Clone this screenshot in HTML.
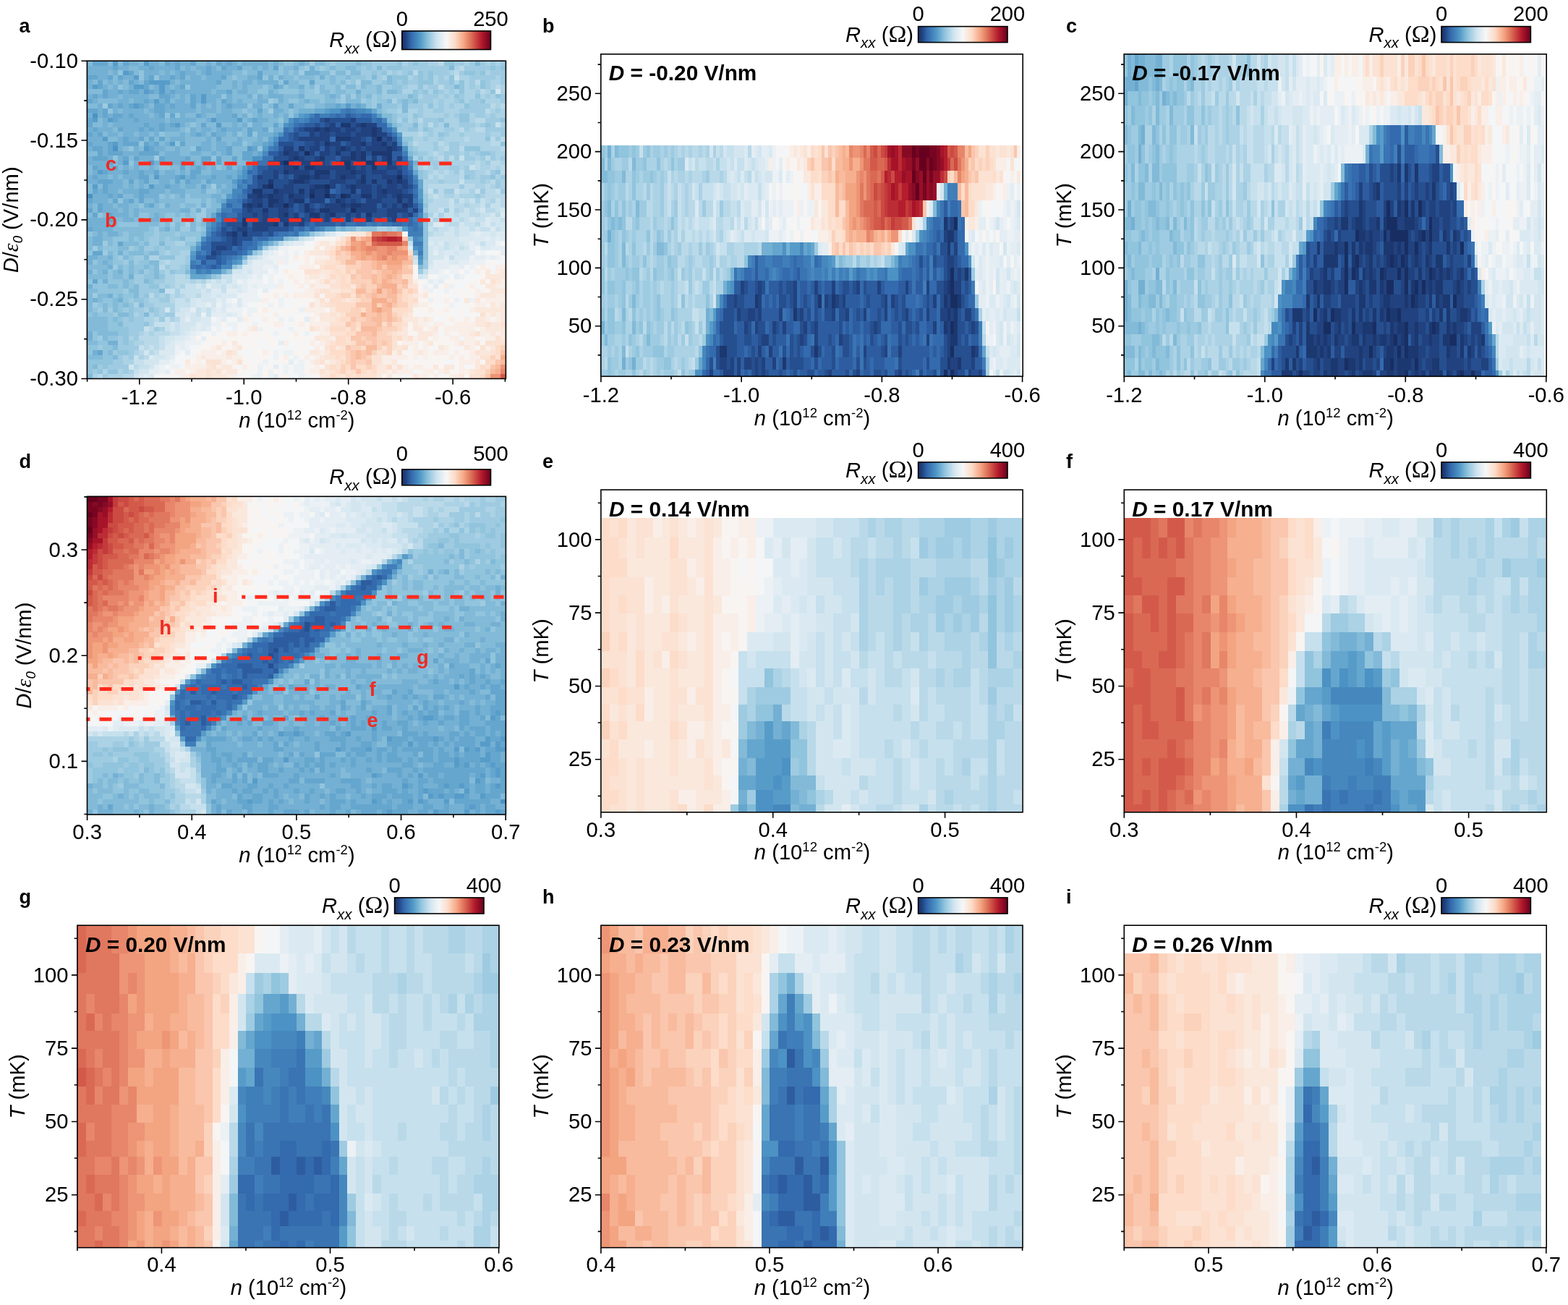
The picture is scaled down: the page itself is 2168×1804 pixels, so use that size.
<!DOCTYPE html>
<html lang="en"><head><meta charset="utf-8"><title>Figure</title>
<style>html,body{margin:0;padding:0;background:#fff}svg{display:block}text{font-family:"Liberation Sans",Arial,sans-serif;fill:#000}</style></head>
<body>
<svg xmlns="http://www.w3.org/2000/svg" width="2168" height="1804" viewBox="0 0 2168 1804">
<defs><linearGradient id="cb" x1="0" y1="0" x2="1" y2="0"><stop offset="0" stop-color="#182e62"/><stop offset="0.05" stop-color="#224684"/><stop offset="0.1" stop-color="#3267ac"/><stop offset="0.2" stop-color="#4e96c6"/><stop offset="0.3" stop-color="#92c5de"/><stop offset="0.4" stop-color="#d1e5f0"/><stop offset="0.5" stop-color="#f7f7f7"/><stop offset="0.6" stop-color="#fddbc7"/><stop offset="0.7" stop-color="#f4a582"/><stop offset="0.8" stop-color="#d6604d"/><stop offset="0.9" stop-color="#b2182b"/><stop offset="1" stop-color="#67001f"/></linearGradient></defs>
<rect width="2168" height="1804" fill="#fff"/>
<g id="panel-a">
<g shape-rendering="crispEdges" fill="none" stroke-width="1.06" transform="translate(120.40 87.48) scale(7.1481 6.5567)"><path stroke="#182e62" d="M56 16h1M42 19h1M38 21h1M60 24h1M35 26h1M46 26h1M43 28h1M46 28h1M49 28h1M38 30h1M51 31h1M44 33h1"/><path stroke="#1c3870" d="M49 13h2M53 13h1M44 14h1M46 14h1M55 14h1M55 15h1M48 16h3M46 17h1M53 17h1M57 17h1M41 18h1M49 18h1M58 18h1M38 19h1M48 19h1M51 19h1M53 19h1M55 19h4M40 20h1M45 20h1M51 20h1M53 20h1M58 20h1M44 21h1M49 21h2M54 21h2M58 21h1M40 22h1M42 22h2M50 22h1M55 22h1M38 23h1M44 23h3M51 23h1M41 24h2M44 24h1M49 24h1M53 24h1M35 25h1M40 25h2M53 25h1M55 25h1M58 25h1M60 25h1M34 26h1M44 26h2M51 26h1M32 27h2M36 27h1M41 27h1M43 27h1M46 27h1M51 27h1M57 27h1M33 28h1M35 28h1M39 28h1M50 28h1M53 28h2M60 28h1M35 29h2M40 29h2M48 29h1M60 29h1M31 30h1M33 30h1M35 30h1M42 30h1M49 30h1M51 30h2M61 30h1M34 31h1M42 31h1M45 31h2M38 32h1M43 32h2M47 32h1M54 32h1M30 33h1M40 33h1M30 34h1M36 34h1M38 34h1M28 36h1M30 36h1"/><path stroke="#21427f" d="M46 12h1M51 12h1M47 13h1M52 13h1M54 13h2M42 14h2M45 14h1M47 14h2M50 14h2M53 14h2M56 14h1M43 15h1M45 15h2M48 15h3M52 15h3M56 15h2M41 16h6M51 16h2M55 16h1M58 16h1M44 17h1M47 17h2M51 17h2M55 17h2M59 17h1M38 18h2M43 18h2M46 18h1M48 18h1M50 18h1M52 18h1M54 18h4M59 18h1M39 19h2M43 19h1M45 19h2M52 19h1M39 20h1M41 20h1M44 20h1M49 20h2M52 20h1M55 20h1M57 20h1M60 20h1M37 21h1M39 21h1M41 21h3M45 21h1M52 21h2M57 21h1M38 22h2M44 22h6M51 22h1M53 22h1M58 22h2M36 23h1M39 23h4M48 23h3M52 23h2M55 23h3M60 23h1M33 24h1M36 24h1M40 24h1M43 24h1M45 24h2M48 24h1M50 24h2M57 24h3M39 25h1M42 25h1M47 25h3M52 25h1M59 25h1M61 25h1M38 26h2M43 26h1M47 26h1M50 26h1M52 26h3M56 26h1M58 26h2M61 26h1M37 27h3M44 27h2M53 27h2M56 27h1M58 27h3M31 28h2M34 28h1M36 28h2M40 28h2M44 28h2M47 28h1M56 28h2M59 28h1M61 28h2M32 29h2M37 29h1M39 29h1M43 29h3M49 29h1M51 29h1M54 29h3M62 29h1M30 30h1M32 30h1M36 30h2M39 30h1M46 30h3M50 30h1M53 30h3M57 30h1M59 30h1M62 30h1M31 31h1M37 31h2M43 31h1M47 31h3M52 31h4M58 31h4M63 31h1M32 32h1M34 32h1M37 32h1M40 32h1M46 32h1M50 32h1M52 32h1M58 32h2M62 32h1M34 33h1M37 33h3M41 33h1M43 33h1M46 33h1M48 33h1M50 33h1M52 33h1M54 33h1M59 33h1M32 34h4M41 34h1M29 35h2M32 35h3M27 36h1M28 37h1M28 38h1M25 39h2M24 40h1"/><path stroke="#264f8f" d="M45 12h1M47 12h4M44 13h1M46 13h1M51 13h1M41 14h1M49 14h1M52 14h1M40 15h1M44 15h1M47 15h1M51 15h1M40 16h1M53 16h1M57 16h1M37 17h3M42 17h2M45 17h1M50 17h1M54 17h1M58 17h1M42 18h1M47 18h1M51 18h1M53 18h1M60 18h1M37 19h1M41 19h1M47 19h1M49 19h2M54 19h1M36 20h3M42 20h2M46 20h2M35 21h2M46 21h1M48 21h1M51 21h1M56 21h1M59 21h2M35 22h3M41 22h1M52 22h1M54 22h1M56 22h2M60 22h1M34 23h2M37 23h1M43 23h1M47 23h1M54 23h1M58 23h2M34 24h2M38 24h1M47 24h1M52 24h1M54 24h3M61 24h1M33 25h2M36 25h3M43 25h4M50 25h2M54 25h1M56 25h2M33 26h1M36 26h2M40 26h3M49 26h1M55 26h1M57 26h1M60 26h1M62 26h1M34 27h2M40 27h1M42 27h1M49 27h2M55 27h1M61 27h1M38 28h1M42 28h1M48 28h1M51 28h2M55 28h1M58 28h1M31 29h1M34 29h1M38 29h1M47 29h1M50 29h1M52 29h1M57 29h3M61 29h1M34 30h1M41 30h1M43 30h1M45 30h1M58 30h1M60 30h1M30 31h1M32 31h2M35 31h2M39 31h1M41 31h1M44 31h1M50 31h1M56 31h2M30 32h2M33 32h1M35 32h2M39 32h1M42 32h1M45 32h1M48 32h2M51 32h1M55 32h3M61 32h1M28 33h1M31 33h3M35 33h1M42 33h1M45 33h1M53 33h1M56 33h1M58 33h1M60 33h2M27 34h3M39 34h2M26 35h1M28 35h1M31 35h1M35 35h4M26 36h1M29 36h1M31 36h3M35 36h1M27 37h1M29 37h3M24 38h4M29 38h1M24 39h1M27 39h1M25 40h1M23 41h2"/><path stroke="#2d5da0" d="M50 11h1M52 12h3M42 13h2M45 13h1M48 13h1M40 14h1M39 15h1M41 15h2M58 15h1M39 16h1M54 16h1M59 16h1M40 17h2M49 17h1M37 18h1M40 18h1M45 18h1M35 19h2M44 19h1M59 19h2M48 20h1M54 20h1M56 20h1M59 20h1M40 21h1M47 21h1M61 21h1M33 22h2M61 22h1M33 23h1M61 23h1M32 24h1M37 24h1M39 24h1M62 24h1M32 25h1M62 25h1M31 26h2M48 26h1M31 27h1M48 27h1M52 27h1M62 27h1M30 29h1M42 29h1M53 29h1M40 30h1M44 30h1M56 30h1M63 30h1M40 31h1M62 31h1M29 32h1M41 32h1M53 32h1M60 32h1M29 33h1M36 33h1M47 33h1M51 33h1M55 33h1M26 34h1M31 34h1M37 34h1M42 34h1M44 34h4M49 34h1M27 35h1M39 35h1M25 36h1M34 36h1M26 37h1M29 39h1M26 40h3M25 41h1M22 42h1M25 42h1M24 43h1"/><path stroke="#346aae" d="M44 11h1M48 11h1M51 11h1M53 11h2M43 12h2M56 12h1M41 13h1M56 13h2M57 14h1M38 15h1M37 16h2M47 16h1M61 20h1M31 23h1M62 23h1M63 26h1M30 27h1M47 27h1M63 28h1M46 29h1M27 30h1M28 31h2M26 32h1M63 32h1M26 33h2M49 33h1M57 33h1M62 33h1M43 34h1M48 34h1M52 34h2M59 34h2M62 34h1M25 35h1M41 35h1M43 35h1M24 36h1M36 36h1M24 37h2M33 37h2M23 38h1M30 38h2M22 39h2M28 39h1M30 39h1M23 40h1M29 40h1M21 41h2M26 41h1M26 42h1M21 43h1M23 43h1M25 43h1"/><path stroke="#3a74b3" d="M50 10h1M47 11h1M49 11h1M52 11h1M55 12h1M40 13h1M38 14h1M58 14h1M59 15h1M36 18h1M34 20h2M33 21h2M32 22h1M32 23h1M30 25h1M63 27h1M30 28h1M29 29h1M63 29h1M64 31h1M27 32h2M25 34h1M50 34h2M55 34h1M57 34h2M61 34h1M63 34h1M40 35h1M63 35h1M37 36h2M40 36h1M23 37h1M32 37h1M22 38h1M32 38h1M31 39h2M21 40h1M30 40h1M27 41h1M23 42h2M20 43h1M22 43h1"/><path stroke="#407eb9" d="M49 10h1M51 10h1M43 11h1M45 11h2M55 11h1M40 12h1M42 12h1M39 14h1M36 17h1M60 17h1M35 18h1M61 19h1M62 22h1M31 24h1M31 25h1M63 25h1M29 26h1M29 28h1M27 29h2M28 30h2M64 30h1M26 31h2M25 32h1M63 33h2M54 34h1M56 34h1M24 35h1M42 35h1M44 35h1M62 35h1M64 35h1M39 36h1M62 36h3M35 37h1M63 38h2M22 40h1M64 40h1M28 41h1M20 42h1M27 42h1M21 44h1M23 44h1"/><path stroke="#4688be" d="M52 10h2M41 12h1M57 12h1M39 13h1M60 16h1M34 19h1M32 21h1M62 21h1M31 22h1M63 24h1M29 25h1M30 26h1M28 27h2M28 28h1M26 30h1M64 32h1M25 33h1M24 34h1M64 34h1M45 35h1M23 36h1M36 37h2M63 37h1M33 38h1M64 39h1M29 41h1M21 42h1M26 43h2M22 44h1"/><path stroke="#4c92c4" d="M47 10h2M54 10h1M1 11h1M42 11h1M39 12h1M38 13h1M59 14h1M37 15h1M36 16h1M5 18h1M61 18h1M32 20h2M30 23h1M30 24h1M0 28h1M64 29h1M24 33h1M23 35h1M22 37h1M64 37h1M21 39h1M63 39h1M31 40h1M20 41h1M64 41h1M28 42h1M24 44h2"/><path stroke="#579cc9" d="M5 0h1M11 0h1M7 2h1M9 3h1M12 4h4M1 5h1M9 5h2M14 5h1M11 6h1M14 6h1M22 7h1M13 8h1M22 8h1M9 9h1M50 9h1M46 10h1M41 11h1M56 11h1M1 12h1M4 12h1M24 12h1M29 12h1M17 13h1M25 13h1M58 13h1M60 15h1M3 16h1M5 17h1M16 17h1M35 17h1M11 18h1M31 18h1M34 18h1M7 21h1M12 21h1M30 22h1M2 23h1M13 24h1M18 24h1M29 24h1M28 25h1M1 26h1M12 26h1M64 27h1M27 28h1M64 28h1M23 34h1M46 35h2M61 35h1M41 36h1M34 38h1M33 39h1M20 40h1M29 42h1M64 42h1M20 44h1"/><path stroke="#65a6ce" d="M1 0h3M7 0h1M15 0h1M17 0h1M20 0h1M25 0h1M27 0h1M5 1h1M12 1h1M17 1h1M23 1h1M26 1h1M29 1h1M36 1h1M8 2h1M18 2h1M23 2h1M33 2h1M0 3h2M4 3h1M6 3h1M12 3h1M16 3h1M18 3h1M26 3h1M33 3h1M2 4h1M8 4h1M11 4h1M25 4h1M38 4h1M43 4h1M2 5h1M11 5h1M18 5h1M36 5h1M3 6h1M6 6h1M8 6h2M12 6h1M16 6h1M27 6h1M1 7h1M3 7h1M14 7h2M20 7h1M0 8h1M11 8h1M15 8h1M20 8h1M26 8h1M4 9h1M6 9h1M8 9h1M10 9h1M13 9h2M16 9h1M20 9h1M27 9h1M36 9h1M39 9h1M48 9h1M52 9h1M0 10h2M3 10h1M13 10h2M33 10h1M44 10h2M55 10h1M3 11h1M5 11h2M8 11h1M14 11h1M16 11h1M21 11h1M28 11h1M0 12h1M5 12h1M9 12h1M32 12h1M0 13h1M11 13h1M14 13h1M16 13h1M22 13h1M36 13h1M1 14h1M6 14h1M10 14h1M12 14h1M14 14h1M26 14h1M31 14h1M34 14h1M0 15h1M2 15h1M21 15h1M24 15h1M31 15h1M36 15h1M7 16h1M10 16h1M12 16h1M14 16h1M25 16h1M35 16h1M0 17h1M4 17h1M7 17h3M11 17h1M13 17h1M18 17h1M34 17h1M1 18h2M4 18h1M12 18h1M21 18h1M27 18h1M32 18h1M2 19h1M4 19h3M10 19h4M27 19h1M30 19h2M33 19h1M1 20h3M7 20h1M9 20h1M14 20h1M19 20h1M22 20h2M25 20h1M28 20h1M30 20h2M62 20h1M4 21h1M14 21h1M18 21h1M22 21h1M25 21h1M1 22h1M5 22h1M18 22h1M21 22h1M27 22h1M3 23h1M7 23h1M10 23h1M13 23h1M20 23h2M29 23h1M63 23h1M1 24h1M10 24h2M17 24h1M20 24h1M24 24h1M27 24h1M2 25h3M8 25h1M11 25h1M17 25h1M19 25h1M23 25h1M64 25h1M3 26h1M15 26h1M22 26h1M28 26h1M64 26h1M1 27h1M3 27h1M10 27h2M4 28h1M6 28h1M10 28h1M0 29h1M5 29h1M8 29h1M10 29h1M26 29h1M2 30h1M12 30h1M0 31h1M2 31h1M25 31h1M1 32h1M4 32h1M24 32h1M4 33h1M0 35h1M42 36h1M6 38h1M21 38h1M1 40h2M20 45h3M1 46h1M2 61h1"/><path stroke="#74b0d3" d="M8 0h2M12 0h2M16 0h1M18 0h2M23 0h1M26 0h1M28 0h1M30 0h5M36 0h1M41 0h1M0 1h5M6 1h2M10 1h2M13 1h4M19 1h1M21 1h2M24 1h1M27 1h2M32 1h1M34 1h1M40 1h1M43 1h1M0 2h4M5 2h1M11 2h3M15 2h1M17 2h1M19 2h2M22 2h1M24 2h4M42 2h3M2 3h2M7 3h2M11 3h1M14 3h2M17 3h1M20 3h2M23 3h3M31 3h2M35 3h1M37 3h1M45 3h1M0 4h1M4 4h1M6 4h1M9 4h1M16 4h1M18 4h7M28 4h1M30 4h2M33 4h4M0 5h1M3 5h1M5 5h1M8 5h1M13 5h1M15 5h1M17 5h1M20 5h5M28 5h1M30 5h1M37 5h1M41 5h1M4 6h2M7 6h1M10 6h1M13 6h1M15 6h1M17 6h7M25 6h2M29 6h2M35 6h1M52 6h1M0 7h1M2 7h1M4 7h2M7 7h5M16 7h1M18 7h1M21 7h1M23 7h3M27 7h1M31 7h1M33 7h1M35 7h3M41 7h1M47 7h1M1 8h1M6 8h2M9 8h2M12 8h1M14 8h1M17 8h2M21 8h1M23 8h2M27 8h1M29 8h1M33 8h2M37 8h1M42 8h1M2 9h1M5 9h1M7 9h1M11 9h1M15 9h1M17 9h3M22 9h1M24 9h1M26 9h1M28 9h3M32 9h2M46 9h2M49 9h1M51 9h1M53 9h1M56 9h1M2 10h1M5 10h1M7 10h4M12 10h1M15 10h6M22 10h3M26 10h2M36 10h2M41 10h3M0 11h1M2 11h1M4 11h1M7 11h1M9 11h3M13 11h1M18 11h1M22 11h1M25 11h3M30 11h1M33 11h1M36 11h1M38 11h1M40 11h1M3 12h1M6 12h3M10 12h5M16 12h5M23 12h1M25 12h4M31 12h1M33 12h2M38 12h1M3 13h1M5 13h6M12 13h2M15 13h1M18 13h1M28 13h1M30 13h1M32 13h2M0 14h1M2 14h3M7 14h3M11 14h1M13 14h1M15 14h3M20 14h1M22 14h2M25 14h1M27 14h3M32 14h2M36 14h2M1 15h1M4 15h2M7 15h2M10 15h2M13 15h1M18 15h1M20 15h1M22 15h1M25 15h2M28 15h1M33 15h3M0 16h3M6 16h1M8 16h2M16 16h3M23 16h1M29 16h1M33 16h1M1 17h3M6 17h1M12 17h1M15 17h1M22 17h2M25 17h2M28 17h2M32 17h2M0 18h1M3 18h1M6 18h1M9 18h1M13 18h2M17 18h1M22 18h2M25 18h2M3 19h1M7 19h3M15 19h3M20 19h2M24 19h1M26 19h1M32 19h1M0 20h1M4 20h1M6 20h1M10 20h3M15 20h4M0 21h4M6 21h1M9 21h1M11 21h1M13 21h1M15 21h3M19 21h2M23 21h1M28 21h1M31 21h1M63 21h1M2 22h3M7 22h1M9 22h1M12 22h1M20 22h1M22 22h1M24 22h1M29 22h1M1 23h1M4 23h3M8 23h2M11 23h2M15 23h2M18 23h1M24 23h5M0 24h1M2 24h2M5 24h1M7 24h3M14 24h3M19 24h1M21 24h3M25 24h2M28 24h1M0 25h2M5 25h2M10 25h1M14 25h2M20 25h2M24 25h4M4 26h3M8 26h1M10 26h1M13 26h2M16 26h2M19 26h2M25 26h1M27 26h1M2 27h1M4 27h2M7 27h3M12 27h3M16 27h3M22 27h1M26 27h2M1 28h3M5 28h1M9 28h1M11 28h3M18 28h1M24 28h2M1 29h3M7 29h1M13 29h1M25 29h1M0 30h1M3 30h2M6 30h2M11 30h1M15 30h1M22 30h1M3 31h3M7 31h1M9 31h1M18 31h2M21 31h1M5 32h3M9 32h1M13 32h1M0 33h4M7 33h2M10 33h1M12 33h2M0 34h5M1 35h4M15 35h1M49 35h1M2 36h1M4 36h2M1 37h2M1 38h2M35 38h1M20 39h1M6 40h1M63 40h1M0 41h2M4 41h1M30 41h1M0 42h1M3 42h1M4 43h1M0 44h1M3 44h1M6 44h1M26 44h1M8 45h1M23 45h1M3 46h1M0 47h1M4 49h1M1 50h1M6 50h1M0 57h1M0 58h1M4 59h2M1 61h1"/><path stroke="#82bad8" d="M0 0h1M4 0h1M6 0h1M10 0h1M14 0h1M21 0h2M24 0h1M29 0h1M35 0h1M37 0h1M40 0h1M42 0h1M44 0h2M52 0h1M75 0h1M8 1h2M18 1h1M20 1h1M25 1h1M30 1h2M33 1h1M35 1h1M38 1h2M47 1h1M50 1h2M56 1h1M70 1h1M4 2h1M9 2h1M14 2h1M16 2h1M21 2h1M28 2h2M31 2h2M34 2h3M38 2h1M40 2h1M45 2h2M48 2h2M51 2h2M5 3h1M19 3h1M22 3h1M27 3h1M29 3h2M38 3h2M41 3h3M47 3h1M50 3h1M55 3h1M58 3h1M1 4h1M3 4h1M5 4h1M7 4h1M10 4h1M17 4h1M26 4h2M29 4h1M32 4h1M39 4h2M47 4h1M49 4h1M53 4h2M58 4h1M4 5h1M7 5h1M12 5h1M16 5h1M25 5h3M29 5h1M31 5h3M35 5h1M39 5h2M43 5h1M45 5h1M48 5h1M50 5h2M53 5h1M56 5h1M71 5h1M0 6h3M24 6h1M28 6h1M31 6h2M36 6h1M41 6h1M45 6h2M48 6h2M56 6h1M58 6h2M6 7h1M12 7h2M17 7h1M19 7h1M28 7h3M34 7h1M38 7h3M46 7h1M48 7h1M50 7h1M52 7h1M54 7h1M62 7h1M2 8h4M8 8h1M16 8h1M19 8h1M25 8h1M28 8h1M30 8h3M38 8h1M41 8h1M43 8h2M46 8h2M50 8h3M58 8h1M61 8h1M63 8h1M0 9h2M12 9h1M21 9h1M23 9h1M25 9h1M35 9h1M37 9h2M40 9h2M44 9h2M61 9h1M6 10h1M11 10h1M21 10h1M25 10h1M28 10h2M31 10h2M34 10h1M38 10h1M40 10h1M56 10h1M61 10h1M12 11h1M19 11h2M23 11h2M29 11h1M32 11h1M34 11h2M37 11h1M57 11h2M2 12h1M15 12h1M21 12h2M30 12h1M35 12h2M58 12h1M1 13h2M4 13h1M19 13h1M21 13h1M23 13h2M26 13h2M29 13h1M34 13h2M37 13h1M59 13h1M63 13h1M69 13h1M5 14h1M18 14h1M21 14h1M24 14h1M30 14h1M3 15h1M6 15h1M9 15h1M12 15h1M15 15h3M19 15h1M23 15h1M27 15h1M30 15h1M4 16h2M11 16h1M13 16h1M15 16h1M19 16h4M24 16h1M26 16h3M30 16h3M34 16h1M14 17h1M19 17h3M24 17h1M27 17h1M31 17h1M61 17h1M7 18h1M10 18h1M15 18h2M18 18h2M24 18h1M28 18h3M0 19h2M14 19h1M18 19h2M22 19h2M25 19h1M28 19h2M62 19h1M8 20h1M20 20h2M26 20h2M29 20h1M5 21h1M10 21h1M21 21h1M26 21h2M29 21h2M0 22h1M6 22h1M8 22h1M10 22h2M13 22h1M16 22h2M19 22h1M23 22h1M26 22h1M28 22h1M63 22h1M0 23h1M14 23h1M17 23h1M19 23h1M22 23h2M4 24h1M6 24h1M12 24h1M7 25h1M9 25h1M12 25h2M16 25h1M18 25h1M22 25h1M0 26h1M2 26h1M7 26h1M9 26h1M11 26h1M18 26h1M21 26h1M23 26h1M26 26h1M0 27h1M6 27h1M15 27h1M19 27h3M25 27h1M7 28h2M15 28h1M17 28h1M20 28h4M26 28h1M4 29h1M9 29h1M11 29h2M14 29h5M22 29h1M24 29h1M1 30h1M5 30h1M8 30h2M13 30h1M16 30h2M19 30h2M24 30h2M1 31h1M6 31h1M8 31h1M10 31h8M23 31h2M0 32h1M3 32h1M8 32h1M12 32h1M14 32h1M17 32h1M19 32h1M23 32h1M65 32h1M5 33h2M9 33h1M14 33h1M20 33h1M22 33h2M65 33h1M5 34h1M10 34h4M15 34h1M17 34h1M20 34h1M22 34h1M5 35h7M14 35h1M17 35h1M20 35h1M48 35h1M50 35h2M1 36h1M3 36h1M6 36h1M8 36h3M22 36h1M0 37h1M3 37h2M8 37h1M10 37h1M18 37h1M38 37h1M0 38h1M4 38h1M7 38h3M11 38h1M14 38h1M0 39h1M2 39h1M6 39h2M10 39h1M4 40h1M8 40h3M12 40h2M2 41h2M7 41h1M11 41h1M2 42h1M4 42h1M8 42h1M12 42h2M0 43h4M6 43h1M8 43h1M11 43h1M13 43h1M64 43h1M2 44h1M5 44h1M8 44h1M10 44h1M13 44h1M19 44h1M0 45h4M5 45h2M13 45h1M7 46h1M11 46h1M4 47h2M7 47h1M9 47h1M0 48h2M8 48h2M14 48h1M0 49h1M2 49h2M6 49h1M9 49h1M0 50h1M2 50h1M5 50h1M0 51h1M3 51h1M5 51h1M7 51h1M10 51h1M0 52h1M3 52h1M5 52h1M1 53h1M6 53h2M11 53h1M0 54h4M5 54h1M0 55h4M6 55h1M0 56h4M2 57h4M3 58h1M0 59h2M5 60h1M4 61h1M0 62h3M5 62h1M1 64h1M0 66h1"/><path stroke="#91c4dd" d="M38 0h2M46 0h1M48 0h4M53 0h2M60 0h1M63 0h1M69 0h2M37 1h1M41 1h1M44 1h1M46 1h1M48 1h2M52 1h1M54 1h1M58 1h3M78 1h1M80 1h1M6 2h1M10 2h1M30 2h1M37 2h1M39 2h1M55 2h1M57 2h1M62 2h1M64 2h1M66 2h1M73 2h2M76 2h1M10 3h1M13 3h1M28 3h1M34 3h1M36 3h1M40 3h1M44 3h1M46 3h1M48 3h2M51 3h3M59 3h3M64 3h1M66 3h1M70 3h1M37 4h1M41 4h2M44 4h3M48 4h1M51 4h1M57 4h1M59 4h1M61 4h1M64 4h3M70 4h1M72 4h1M76 4h1M6 5h1M19 5h1M34 5h1M38 5h1M42 5h1M46 5h2M54 5h2M59 5h2M64 5h1M72 5h1M76 5h1M33 6h2M37 6h4M42 6h2M47 6h1M50 6h2M53 6h3M60 6h1M63 6h1M65 6h1M67 6h1M72 6h1M78 6h1M26 7h1M32 7h1M42 7h4M53 7h1M56 7h1M63 7h1M71 7h1M75 7h1M79 7h1M36 8h1M39 8h2M45 8h1M48 8h1M54 8h1M56 8h2M60 8h1M62 8h1M72 8h1M76 8h1M31 9h1M34 9h1M42 9h2M54 9h1M57 9h3M66 9h1M73 9h1M4 10h1M30 10h1M39 10h1M57 10h1M15 11h1M17 11h1M31 11h1M39 11h1M59 11h1M63 11h1M72 11h2M37 12h1M59 12h1M61 12h1M68 12h1M72 12h2M80 12h1M20 13h1M31 13h1M60 13h1M77 13h1M19 14h1M35 14h1M62 14h2M65 14h1M14 15h1M29 15h1M32 15h1M68 15h1M61 16h2M77 16h1M10 17h1M17 17h1M30 17h1M80 17h1M8 18h1M20 18h1M33 18h1M62 18h1M73 18h3M63 19h1M76 19h2M5 20h1M24 20h1M64 20h1M8 21h1M24 21h1M14 22h2M25 22h1M64 23h1M79 23h1M64 24h1M73 24h1M78 24h1M23 27h2M14 28h1M16 28h1M19 28h1M6 29h1M19 29h3M23 29h1M10 30h1M14 30h1M18 30h1M21 30h1M23 30h1M65 30h1M20 31h1M2 32h1M10 32h2M15 32h2M18 32h1M20 32h1M11 33h1M15 33h5M6 34h4M14 34h1M18 34h1M21 34h1M65 34h1M12 35h1M16 35h1M22 35h1M53 35h3M60 35h1M65 35h1M0 36h1M7 36h1M11 36h2M14 36h3M18 36h4M43 36h1M65 36h1M5 37h3M9 37h1M11 37h1M14 37h1M16 37h2M21 37h1M39 37h1M62 37h1M65 37h1M5 38h1M10 38h1M19 38h2M36 38h1M65 38h1M3 39h3M9 39h1M13 39h1M15 39h1M65 39h1M0 40h1M5 40h1M7 40h1M11 40h1M32 40h1M65 40h1M5 41h1M8 41h1M14 41h3M65 41h1M1 42h1M5 42h2M10 42h2M7 43h1M9 43h2M12 43h1M19 43h1M28 43h1M1 44h1M4 44h1M7 44h1M9 44h1M12 44h1M16 44h1M27 44h1M4 45h1M7 45h1M11 45h2M14 45h1M24 45h1M0 46h1M2 46h1M4 46h3M8 46h1M12 46h1M1 47h3M6 47h1M8 47h1M12 47h2M2 48h5M5 49h1M7 49h2M11 49h1M3 50h2M7 50h1M9 50h2M2 51h1M4 51h1M6 51h1M8 51h1M1 52h1M6 52h1M8 52h1M12 52h1M0 53h1M2 53h3M8 53h1M4 54h1M6 54h1M8 54h1M4 55h2M11 55h1M4 56h4M1 57h1M6 57h2M1 58h1M4 58h2M7 58h1M2 59h2M7 59h1M0 60h2M3 60h2M0 61h1M3 61h1M6 61h2M3 62h2M0 63h5M0 64h1M3 64h1M0 65h1M2 65h1M4 65h2"/><path stroke="#9ecbe1" d="M43 0h1M47 0h1M55 0h5M62 0h1M64 0h2M71 0h2M74 0h1M76 0h1M78 0h1M80 0h1M42 1h1M45 1h1M53 1h1M55 1h1M57 1h1M61 1h9M73 1h5M79 1h1M41 2h1M47 2h1M50 2h1M53 2h2M56 2h1M59 2h1M61 2h1M65 2h1M67 2h3M72 2h1M75 2h1M78 2h3M54 3h1M56 3h1M63 3h1M65 3h1M68 3h1M74 3h5M80 3h1M50 4h1M55 4h2M60 4h1M62 4h2M68 4h2M74 4h1M77 4h1M80 4h1M44 5h1M49 5h1M52 5h1M57 5h2M61 5h1M66 5h2M69 5h2M74 5h1M77 5h1M44 6h1M57 6h1M64 6h1M68 6h1M70 6h1M75 6h1M49 7h1M51 7h1M55 7h1M57 7h5M65 7h3M69 7h1M72 7h1M77 7h1M80 7h1M35 8h1M49 8h1M53 8h1M55 8h1M64 8h3M68 8h1M71 8h1M74 8h2M80 8h1M3 9h1M55 9h1M60 9h1M62 9h3M68 9h1M70 9h1M74 9h4M35 10h1M58 10h2M64 10h1M67 10h2M72 10h5M79 10h1M60 11h2M64 11h1M69 11h1M71 11h1M75 11h2M78 11h1M63 12h1M65 12h3M77 12h3M61 13h2M65 13h1M67 13h1M72 13h3M76 13h1M78 13h1M60 14h2M66 14h1M69 14h2M73 14h1M77 14h4M66 15h1M69 15h1M72 15h1M77 15h1M80 15h1M65 16h1M68 16h1M79 16h1M62 17h1M67 17h1M70 17h2M63 18h1M67 18h1M70 18h2M64 19h2M69 19h3M73 19h1M75 19h1M78 19h1M13 20h1M66 20h1M69 20h1M71 20h1M73 20h2M76 20h1M78 20h1M80 20h1M65 21h5M77 21h1M67 22h1M70 22h2M73 22h1M65 23h1M71 23h1M73 23h2M78 23h1M65 24h1M74 24h1M76 24h2M80 24h1M68 25h1M76 25h1M79 25h1M24 26h1M72 26h1M79 26h1M67 27h1M69 27h2M76 27h1M80 27h1M65 28h1M75 28h1M65 29h1M22 31h1M65 31h1M69 31h1M21 32h2M21 33h1M16 34h1M13 35h1M18 35h2M21 35h1M52 35h1M58 35h1M13 36h1M17 36h1M12 37h2M15 37h1M19 37h2M40 37h1M3 38h1M12 38h2M15 38h2M1 39h1M8 39h1M11 39h2M14 39h1M16 39h4M34 39h1M3 40h1M14 40h1M16 40h2M6 41h1M9 41h2M19 41h1M7 42h1M9 42h1M19 42h1M65 42h1M5 43h1M15 43h1M18 43h1M65 43h1M11 44h1M14 44h1M17 44h2M64 44h1M9 45h2M25 45h1M9 46h2M13 46h2M10 47h2M15 47h1M7 48h1M10 48h4M1 49h1M10 49h1M13 49h1M15 49h1M8 50h1M11 50h1M14 50h2M1 51h1M11 51h2M2 52h1M4 52h1M7 52h1M9 52h2M13 52h1M5 53h1M10 53h1M13 53h1M15 53h2M7 54h1M9 54h2M14 54h1M7 55h4M8 56h3M13 56h1M8 57h2M2 58h1M6 58h1M9 58h1M6 59h1M8 59h1M2 60h1M6 60h4M5 61h1M8 61h1M6 62h1M8 62h1M5 63h2M2 64h1M4 64h4M1 65h1M7 65h1M3 66h1"/><path stroke="#abd2e5" d="M61 0h1M66 0h2M73 0h1M77 0h1M79 0h1M71 1h1M58 2h1M60 2h1M70 2h1M77 2h1M57 3h1M62 3h1M67 3h1M69 3h1M72 3h2M79 3h1M52 4h1M67 4h1M71 4h1M73 4h1M78 4h2M62 5h2M65 5h1M73 5h1M75 5h1M78 5h1M80 5h1M61 6h2M66 6h1M69 6h1M71 6h1M73 6h2M77 6h1M80 6h1M64 7h1M68 7h1M70 7h1M73 7h2M76 7h1M78 7h1M59 8h1M67 8h1M69 8h2M73 8h1M77 8h3M65 9h1M67 9h1M69 9h1M71 9h2M79 9h1M60 10h1M62 10h2M65 10h2M69 10h3M78 10h1M80 10h1M62 11h1M65 11h4M70 11h1M74 11h1M77 11h1M79 11h2M60 12h1M62 12h1M69 12h3M74 12h1M64 13h1M68 13h1M70 13h2M75 13h1M80 13h1M64 14h1M67 14h2M71 14h1M74 14h1M61 15h3M65 15h1M67 15h1M70 15h2M73 15h4M78 15h2M63 16h2M66 16h2M69 16h4M74 16h3M64 17h3M69 17h1M72 17h6M64 18h3M68 18h1M76 18h4M66 19h1M68 19h1M72 19h1M74 19h1M79 19h2M63 20h1M65 20h1M67 20h1M75 20h1M79 20h1M64 21h1M70 21h5M76 21h1M80 21h1M64 22h1M66 22h1M68 22h2M72 22h1M76 22h2M79 22h1M66 23h1M68 23h1M70 23h1M75 23h2M67 24h1M69 24h3M75 24h1M79 24h1M65 25h3M69 25h3M73 25h3M77 25h1M80 25h1M65 26h1M75 26h2M78 26h1M80 26h1M65 27h1M74 27h1M69 28h2M72 28h3M76 28h1M66 29h1M71 29h1M75 29h1M78 29h1M73 30h1M77 30h1M71 31h1M66 32h1M68 32h1M67 33h1M19 34h1M56 35h2M59 35h1M44 36h1M17 38h2M15 40h1M18 40h2M33 40h1M12 41h2M17 41h2M14 42h1M16 42h3M30 42h1M16 43h2M29 43h1M15 44h1M15 45h2M19 45h1M15 46h2M20 46h1M22 46h1M14 47h1M16 47h1M18 47h1M17 48h1M14 49h1M17 49h1M12 50h2M9 51h1M13 51h4M11 52h1M14 52h1M16 52h1M9 53h1M12 53h1M14 53h1M11 54h2M16 54h1M12 55h1M14 56h1M10 57h1M12 57h1M8 58h1M9 59h2M9 61h1M7 62h1M10 62h1M7 63h2M3 65h1M6 65h1M8 65h1M1 66h1M4 66h3"/><path stroke="#b9d9e9" d="M68 0h1M72 1h1M63 2h1M71 2h1M75 4h1M68 5h1M79 5h1M76 6h1M78 9h1M80 9h1M77 10h1M64 12h1M75 12h2M66 13h1M72 14h1M75 14h2M64 15h1M73 16h1M78 16h1M80 16h1M63 17h1M68 17h1M78 17h2M69 18h1M72 18h1M80 18h1M67 19h1M68 20h1M70 20h1M77 20h1M75 21h1M78 21h2M65 22h1M75 22h1M78 22h1M80 22h1M67 23h1M69 23h1M72 23h1M77 23h1M80 23h1M66 24h1M68 24h1M72 24h1M78 25h1M66 26h6M73 26h2M77 26h1M68 27h1M72 27h2M77 27h2M66 28h1M68 28h1M71 28h1M77 28h4M67 29h3M73 29h1M77 29h1M80 29h1M66 30h4M71 30h2M74 30h2M80 30h1M66 31h2M72 31h1M74 31h1M77 31h2M71 32h1M74 32h2M79 32h1M68 33h1M72 33h1M66 34h1M70 34h2M75 34h1M67 35h1M45 36h1M66 36h1M37 38h1M31 41h1M15 42h1M14 43h1M17 45h2M17 46h3M21 46h1M17 47h1M12 49h1M16 49h1M18 49h1M21 49h1M16 50h1M19 50h1M13 54h1M17 54h1M12 56h1M11 57h1M13 57h3M10 58h4M11 59h3M11 60h1M13 60h1M10 61h1M12 61h1M11 62h1M9 64h1M2 66h1M7 66h2"/><path stroke="#c6e0ed" d="M71 3h1M79 13h1M72 20h1M74 22h1M72 25h1M66 27h1M71 27h1M75 27h1M79 27h1M67 28h1M70 29h1M72 29h1M74 29h1M76 29h1M79 29h1M70 30h1M76 30h1M78 30h2M68 31h1M70 31h1M73 31h1M75 31h1M79 31h1M67 32h1M69 32h2M72 32h2M76 32h2M66 33h1M69 33h3M73 33h1M75 33h2M80 33h1M69 34h1M73 34h2M78 34h1M66 35h1M68 35h2M71 35h1M74 35h1M76 35h2M79 35h1M67 36h2M71 36h1M41 37h1M62 38h1M69 38h1M76 38h1M35 39h1M69 39h1M72 39h1M32 41h1M63 41h1M70 41h1M65 44h1M26 45h2M23 46h1M25 46h1M27 46h1M19 47h2M22 47h1M26 47h1M15 48h2M18 48h4M23 48h1M26 48h1M19 49h2M17 50h2M17 51h3M17 52h1M21 52h1M23 52h1M21 53h1M23 53h1M15 54h1M13 55h3M17 55h1M11 56h1M15 56h1M17 56h1M16 57h2M14 58h1M14 59h1M10 60h1M12 60h1M14 60h1M13 61h1M9 62h1M9 63h2M10 64h2M9 65h1"/><path stroke="#d3e6f0" d="M79 6h1M76 31h1M80 31h1M78 32h1M74 33h1M78 33h2M72 34h1M76 34h1M79 34h2M70 35h1M72 35h2M75 35h1M80 35h1M46 36h1M69 36h2M72 36h2M78 36h1M42 37h1M66 37h6M38 38h1M67 38h1M70 38h3M36 39h1M66 39h1M68 39h1M70 39h1M73 39h1M66 40h1M68 40h1M71 40h1M33 41h1M66 41h3M31 42h1M63 42h1M66 42h1M28 44h2M31 44h1M64 45h1M24 46h1M26 46h1M21 47h1M24 47h2M28 47h1M22 48h1M22 49h2M25 49h1M20 50h1M22 50h3M20 51h1M24 51h1M15 52h1M18 52h2M22 52h1M17 53h2M20 53h1M18 54h1M20 54h2M16 55h1M18 55h3M16 56h1M18 56h2M18 57h1M15 58h2M15 59h1M11 61h1M13 62h2M11 63h3M8 64h1M12 64h1M10 65h2M9 66h1"/><path stroke="#dbeaf2" d="M80 32h1M77 33h1M67 34h2M77 34h1M78 35h1M47 36h1M74 36h1M76 36h2M79 36h2M43 37h1M72 37h5M78 37h1M80 37h1M39 38h1M66 38h1M68 38h1M73 38h1M75 38h1M77 38h2M67 39h1M71 39h1M76 39h2M34 40h1M69 40h2M72 40h3M71 41h3M70 42h2M30 43h2M66 43h1M30 44h1M28 45h3M65 45h1M28 46h1M27 47h1M29 47h1M24 48h2M29 48h1M24 49h1M26 49h3M21 50h1M26 50h1M29 50h1M21 51h2M26 51h1M29 51h1M24 52h1M26 52h1M19 53h1M27 53h1M22 54h2M22 55h2M20 56h1M22 56h1M19 57h1M17 58h2M16 59h1M15 60h2M14 61h3M12 62h1M15 62h1M10 66h1M12 66h1"/><path stroke="#e3edf3" d="M75 36h1M77 37h1M79 37h1M40 38h2M74 38h1M62 39h1M74 39h1M78 39h3M35 40h1M67 40h1M80 40h1M34 41h1M69 41h1M75 41h2M78 41h1M32 42h4M67 42h3M72 42h2M32 43h2M36 43h1M67 43h3M72 43h1M32 44h3M66 44h2M31 45h1M33 45h1M71 45h1M30 46h1M66 46h1M68 46h1M23 47h1M30 47h1M32 47h1M67 47h1M27 48h2M30 48h1M34 48h1M25 50h1M23 51h1M27 51h1M20 52h1M25 52h1M24 53h3M28 53h1M19 54h1M26 54h1M29 54h1M42 54h1M21 55h1M21 56h1M23 56h1M20 57h1M19 58h1M22 58h1M17 59h2M37 59h1M18 60h1M19 61h1M16 62h1M14 63h2M39 63h1M13 64h1M36 64h1M12 65h2M15 65h1M11 66h1M36 66h1"/><path stroke="#ebf1f5" d="M48 36h2M79 38h1M37 39h2M75 39h1M36 40h1M38 40h1M40 40h1M76 40h1M35 41h4M74 41h1M77 41h1M79 41h1M36 42h1M38 42h1M74 42h3M34 43h2M70 43h2M74 43h1M36 44h1M68 44h1M70 44h2M73 44h1M32 45h1M35 45h1M68 45h2M72 45h1M29 46h1M31 46h3M35 46h1M37 46h1M67 46h1M31 47h1M33 47h4M65 47h1M70 47h1M31 48h2M66 48h1M69 48h1M29 49h4M27 50h1M30 50h4M37 50h1M66 50h1M71 50h1M74 50h1M25 51h1M28 51h1M30 51h1M35 51h1M37 51h1M70 51h1M27 52h3M31 52h2M41 52h1M22 53h1M29 53h1M31 53h1M25 54h1M37 54h1M39 54h1M24 55h2M27 55h2M32 55h1M25 56h1M28 56h1M33 56h1M39 56h1M21 57h1M24 57h1M36 57h1M42 57h1M20 58h1M19 59h3M17 60h1M19 60h1M17 61h1M36 61h1M38 61h2M36 62h1M40 62h1M16 63h1M34 63h1M41 63h1M14 64h1M16 64h2M33 64h1M38 64h1M40 64h2M14 65h1M33 65h1M35 65h1M38 65h1M40 65h2M32 66h2M35 66h1M41 66h1"/><path stroke="#f3f5f6" d="M61 36h1M44 37h2M42 38h2M80 38h1M39 39h1M41 39h1M43 39h1M39 40h1M41 40h1M75 40h1M77 40h2M39 41h1M80 41h1M40 42h1M77 42h1M79 42h2M37 43h4M73 43h1M78 43h1M35 44h1M37 44h1M63 44h1M69 44h1M74 44h1M78 44h1M34 45h1M37 45h1M67 45h1M70 45h1M73 45h3M34 46h1M36 46h1M38 46h1M65 46h1M69 46h1M71 46h3M38 47h2M42 47h1M66 47h1M71 47h2M75 47h1M33 48h1M35 48h1M39 48h1M41 48h1M67 48h2M70 48h1M73 48h1M33 49h1M37 49h1M68 49h1M70 49h2M74 49h1M28 50h1M35 50h1M38 50h3M68 50h1M72 50h1M31 51h2M34 51h1M38 51h2M41 51h1M67 51h2M71 51h2M30 52h1M36 52h1M71 52h1M73 52h1M35 53h1M37 53h1M39 53h2M42 53h1M64 53h1M69 53h1M71 53h1M73 53h1M75 53h1M24 54h1M27 54h2M32 54h2M38 54h1M67 54h2M71 54h1M29 55h2M34 55h1M38 55h2M69 55h1M24 56h1M26 56h2M30 56h1M35 56h4M40 56h1M22 57h2M25 57h1M35 57h1M37 57h1M39 57h1M41 57h1M43 57h1M68 57h1M26 58h1M30 58h1M33 58h1M36 58h3M72 58h1M22 59h1M33 59h2M39 59h2M42 59h1M64 59h1M20 60h2M32 60h1M34 60h7M43 60h1M67 60h1M71 60h1M18 61h1M20 61h1M29 61h3M37 61h1M42 61h1M70 61h1M17 62h3M31 62h2M35 62h1M39 62h1M64 62h1M17 63h2M32 63h1M35 63h2M40 63h1M42 63h1M69 63h2M15 64h1M18 64h1M29 64h1M34 64h1M37 64h1M39 64h1M71 64h1M73 64h1M16 65h1M31 65h2M37 65h1M39 65h1M63 65h1M13 66h3M17 66h1M29 66h1M31 66h1M39 66h2M42 66h1M61 66h1M68 66h1"/><path stroke="#f8f4f2" d="M46 37h2M40 39h1M42 39h1M45 39h1M37 40h1M79 40h1M41 41h1M43 41h1M39 42h1M41 42h1M43 42h1M78 42h1M44 43h1M63 43h1M75 43h1M77 43h1M39 44h3M72 44h1M76 44h1M36 45h1M38 45h1M40 45h2M63 45h1M66 45h1M76 45h1M39 46h1M41 46h1M43 46h1M64 46h1M70 46h1M74 46h2M77 46h1M40 47h1M64 47h1M68 47h1M73 47h1M76 47h1M36 48h3M40 48h1M64 48h1M71 48h2M74 48h1M76 48h2M34 49h2M39 49h1M45 49h1M66 49h2M69 49h1M72 49h2M36 50h1M41 50h3M64 50h2M67 50h1M70 50h1M76 50h1M33 51h1M36 51h1M40 51h1M42 51h1M66 51h1M69 51h1M73 51h2M77 51h1M33 52h1M35 52h1M37 52h4M46 52h1M63 52h3M67 52h2M70 52h1M72 52h1M30 53h1M32 53h3M38 53h1M41 53h1M43 53h1M63 53h1M65 53h4M70 53h1M72 53h1M74 53h1M31 54h1M35 54h2M40 54h2M44 54h1M69 54h1M72 54h1M74 54h1M78 54h1M26 55h1M31 55h1M33 55h1M35 55h1M40 55h1M42 55h1M62 55h1M66 55h1M70 55h1M29 56h1M34 56h1M41 56h2M62 56h1M65 56h1M68 56h1M75 56h1M26 57h1M29 57h1M31 57h4M38 57h1M44 57h1M62 57h2M70 57h2M21 58h1M23 58h3M27 58h3M31 58h2M34 58h2M39 58h5M66 58h1M68 58h2M75 58h2M23 59h3M27 59h1M29 59h4M35 59h2M41 59h1M44 59h1M60 59h1M67 59h4M76 59h1M22 60h2M26 60h2M30 60h2M33 60h1M41 60h2M45 60h1M62 60h1M64 60h1M66 60h1M70 60h1M72 60h1M75 60h1M21 61h1M25 61h1M32 61h2M35 61h1M40 61h2M61 61h2M66 61h1M72 61h2M20 62h1M30 62h1M33 62h2M37 62h1M41 62h1M43 62h1M62 62h1M66 62h4M71 62h1M73 62h1M20 63h1M22 63h1M27 63h1M30 63h2M33 63h1M37 63h2M60 63h9M71 63h1M76 63h1M28 64h1M31 64h2M35 64h1M42 64h2M45 64h1M62 64h1M65 64h2M68 64h1M74 64h1M19 65h1M29 65h2M34 65h1M36 65h1M42 65h1M64 65h1M67 65h1M70 65h2M16 66h1M30 66h1M34 66h1M37 66h2M43 66h2M57 66h1M59 66h2M62 66h1M66 66h1M69 66h1M73 66h1"/><path stroke="#f9eee8" d="M50 36h1M48 37h1M44 38h1M47 38h1M42 40h1M40 41h1M42 41h1M44 41h3M37 42h1M42 42h1M41 43h3M76 43h1M79 43h2M38 44h1M75 44h1M79 44h1M39 45h1M42 45h1M45 45h1M40 46h1M42 46h1M44 46h1M63 46h1M80 46h1M37 47h1M41 47h1M44 47h3M69 47h1M74 47h1M79 47h2M42 48h2M65 48h1M75 48h1M36 49h1M38 49h1M40 49h4M64 49h1M75 49h1M79 49h2M34 50h1M44 50h1M46 50h1M69 50h1M77 50h4M44 51h1M64 51h2M75 51h2M79 51h1M34 52h1M42 52h4M66 52h1M69 52h1M74 52h1M36 53h1M44 53h1M77 53h1M79 53h1M30 54h1M34 54h1M43 54h1M64 54h1M66 54h1M70 54h1M73 54h1M77 54h1M79 54h1M36 55h2M41 55h1M43 55h4M64 55h2M67 55h2M71 55h4M31 56h1M45 56h1M66 56h1M69 56h6M76 56h1M27 57h2M30 57h1M40 57h1M45 57h2M67 57h1M69 57h1M72 57h2M76 57h2M79 57h1M47 58h1M63 58h1M67 58h1M70 58h2M73 58h2M77 58h2M26 59h1M38 59h1M43 59h1M45 59h1M61 59h3M65 59h1M71 59h1M73 59h2M24 60h1M28 60h1M44 60h1M63 60h1M65 60h1M69 60h1M74 60h1M77 60h1M22 61h3M26 61h1M34 61h1M45 61h1M59 61h1M63 61h1M65 61h1M67 61h3M71 61h1M74 61h1M21 62h1M23 62h4M28 62h2M38 62h1M42 62h1M44 62h1M57 62h5M63 62h1M65 62h1M70 62h1M72 62h1M74 62h2M21 63h1M26 63h1M28 63h1M43 63h1M46 63h1M57 63h2M72 63h3M19 64h4M25 64h1M30 64h1M44 64h1M59 64h1M61 64h1M63 64h2M72 64h1M17 65h2M20 65h1M26 65h1M43 65h2M58 65h1M60 65h3M65 65h2M68 65h1M72 65h2M18 66h2M27 66h2M64 66h2M67 66h1M70 66h2"/><path stroke="#fae8dd" d="M51 36h3M45 38h2M44 39h1M46 39h1M43 40h3M44 42h2M45 44h2M77 44h1M80 44h1M43 45h2M46 45h1M77 45h4M45 46h1M47 46h1M76 46h1M79 46h1M43 47h1M51 47h1M77 47h2M44 48h1M47 48h2M78 48h3M63 49h1M65 49h1M76 49h3M50 50h1M73 50h1M75 50h1M45 51h1M63 51h1M78 51h1M80 51h1M47 52h1M75 52h6M45 53h2M48 53h1M62 53h1M78 53h1M80 53h1M45 54h3M61 54h3M65 54h1M75 54h2M80 54h1M63 55h1M75 55h2M78 55h2M32 56h1M44 56h1M46 56h1M61 56h1M63 56h2M67 56h1M77 56h4M60 57h2M64 57h3M74 57h1M78 57h1M80 57h1M44 58h3M61 58h1M64 58h2M80 58h1M28 59h1M46 59h1M66 59h1M72 59h1M75 59h1M25 60h1M29 60h1M48 60h1M60 60h1M68 60h1M73 60h1M78 60h1M28 61h1M43 61h2M46 61h1M64 61h1M76 61h2M22 62h1M27 62h1M45 62h1M19 63h1M44 63h1M47 63h1M59 63h1M75 63h1M23 64h1M26 64h2M56 64h2M67 64h1M69 64h2M75 64h1M21 65h2M24 65h1M27 65h2M46 65h1M56 65h2M59 65h1M69 65h1M74 65h1M21 66h2M24 66h3M45 66h2M49 66h1M56 66h1M58 66h1M63 66h1M72 66h1"/><path stroke="#fbe2d3" d="M49 37h1M48 38h1M47 39h1M46 40h1M47 41h1M46 42h2M45 43h1M48 43h2M42 44h3M47 44h1M49 44h1M48 45h1M50 45h1M48 46h1M50 46h1M78 46h1M47 47h2M62 47h2M45 48h2M49 48h2M44 49h1M46 49h2M51 49h1M62 49h1M45 50h1M49 50h1M51 50h1M62 50h1M43 51h1M46 51h2M62 51h1M62 52h1M47 53h1M49 53h1M61 53h1M76 53h1M48 54h1M47 55h3M61 55h1M77 55h1M80 55h1M43 56h1M50 56h1M52 56h1M47 57h3M59 57h1M75 57h1M50 58h1M59 58h1M62 58h1M79 58h1M47 59h1M50 59h1M59 59h1M77 59h4M46 60h1M49 60h1M57 60h1M59 60h1M61 60h1M76 60h1M27 61h1M56 61h1M60 61h1M75 61h1M78 61h1M46 62h2M49 62h1M55 62h2M76 62h2M79 62h1M23 63h3M29 63h1M45 63h1M48 63h1M55 63h2M24 64h1M46 64h1M48 64h1M60 64h1M77 64h1M23 65h1M25 65h1M45 65h1M47 65h1M50 65h1M54 65h1M75 65h2M20 66h1M23 66h1M48 66h1M51 66h1M53 66h3M74 66h2"/><path stroke="#fddcc9" d="M49 38h1M47 40h1M62 40h1M48 42h1M46 43h2M48 44h1M51 44h1M47 45h1M49 45h1M61 45h2M46 46h1M49 46h1M62 46h1M49 47h2M51 48h1M61 48h1M63 48h1M48 49h1M61 49h1M47 50h2M52 50h1M61 50h1M63 50h1M48 51h4M48 52h3M53 52h1M59 52h3M60 53h1M49 54h2M52 55h1M57 55h1M59 55h2M47 56h3M60 56h1M50 57h2M58 57h1M48 58h2M60 58h1M48 59h2M51 59h1M47 60h1M53 60h1M79 60h1M47 61h3M57 61h1M79 61h1M48 62h1M49 63h1M77 63h2M47 64h1M50 64h1M52 64h2M55 64h1M58 64h1M76 64h1M48 65h1M51 65h1M53 65h1M55 65h1M47 66h1M50 66h1M52 66h1M76 66h1"/><path stroke="#fbd2bb" d="M54 36h1M50 37h1M48 39h1M49 40h1M48 41h3M49 42h1M52 42h1M50 43h3M62 43h1M50 44h1M55 44h1M52 45h1M51 46h4M52 47h1M54 47h2M60 47h1M54 48h1M62 48h1M49 49h2M53 49h1M60 49h1M53 50h2M60 50h1M56 51h1M60 51h2M51 52h2M50 53h3M59 53h1M52 54h2M60 54h1M51 55h1M51 56h1M57 56h3M56 57h2M53 58h1M56 58h3M54 59h1M56 59h1M58 59h1M51 60h2M56 60h1M58 60h1M80 60h1M50 61h1M55 61h1M58 61h1M50 62h1M54 62h1M78 62h1M50 63h1M52 63h2M49 64h1M54 64h1M49 65h1M77 65h1"/><path stroke="#fac6ad" d="M52 37h1M61 37h1M50 38h1M48 40h1M50 40h1M62 41h1M53 42h2M53 43h2M57 43h1M61 43h1M52 44h3M56 44h1M61 44h2M51 45h1M53 45h2M56 45h1M60 45h1M56 46h1M59 46h2M53 47h1M61 47h1M55 48h1M57 48h1M60 48h1M52 49h1M54 49h1M56 49h2M58 50h1M52 51h3M59 51h1M54 52h1M54 53h2M57 53h1M51 54h1M54 54h1M57 54h1M59 54h1M50 55h1M53 55h3M58 55h1M56 56h1M52 57h3M51 58h2M54 58h2M52 59h2M55 59h1M57 59h1M50 60h1M51 61h1M53 61h1M80 61h1M51 62h1M53 62h1M51 63h1M54 63h1M79 63h1M51 64h1M78 64h1M52 65h1M77 66h1"/><path stroke="#f8bb9e" d="M49 39h1M51 41h1M50 42h2M55 42h1M61 42h2M55 43h1M57 44h2M60 44h1M55 45h1M57 45h1M59 45h1M55 46h1M58 46h1M61 46h1M56 47h1M52 48h2M58 48h1M55 49h1M58 49h2M59 50h1M57 51h1M57 52h2M56 53h1M58 53h1M55 54h2M58 54h1M56 55h1M53 56h3M55 57h1M54 60h2M52 61h1M54 61h1M52 62h1M80 63h1M79 64h1M78 65h1"/><path stroke="#f6af8f" d="M53 37h1M54 38h1M50 39h1M61 39h1M51 40h2M52 41h1M54 41h1M56 42h2M56 43h1M58 43h3M59 44h1M58 45h1M57 46h1M57 47h3M59 48h1M55 50h3M55 51h1M58 51h1M55 52h1M53 53h1M80 62h1M79 65h1"/><path stroke="#f3a481" d="M54 37h1M51 38h2M52 39h1M60 39h1M53 40h1M55 40h1M53 41h1M55 41h1M58 41h1M60 41h2M58 42h3M56 48h1M56 52h1"/><path stroke="#ed9576" d="M51 37h1M53 38h1M51 39h1M53 39h1M56 39h2M54 40h1M56 40h2M59 40h3M56 41h1M59 41h1M80 64h1M78 66h2"/><path stroke="#e7866a" d="M60 36h1M61 38h1M54 39h2M58 39h2M58 40h1M57 41h1M80 65h1"/><path stroke="#e0775f" d="M55 36h2M58 36h2"/><path stroke="#da6954" d="M57 36h1M55 38h1"/><path stroke="#d35a4a" d="M56 38h5M80 66h1"/><path stroke="#cb4b43" d="M55 37h1"/><path stroke="#c43b3c" d="M56 37h1"/><path stroke="#bc2c34" d="M57 37h1M60 37h1"/><path stroke="#b41d2d" d="M58 37h2"/></g>
<path d="M191.5 226.1H626.0" stroke="#ff2a1c" stroke-width="5" stroke-dasharray="17.2 12.5" fill="none"/><path d="M191.5 304.2H626.0" stroke="#ff2a1c" stroke-width="5" stroke-dasharray="17.2 12.5" fill="none"/><text x="153.5" y="236.0" font-size="27.5" font-weight="bold" style="fill:#ee2a24" text-anchor="middle">c</text><text x="153.5" y="313.5" font-size="27.5" font-weight="bold" style="fill:#ee2a24" text-anchor="middle">b</text>
<rect x="120.4" y="84.2" width="579" height="439.3" fill="none" stroke="#000" stroke-width="1.6"/>
<path d="M192.83 523.5v8M337.27 523.5v8M481.72 523.5v8M626.17 523.5v8M120.6 523.5v4.2M265.05 523.5v4.2M409.5 523.5v4.2M553.95 523.5v4.2M698.4 523.5v4.2M120.4 84.2h-8M120.4 194.02h-8M120.4 303.85h-8M120.4 413.68h-8M120.4 523.5h-8M120.4 139.11h-4.2M120.4 248.94h-4.2M120.4 358.76h-4.2M120.4 468.59h-4.2" stroke="#000" stroke-width="1.6" fill="none"/>
<text x="192.83" y="559" text-anchor="middle" font-size="29.2">-1.2</text>
<text x="337.27" y="559" text-anchor="middle" font-size="29.2">-1.0</text>
<text x="481.72" y="559" text-anchor="middle" font-size="29.2">-0.8</text>
<text x="626.17" y="559" text-anchor="middle" font-size="29.2">-0.6</text>
<text x="107.9" y="93.8" text-anchor="end" font-size="29.2">-0.10</text>
<text x="107.9" y="203.62" text-anchor="end" font-size="29.2">-0.15</text>
<text x="107.9" y="313.45" text-anchor="end" font-size="29.2">-0.20</text>
<text x="107.9" y="423.28" text-anchor="end" font-size="29.2">-0.25</text>
<text x="107.9" y="533.1" text-anchor="end" font-size="29.2">-0.30</text>
<text x="410.4" y="591" text-anchor="middle" font-size="29.2"><tspan font-style="italic">n</tspan> (10<tspan font-size="18.5" dy="-11">12</tspan><tspan dy="11"> cm</tspan><tspan font-size="18.5" dy="-11">-2</tspan><tspan dy="11">)</tspan></text>
<text transform="translate(24.5 303.85) rotate(-90)" text-anchor="middle" font-size="29.2"><tspan font-style="italic">D</tspan>/<tspan font-family='"Liberation Serif", "Times New Roman", serif' font-style="italic" font-size="30">ε</tspan><tspan font-size="18.5" font-style="italic" dy="6">0</tspan><tspan dy="-6"> (V/nm)</tspan></text>
<text x="26.5" y="44.5" font-size="27" font-weight="bold">a</text>
<rect x="555.8" y="42.8" width="122.7" height="25.7" fill="url(#cb)" stroke="#000" stroke-width="1.6"/>
<text x="555.8" y="35.9" text-anchor="middle" font-size="29.2">0</text>
<text x="678.5" y="35.9" text-anchor="middle" font-size="29.2">250</text>
<text x="549.3" y="65.1" text-anchor="end" font-size="29.2"><tspan font-style="italic">R</tspan><tspan font-style="italic" font-size="20.5" dy="8.4">xx</tspan><tspan dy="-8.4"> (</tspan><tspan font-family='"Liberation Serif", "Times New Roman", serif' font-size="33.5">Ω</tspan>)</text>
</g>
<g id="panel-b">
<g shape-rendering="crispEdges" transform="translate(830.80 0) scale(4.8367 1)"><path fill="#182e62" d="M101 300h1v18h-1zM100 370h1v18h-1zM100 388h1v19h-1zM100 407h2v19h-2zM100 444h1v18h-1zM100 478h1v16h-1zM98 511h1v9h-1zM100 511h1v9h-1z"/><path fill="#1c3870" d="M98 300h1v18h-1zM99 318h2v17h-2zM99 335h1v18h-1zM104 370h1v18h-1zM99 388h1v19h-1zM44 407h1v19h-1zM62 407h1v19h-1zM66 407h1v19h-1zM98 407h1v19h-1zM102 407h1v19h-1zM55 426h1v18h-1zM99 426h1v18h-1zM101 426h1v18h-1zM98 444h1v18h-1zM101 444h1v18h-1zM100 462h2v16h-2zM34 478h2v16h-2zM61 478h1v16h-1zM106 478h1v16h-1zM52 494h1v17h-1zM99 494h1v17h-1zM102 494h1v17h-1z"/><path fill="#21427f" d="M100 300h1v18h-1zM98 318h1v17h-1zM101 335h1v18h-1zM99 353h2v17h-2zM99 370h1v18h-1zM102 370h1v18h-1zM40 388h1v19h-1zM45 388h1v19h-1zM55 388h1v19h-1zM61 388h1v19h-1zM66 388h1v19h-1zM73 388h1v19h-1zM79 388h1v19h-1zM87 388h1v19h-1zM93 388h1v19h-1zM98 388h1v19h-1zM101 388h2v19h-2zM38 407h1v19h-1zM45 407h1v19h-1zM55 407h1v19h-1zM64 407h1v19h-1zM67 407h1v19h-1zM69 407h1v19h-1zM81 407h1v19h-1zM83 407h1v19h-1zM95 407h1v19h-1zM99 407h1v19h-1zM39 426h1v18h-1zM42 426h2v18h-2zM45 426h1v18h-1zM51 426h1v18h-1zM57 426h1v18h-1zM66 426h1v18h-1zM70 426h1v18h-1zM75 426h1v18h-1zM81 426h1v18h-1zM87 426h1v18h-1zM93 426h1v18h-1zM97 426h2v18h-2zM100 426h1v18h-1zM104 426h2v18h-2zM41 444h1v18h-1zM44 444h1v18h-1zM49 444h1v18h-1zM52 444h1v18h-1zM58 444h1v18h-1zM61 444h1v18h-1zM78 444h1v18h-1zM95 444h1v18h-1zM99 444h1v18h-1zM106 444h1v18h-1zM46 462h2v16h-2zM57 462h1v16h-1zM61 462h1v16h-1zM68 462h1v16h-1zM93 462h1v16h-1zM99 462h1v16h-1zM45 478h1v16h-1zM48 478h1v16h-1zM75 478h1v16h-1zM81 478h1v16h-1zM85 478h1v16h-1zM99 478h1v16h-1zM107 478h1v16h-1zM34 494h2v17h-2zM37 494h1v17h-1zM39 494h1v17h-1zM41 494h2v17h-2zM44 494h1v17h-1zM46 494h1v17h-1zM49 494h1v17h-1zM100 494h2v17h-2zM106 494h1v17h-1zM31 511h1v9h-1zM35 511h3v9h-3zM39 511h1v9h-1zM44 511h1v9h-1zM46 511h1v9h-1zM65 511h1v9h-1zM73 511h1v9h-1zM85 511h1v9h-1zM101 511h1v9h-1zM105 511h1v9h-1zM108 511h1v9h-1z"/><path fill="#264f8f" d="M99 300h1v18h-1zM101 318h1v17h-1zM97 335h2v18h-2zM91 353h1v17h-1zM95 353h1v17h-1zM98 353h1v17h-1zM101 353h1v17h-1zM98 370h1v18h-1zM101 370h1v18h-1zM103 370h1v18h-1zM41 388h1v19h-1zM44 388h1v19h-1zM46 388h1v19h-1zM51 388h1v19h-1zM53 388h2v19h-2zM69 388h2v19h-2zM72 388h1v19h-1zM75 388h1v19h-1zM96 388h2v19h-2zM104 388h1v19h-1zM36 407h2v19h-2zM39 407h2v19h-2zM51 407h2v19h-2zM54 407h1v19h-1zM58 407h1v19h-1zM61 407h1v19h-1zM65 407h1v19h-1zM68 407h1v19h-1zM76 407h1v19h-1zM80 407h1v19h-1zM84 407h1v19h-1zM86 407h1v19h-1zM93 407h1v19h-1zM97 407h1v19h-1zM103 407h1v19h-1zM35 426h3v18h-3zM40 426h2v18h-2zM44 426h1v18h-1zM56 426h1v18h-1zM59 426h1v18h-1zM61 426h1v18h-1zM64 426h2v18h-2zM68 426h2v18h-2zM73 426h1v18h-1zM79 426h1v18h-1zM84 426h1v18h-1zM86 426h1v18h-1zM91 426h1v18h-1zM102 426h1v18h-1zM34 444h4v18h-4zM42 444h1v18h-1zM45 444h2v18h-2zM50 444h1v18h-1zM57 444h1v18h-1zM60 444h1v18h-1zM68 444h1v18h-1zM77 444h1v18h-1zM79 444h1v18h-1zM85 444h1v18h-1zM87 444h2v18h-2zM90 444h1v18h-1zM102 444h2v18h-2zM105 444h1v18h-1zM107 444h1v18h-1zM35 462h4v16h-4zM41 462h2v16h-2zM45 462h1v16h-1zM49 462h1v16h-1zM54 462h1v16h-1zM56 462h1v16h-1zM58 462h1v16h-1zM65 462h1v16h-1zM69 462h2v16h-2zM77 462h1v16h-1zM81 462h1v16h-1zM85 462h1v16h-1zM87 462h1v16h-1zM98 462h1v16h-1zM102 462h1v16h-1zM104 462h1v16h-1zM33 478h1v16h-1zM36 478h3v16h-3zM43 478h1v16h-1zM52 478h1v16h-1zM54 478h1v16h-1zM56 478h1v16h-1zM60 478h1v16h-1zM62 478h1v16h-1zM66 478h1v16h-1zM69 478h2v16h-2zM80 478h1v16h-1zM98 478h1v16h-1zM101 478h5v16h-5zM31 494h1v17h-1zM33 494h1v17h-1zM36 494h1v17h-1zM43 494h1v17h-1zM45 494h1v17h-1zM54 494h4v17h-4zM61 494h1v17h-1zM66 494h1v17h-1zM73 494h1v17h-1zM75 494h1v17h-1zM85 494h1v17h-1zM93 494h1v17h-1zM97 494h2v17h-2zM103 494h3v17h-3zM43 511h1v9h-1zM45 511h1v9h-1zM47 511h1v9h-1zM51 511h1v9h-1zM55 511h1v9h-1zM59 511h2v9h-2zM64 511h1v9h-1zM70 511h1v9h-1zM72 511h1v9h-1zM78 511h2v9h-2zM81 511h1v9h-1zM84 511h1v9h-1zM87 511h1v9h-1zM91 511h1v9h-1zM95 511h1v9h-1zM97 511h1v9h-1zM99 511h1v9h-1zM102 511h2v9h-2zM106 511h2v9h-2z"/><path fill="#2d5da0" d="M98 277h1v23h-1zM96 318h1v17h-1zM95 335h1v18h-1zM100 335h1v18h-1zM44 353h1v17h-1zM93 353h1v17h-1zM96 353h2v17h-2zM102 353h1v17h-1zM44 370h1v18h-1zM56 370h1v18h-1zM91 370h1v18h-1zM93 370h1v18h-1zM95 370h1v18h-1zM105 370h1v18h-1zM38 388h2v19h-2zM42 388h2v19h-2zM48 388h3v19h-3zM52 388h1v19h-1zM57 388h2v19h-2zM60 388h1v19h-1zM62 388h1v19h-1zM64 388h2v19h-2zM68 388h1v19h-1zM71 388h1v19h-1zM76 388h3v19h-3zM80 388h1v19h-1zM85 388h2v19h-2zM88 388h1v19h-1zM90 388h2v19h-2zM103 388h1v19h-1zM105 388h1v19h-1zM41 407h3v19h-3zM47 407h1v19h-1zM49 407h1v19h-1zM53 407h1v19h-1zM57 407h1v19h-1zM59 407h1v19h-1zM70 407h4v19h-4zM75 407h1v19h-1zM77 407h3v19h-3zM85 407h1v19h-1zM92 407h1v19h-1zM94 407h1v19h-1zM104 407h1v19h-1zM38 426h1v18h-1zM46 426h5v18h-5zM54 426h1v18h-1zM58 426h1v18h-1zM62 426h1v18h-1zM72 426h1v18h-1zM74 426h1v18h-1zM77 426h2v18h-2zM80 426h1v18h-1zM83 426h1v18h-1zM85 426h1v18h-1zM88 426h1v18h-1zM90 426h1v18h-1zM94 426h2v18h-2zM103 426h1v18h-1zM106 426h1v18h-1zM39 444h2v18h-2zM48 444h1v18h-1zM51 444h1v18h-1zM53 444h2v18h-2zM59 444h1v18h-1zM62 444h6v18h-6zM70 444h1v18h-1zM72 444h2v18h-2zM75 444h2v18h-2zM83 444h2v18h-2zM89 444h1v18h-1zM93 444h2v18h-2zM97 444h1v18h-1zM104 444h1v18h-1zM34 462h1v16h-1zM39 462h2v16h-2zM43 462h2v16h-2zM48 462h1v16h-1zM50 462h3v16h-3zM55 462h1v16h-1zM62 462h3v16h-3zM66 462h1v16h-1zM71 462h1v16h-1zM75 462h1v16h-1zM78 462h1v16h-1zM80 462h1v16h-1zM86 462h1v16h-1zM88 462h1v16h-1zM90 462h1v16h-1zM103 462h1v16h-1zM106 462h2v16h-2zM39 478h2v16h-2zM42 478h1v16h-1zM44 478h1v16h-1zM46 478h1v16h-1zM49 478h2v16h-2zM55 478h1v16h-1zM57 478h1v16h-1zM64 478h2v16h-2zM71 478h1v16h-1zM73 478h1v16h-1zM76 478h4v16h-4zM83 478h2v16h-2zM86 478h8v16h-8zM95 478h1v16h-1zM97 478h1v16h-1zM38 494h1v17h-1zM40 494h1v17h-1zM47 494h2v17h-2zM51 494h1v17h-1zM53 494h1v17h-1zM58 494h2v17h-2zM63 494h3v17h-3zM68 494h4v17h-4zM76 494h1v17h-1zM78 494h3v17h-3zM86 494h6v17h-6zM107 494h2v17h-2zM30 511h1v9h-1zM34 511h1v9h-1zM38 511h1v9h-1zM41 511h1v9h-1zM48 511h3v9h-3zM52 511h1v9h-1zM54 511h1v9h-1zM57 511h2v9h-2zM62 511h2v9h-2zM66 511h4v9h-4zM75 511h2v9h-2zM80 511h1v9h-1zM86 511h1v9h-1zM88 511h1v9h-1zM93 511h2v9h-2z"/><path fill="#346aae" d="M100 277h2v23h-2zM95 300h2v18h-2zM103 300h1v18h-1zM95 318h1v17h-1zM97 318h1v17h-1zM102 318h2v17h-2zM93 335h2v18h-2zM102 335h2v18h-2zM55 353h1v17h-1zM61 353h1v17h-1zM90 353h1v17h-1zM92 353h1v17h-1zM103 353h2v17h-2zM41 370h2v18h-2zM47 370h1v18h-1zM52 370h2v18h-2zM55 370h1v18h-1zM86 370h3v18h-3zM90 370h1v18h-1zM97 370h1v18h-1zM56 388h1v19h-1zM59 388h1v19h-1zM63 388h1v19h-1zM67 388h1v19h-1zM74 388h1v19h-1zM81 388h4v19h-4zM94 388h2v19h-2zM35 407h1v19h-1zM46 407h1v19h-1zM48 407h1v19h-1zM50 407h1v19h-1zM56 407h1v19h-1zM60 407h1v19h-1zM74 407h1v19h-1zM82 407h1v19h-1zM87 407h3v19h-3zM91 407h1v19h-1zM96 407h1v19h-1zM105 407h2v19h-2zM34 426h1v18h-1zM53 426h1v18h-1zM60 426h1v18h-1zM63 426h1v18h-1zM67 426h1v18h-1zM71 426h1v18h-1zM76 426h1v18h-1zM82 426h1v18h-1zM89 426h1v18h-1zM92 426h1v18h-1zM96 426h1v18h-1zM33 444h1v18h-1zM38 444h1v18h-1zM43 444h1v18h-1zM47 444h1v18h-1zM55 444h2v18h-2zM69 444h1v18h-1zM71 444h1v18h-1zM74 444h1v18h-1zM80 444h3v18h-3zM86 444h1v18h-1zM91 444h2v18h-2zM96 444h1v18h-1zM32 462h1v16h-1zM59 462h1v16h-1zM67 462h1v16h-1zM73 462h1v16h-1zM76 462h1v16h-1zM79 462h1v16h-1zM83 462h2v16h-2zM89 462h1v16h-1zM91 462h1v16h-1zM95 462h3v16h-3zM105 462h1v16h-1zM31 478h2v16h-2zM41 478h1v16h-1zM47 478h1v16h-1zM53 478h1v16h-1zM58 478h2v16h-2zM63 478h1v16h-1zM68 478h1v16h-1zM94 478h1v16h-1zM96 478h1v16h-1zM108 478h1v16h-1zM30 494h1v17h-1zM50 494h1v17h-1zM60 494h1v17h-1zM62 494h1v17h-1zM67 494h1v17h-1zM72 494h1v17h-1zM77 494h1v17h-1zM81 494h3v17h-3zM92 494h1v17h-1zM94 494h3v17h-3zM29 511h1v9h-1zM32 511h2v9h-2zM40 511h1v9h-1zM42 511h1v9h-1zM53 511h1v9h-1zM56 511h1v9h-1zM61 511h1v9h-1zM71 511h1v9h-1zM74 511h1v9h-1zM77 511h1v9h-1zM82 511h2v9h-2zM89 511h1v9h-1zM92 511h1v9h-1zM104 511h1v9h-1zM109 511h1v9h-1z"/><path fill="#3a74b3" d="M97 277h1v23h-1zM102 277h1v23h-1zM97 300h1v18h-1zM102 300h1v18h-1zM94 318h1v17h-1zM90 335h2v18h-2zM96 335h1v18h-1zM45 353h2v17h-2zM49 353h3v17h-3zM54 353h1v17h-1zM56 353h2v17h-2zM62 353h1v17h-1zM89 353h1v17h-1zM38 370h1v18h-1zM43 370h1v18h-1zM45 370h2v18h-2zM51 370h1v18h-1zM54 370h1v18h-1zM57 370h2v18h-2zM73 370h1v18h-1zM81 370h1v18h-1zM85 370h1v18h-1zM89 370h1v18h-1zM92 370h1v18h-1zM96 370h1v18h-1zM47 388h1v19h-1zM89 388h1v19h-1zM63 407h1v19h-1zM90 407h1v19h-1zM33 426h1v18h-1zM52 426h1v18h-1zM107 426h1v18h-1zM33 462h1v16h-1zM53 462h1v16h-1zM60 462h1v16h-1zM72 462h1v16h-1zM74 462h1v16h-1zM82 462h1v16h-1zM92 462h1v16h-1zM94 462h1v16h-1zM30 478h1v16h-1zM51 478h1v16h-1zM67 478h1v16h-1zM72 478h1v16h-1zM74 478h1v16h-1zM82 478h1v16h-1zM74 494h1v17h-1zM84 494h1v17h-1zM96 511h1v9h-1z"/><path fill="#407eb9" d="M99 253h3v24h-3zM99 277h1v23h-1zM94 300h1v18h-1zM93 318h1v17h-1zM92 335h1v18h-1zM43 353h1v17h-1zM47 353h2v17h-2zM52 353h2v17h-2zM58 353h2v17h-2zM85 353h1v17h-1zM88 353h1v17h-1zM94 353h1v17h-1zM40 370h1v18h-1zM48 370h1v18h-1zM50 370h1v18h-1zM59 370h1v18h-1zM61 370h2v18h-2zM64 370h1v18h-1zM66 370h1v18h-1zM68 370h1v18h-1zM70 370h1v18h-1zM74 370h2v18h-2zM79 370h2v18h-2zM94 370h1v18h-1zM92 388h1v19h-1zM106 388h1v19h-1zM108 444h1v18h-1zM108 462h1v16h-1zM32 494h1v17h-1zM109 494h1v17h-1zM90 511h1v9h-1z"/><path fill="#4688be" d="M96 277h1v23h-1zM93 300h1v18h-1zM92 318h1v17h-1zM57 335h1v18h-1zM42 353h1v17h-1zM63 353h2v17h-2zM86 353h2v17h-2zM39 370h1v18h-1zM49 370h1v18h-1zM60 370h1v18h-1zM63 370h1v18h-1zM69 370h1v18h-1zM72 370h1v18h-1zM77 370h1v18h-1zM34 407h1v19h-1zM32 444h1v18h-1zM31 462h1v16h-1zM29 478h1v16h-1zM29 494h1v17h-1z"/><path fill="#4c92c4" d="M91 318h1v17h-1zM52 335h1v18h-1zM88 335h2v18h-2zM104 335h1v18h-1zM60 353h1v17h-1zM65 353h1v17h-1zM105 353h1v17h-1zM65 370h1v18h-1zM67 370h1v18h-1zM76 370h1v18h-1zM78 370h1v18h-1zM82 370h3v18h-3zM37 388h1v19h-1zM30 462h1v16h-1zM27 511h2v9h-2z"/><path fill="#579cc9" d="M54 335h3v18h-3zM59 335h1v18h-1zM66 353h1v17h-1zM71 370h1v18h-1zM36 388h1v19h-1zM32 426h1v18h-1zM31 444h1v18h-1z"/><path fill="#65a6ce" d="M49 335h3v18h-3zM58 335h1v18h-1zM60 335h1v18h-1zM87 335h1v18h-1zM84 353h1v17h-1zM109 478h1v16h-1zM28 494h1v17h-1z"/><path fill="#74b0d3" d="M2 201h1v17h-1zM98 253h1v24h-1zM2 318h1v17h-1zM46 335h3v18h-3zM53 335h1v18h-1zM37 370h1v18h-1zM35 388h1v19h-1zM33 407h1v19h-1zM30 426h1v18h-1zM0 444h1v18h-1zM30 444h1v18h-1zM6 494h1v17h-1zM9 494h1v17h-1z"/><path fill="#82bad8" d="M4 201h1v17h-1zM0 218h1v18h-1zM2 218h1v18h-1zM9 218h1v18h-1zM0 236h2v17h-2zM6 236h1v17h-1zM2 277h1v23h-1zM10 277h1v23h-1zM95 277h1v23h-1zM3 300h1v18h-1zM5 300h1v18h-1zM6 335h1v18h-1zM16 335h2v18h-2zM6 353h1v17h-1zM68 353h1v17h-1zM83 353h1v17h-1zM9 407h1v19h-1zM6 426h1v18h-1zM31 426h1v18h-1zM9 444h1v18h-1zM1 462h1v16h-1zM13 462h1v16h-1zM6 478h1v16h-1z"/><path fill="#91c4dd" d="M0 201h1v17h-1zM5 201h3v17h-3zM9 201h1v17h-1zM13 201h1v17h-1zM12 218h1v18h-1zM16 218h1v18h-1zM20 218h1v18h-1zM2 236h2v17h-2zM9 236h1v17h-1zM14 236h1v17h-1zM2 253h1v24h-1zM9 253h1v24h-1zM1 277h1v23h-1zM4 277h1v23h-1zM6 277h1v23h-1zM2 300h1v18h-1zM4 300h1v18h-1zM6 300h1v18h-1zM10 300h1v18h-1zM20 300h1v18h-1zM3 318h1v17h-1zM6 318h1v17h-1zM13 318h1v17h-1zM16 318h1v17h-1zM2 335h2v18h-2zM9 335h1v18h-1zM18 335h1v18h-1zM2 353h2v17h-2zM12 353h1v17h-1zM19 353h1v17h-1zM41 353h1v17h-1zM69 353h1v17h-1zM73 353h1v17h-1zM0 370h1v18h-1zM7 370h1v18h-1zM9 370h2v18h-2zM15 370h1v18h-1zM20 370h1v18h-1zM0 388h1v19h-1zM2 388h2v19h-2zM6 388h1v19h-1zM10 388h1v19h-1zM6 407h1v19h-1zM16 407h1v19h-1zM23 407h1v19h-1zM30 407h1v19h-1zM0 426h1v18h-1zM2 426h2v18h-2zM9 426h1v18h-1zM16 426h1v18h-1zM20 426h1v18h-1zM2 444h2v18h-2zM6 444h1v18h-1zM11 444h1v18h-1zM13 444h1v18h-1zM24 444h1v18h-1zM8 462h1v16h-1zM10 478h1v16h-1zM15 478h3v16h-3zM28 478h1v16h-1zM2 494h1v17h-1zM8 494h1v17h-1zM18 494h2v17h-2zM2 511h1v9h-1zM9 511h1v9h-1zM23 511h1v9h-1z"/><path fill="#9ecbe1" d="M1 201h1v17h-1zM8 201h1v17h-1zM10 201h1v17h-1zM12 201h1v17h-1zM15 201h2v17h-2zM18 201h1v17h-1zM20 201h1v17h-1zM3 218h1v18h-1zM6 218h2v18h-2zM10 218h2v18h-2zM22 218h2v18h-2zM4 236h2v17h-2zM10 236h1v17h-1zM12 236h2v17h-2zM15 236h1v17h-1zM17 236h1v17h-1zM30 236h1v17h-1zM1 253h1v24h-1zM3 253h1v24h-1zM5 253h2v24h-2zM13 253h1v24h-1zM17 253h1v24h-1zM0 277h1v23h-1zM8 277h1v23h-1zM11 277h2v23h-2zM17 277h1v23h-1zM21 277h1v23h-1zM29 277h1v23h-1zM34 277h1v23h-1zM0 300h1v18h-1zM9 300h1v18h-1zM15 300h1v18h-1zM0 318h2v17h-2zM4 318h1v17h-1zM7 318h1v17h-1zM9 318h1v17h-1zM17 318h1v17h-1zM19 318h1v17h-1zM90 318h1v17h-1zM0 335h1v18h-1zM4 335h1v18h-1zM13 335h1v18h-1zM15 335h1v18h-1zM22 335h1v18h-1zM28 335h1v18h-1zM30 335h1v18h-1zM61 335h1v18h-1zM0 353h1v17h-1zM4 353h1v17h-1zM7 353h1v17h-1zM9 353h2v17h-2zM16 353h2v17h-2zM20 353h2v17h-2zM25 353h1v17h-1zM31 353h1v17h-1zM67 353h1v17h-1zM70 353h2v17h-2zM76 353h1v17h-1zM81 353h2v17h-2zM2 370h1v18h-1zM4 370h3v18h-3zM8 370h1v18h-1zM13 370h1v18h-1zM16 370h2v18h-2zM19 370h1v18h-1zM23 370h1v18h-1zM25 370h1v18h-1zM31 370h1v18h-1zM33 370h1v18h-1zM36 370h1v18h-1zM106 370h1v18h-1zM4 388h2v19h-2zM9 388h1v19h-1zM12 388h2v19h-2zM15 388h1v19h-1zM20 388h1v19h-1zM25 388h1v19h-1zM29 388h2v19h-2zM0 407h1v19h-1zM2 407h2v19h-2zM5 407h1v19h-1zM8 407h1v19h-1zM10 407h1v19h-1zM12 407h2v19h-2zM15 407h1v19h-1zM20 407h1v19h-1zM107 407h1v19h-1zM11 426h1v18h-1zM13 426h1v18h-1zM15 426h1v18h-1zM17 426h1v18h-1zM21 426h1v18h-1zM1 444h1v18h-1zM4 444h2v18h-2zM10 444h1v18h-1zM14 444h1v18h-1zM16 444h2v18h-2zM19 444h1v18h-1zM21 444h1v18h-1zM25 444h1v18h-1zM28 444h1v18h-1zM0 462h1v16h-1zM2 462h2v16h-2zM6 462h1v16h-1zM9 462h1v16h-1zM12 462h1v16h-1zM14 462h3v16h-3zM19 462h1v16h-1zM21 462h1v16h-1zM23 462h1v16h-1zM25 462h1v16h-1zM29 462h1v16h-1zM2 478h1v16h-1zM4 478h1v16h-1zM9 478h1v16h-1zM12 478h3v16h-3zM19 478h2v16h-2zM3 494h2v17h-2zM7 494h1v17h-1zM10 494h2v17h-2zM16 494h2v17h-2zM23 494h1v17h-1zM27 494h1v17h-1zM0 511h2v9h-2zM3 511h1v9h-1zM5 511h2v9h-2zM12 511h1v9h-1zM16 511h1v9h-1zM18 511h3v9h-3zM25 511h2v9h-2z"/><path fill="#abd2e5" d="M3 201h1v17h-1zM14 201h1v17h-1zM17 201h1v17h-1zM19 201h1v17h-1zM21 201h1v17h-1zM23 201h1v17h-1zM25 201h1v17h-1zM28 201h1v17h-1zM30 201h1v17h-1zM32 201h1v17h-1zM1 218h1v18h-1zM4 218h2v18h-2zM13 218h3v18h-3zM17 218h1v18h-1zM19 218h1v18h-1zM21 218h1v18h-1zM33 218h1v18h-1zM7 236h2v17h-2zM11 236h1v17h-1zM16 236h1v17h-1zM18 236h1v17h-1zM20 236h1v17h-1zM22 236h2v17h-2zM25 236h1v17h-1zM29 236h1v17h-1zM34 236h1v17h-1zM0 253h1v24h-1zM4 253h1v24h-1zM8 253h1v24h-1zM10 253h2v24h-2zM15 253h2v24h-2zM21 253h1v24h-1zM24 253h1v24h-1zM28 253h1v24h-1zM3 277h1v23h-1zM5 277h1v23h-1zM7 277h1v23h-1zM9 277h1v23h-1zM15 277h2v23h-2zM20 277h1v23h-1zM24 277h1v23h-1zM1 300h1v18h-1zM11 300h3v18h-3zM16 300h2v18h-2zM19 300h1v18h-1zM21 300h1v18h-1zM92 300h1v18h-1zM5 318h1v17h-1zM8 318h1v17h-1zM10 318h3v17h-3zM15 318h1v17h-1zM21 318h1v17h-1zM23 318h1v17h-1zM34 318h1v17h-1zM5 335h1v18h-1zM8 335h1v18h-1zM10 335h2v18h-2zM19 335h1v18h-1zM21 335h1v18h-1zM25 335h1v18h-1zM31 335h1v18h-1zM36 335h2v18h-2zM41 335h4v18h-4zM1 353h1v17h-1zM5 353h1v17h-1zM8 353h1v17h-1zM11 353h1v17h-1zM13 353h1v17h-1zM15 353h1v17h-1zM18 353h1v17h-1zM24 353h1v17h-1zM26 353h1v17h-1zM29 353h2v17h-2zM32 353h1v17h-1zM34 353h2v17h-2zM37 353h2v17h-2zM74 353h2v17h-2zM78 353h1v17h-1zM3 370h1v18h-1zM12 370h1v18h-1zM18 370h1v18h-1zM21 370h1v18h-1zM24 370h1v18h-1zM27 370h2v18h-2zM30 370h1v18h-1zM35 370h1v18h-1zM1 388h1v19h-1zM7 388h2v19h-2zM11 388h1v19h-1zM14 388h1v19h-1zM16 388h1v19h-1zM18 388h2v19h-2zM21 388h1v19h-1zM33 388h2v19h-2zM1 407h1v19h-1zM4 407h1v19h-1zM11 407h1v19h-1zM14 407h1v19h-1zM17 407h3v19h-3zM21 407h1v19h-1zM25 407h1v19h-1zM27 407h3v19h-3zM31 407h1v19h-1zM1 426h1v18h-1zM5 426h1v18h-1zM7 426h1v18h-1zM10 426h1v18h-1zM12 426h1v18h-1zM14 426h1v18h-1zM18 426h2v18h-2zM22 426h4v18h-4zM108 426h1v18h-1zM7 444h2v18h-2zM15 444h1v18h-1zM22 444h1v18h-1zM26 444h1v18h-1zM4 462h2v16h-2zM7 462h1v16h-1zM10 462h1v16h-1zM17 462h1v16h-1zM20 462h1v16h-1zM26 462h2v16h-2zM0 478h2v16h-2zM3 478h1v16h-1zM5 478h1v16h-1zM8 478h1v16h-1zM11 478h1v16h-1zM18 478h1v16h-1zM21 478h6v16h-6zM0 494h1v17h-1zM5 494h1v17h-1zM13 494h1v17h-1zM15 494h1v17h-1zM20 494h1v17h-1zM22 494h1v17h-1zM24 494h1v17h-1zM110 494h1v17h-1zM4 511h1v9h-1zM7 511h2v9h-2zM10 511h1v9h-1zM13 511h1v9h-1zM15 511h1v9h-1zM17 511h1v9h-1zM21 511h1v9h-1zM24 511h1v9h-1zM110 511h1v9h-1z"/><path fill="#b9d9e9" d="M22 201h1v17h-1zM24 201h1v17h-1zM26 201h2v17h-2zM29 201h1v17h-1zM34 201h1v17h-1zM42 201h1v17h-1zM8 218h1v18h-1zM18 218h1v18h-1zM27 218h1v18h-1zM30 218h2v18h-2zM21 236h1v17h-1zM24 236h1v17h-1zM26 236h3v17h-3zM31 236h3v17h-3zM35 236h1v17h-1zM42 236h1v17h-1zM7 253h1v24h-1zM12 253h1v24h-1zM14 253h1v24h-1zM18 253h1v24h-1zM20 253h1v24h-1zM23 253h1v24h-1zM25 253h1v24h-1zM13 277h2v23h-2zM18 277h1v23h-1zM23 277h1v23h-1zM25 277h2v23h-2zM28 277h1v23h-1zM30 277h2v23h-2zM35 277h2v23h-2zM39 277h1v23h-1zM7 300h2v18h-2zM14 300h1v18h-1zM18 300h1v18h-1zM23 300h1v18h-1zM25 300h1v18h-1zM33 300h2v18h-2zM37 300h1v18h-1zM41 300h1v18h-1zM14 318h1v17h-1zM18 318h1v17h-1zM20 318h1v17h-1zM26 318h1v17h-1zM28 318h1v17h-1zM30 318h1v17h-1zM33 318h1v17h-1zM1 335h1v18h-1zM7 335h1v18h-1zM12 335h1v18h-1zM14 335h1v18h-1zM20 335h1v18h-1zM23 335h2v18h-2zM26 335h2v18h-2zM29 335h1v18h-1zM32 335h1v18h-1zM38 335h3v18h-3zM45 335h1v18h-1zM14 353h1v17h-1zM22 353h2v17h-2zM27 353h2v17h-2zM36 353h1v17h-1zM39 353h2v17h-2zM72 353h1v17h-1zM77 353h1v17h-1zM79 353h1v17h-1zM1 370h1v18h-1zM11 370h1v18h-1zM14 370h1v18h-1zM26 370h1v18h-1zM34 370h1v18h-1zM17 388h1v19h-1zM22 388h2v19h-2zM26 388h1v19h-1zM28 388h1v19h-1zM31 388h1v19h-1zM7 407h1v19h-1zM24 407h1v19h-1zM26 407h1v19h-1zM4 426h1v18h-1zM8 426h1v18h-1zM28 426h2v18h-2zM12 444h1v18h-1zM18 444h1v18h-1zM20 444h1v18h-1zM23 444h1v18h-1zM29 444h1v18h-1zM11 462h1v16h-1zM18 462h1v16h-1zM22 462h1v16h-1zM28 462h1v16h-1zM109 462h1v16h-1zM27 478h1v16h-1zM1 494h1v17h-1zM12 494h1v17h-1zM14 494h1v17h-1zM21 494h1v17h-1zM25 494h1v17h-1zM11 511h1v9h-1zM14 511h1v9h-1z"/><path fill="#c6e0ed" d="M11 201h1v17h-1zM33 201h1v17h-1zM36 201h2v17h-2zM25 218h1v18h-1zM28 218h2v18h-2zM32 218h1v18h-1zM34 218h2v18h-2zM37 218h1v18h-1zM39 218h2v18h-2zM43 218h1v18h-1zM19 236h1v17h-1zM39 236h1v17h-1zM41 236h1v17h-1zM44 236h1v17h-1zM19 253h1v24h-1zM22 253h1v24h-1zM27 253h1v24h-1zM29 253h3v24h-3zM35 253h2v24h-2zM45 253h1v24h-1zM19 277h1v23h-1zM22 277h1v23h-1zM33 277h1v23h-1zM37 277h2v23h-2zM22 300h1v18h-1zM24 300h1v18h-1zM26 300h1v18h-1zM28 300h3v18h-3zM35 300h2v18h-2zM39 300h1v18h-1zM44 300h1v18h-1zM22 318h1v17h-1zM24 318h2v17h-2zM27 318h1v17h-1zM29 318h1v17h-1zM31 318h1v17h-1zM35 318h1v17h-1zM40 318h1v17h-1zM34 335h2v18h-2zM33 353h1v17h-1zM80 353h1v17h-1zM22 370h1v18h-1zM29 370h1v18h-1zM32 370h1v18h-1zM24 388h1v19h-1zM27 388h1v19h-1zM32 388h1v19h-1zM22 407h1v19h-1zM26 426h2v18h-2zM119 426h1v18h-1zM27 444h1v18h-1zM109 444h1v18h-1zM24 462h1v16h-1zM7 478h1v16h-1zM110 478h1v16h-1zM26 494h1v17h-1zM22 511h1v9h-1zM113 511h1v9h-1z"/><path fill="#d3e6f0" d="M31 201h1v17h-1zM35 201h1v17h-1zM38 201h3v17h-3zM45 201h1v17h-1zM26 218h1v18h-1zM36 218h1v18h-1zM42 218h1v18h-1zM44 218h1v18h-1zM36 236h1v17h-1zM38 236h1v17h-1zM45 236h1v17h-1zM47 236h2v17h-2zM26 253h1v24h-1zM32 253h1v24h-1zM34 253h1v24h-1zM37 253h2v24h-2zM40 253h1v24h-1zM97 253h1v24h-1zM41 277h2v23h-2zM45 277h1v23h-1zM47 277h1v23h-1zM119 277h1v23h-1zM27 300h1v18h-1zM31 300h1v18h-1zM42 300h1v18h-1zM113 300h1v18h-1zM32 318h1v17h-1zM36 318h1v17h-1zM39 318h1v17h-1zM43 318h1v17h-1zM47 318h1v17h-1zM33 335h1v18h-1zM86 335h1v18h-1zM115 335h1v18h-1zM106 353h1v17h-1zM113 370h1v18h-1zM116 370h1v18h-1zM113 388h1v19h-1zM118 388h1v19h-1zM32 407h1v19h-1zM116 407h1v19h-1zM119 407h1v19h-1zM115 426h1v18h-1zM114 444h1v18h-1zM114 462h1v16h-1zM116 462h1v16h-1zM119 462h1v16h-1zM112 478h1v16h-1zM119 478h1v16h-1zM115 511h2v9h-2zM119 511h1v9h-1z"/><path fill="#dbeaf2" d="M41 201h1v17h-1zM44 201h1v17h-1zM48 201h1v17h-1zM24 218h1v18h-1zM38 218h1v18h-1zM41 218h1v18h-1zM45 218h2v18h-2zM37 236h1v17h-1zM40 236h1v17h-1zM43 236h1v17h-1zM46 236h1v17h-1zM51 236h1v17h-1zM33 253h1v24h-1zM39 253h1v24h-1zM42 253h3v24h-3zM46 253h1v24h-1zM27 277h1v23h-1zM32 277h1v23h-1zM40 277h1v23h-1zM94 277h1v23h-1zM32 300h1v18h-1zM38 300h1v18h-1zM40 300h1v18h-1zM43 300h1v18h-1zM47 300h1v18h-1zM119 300h1v18h-1zM38 318h1v17h-1zM41 318h2v17h-2zM44 318h3v17h-3zM89 318h1v17h-1zM106 318h1v17h-1zM62 335h1v18h-1zM85 335h1v18h-1zM105 335h1v18h-1zM109 335h1v18h-1zM111 335h1v18h-1zM119 335h1v18h-1zM108 353h1v17h-1zM114 353h1v17h-1zM108 370h1v18h-1zM109 388h1v19h-1zM117 388h1v19h-1zM119 388h1v19h-1zM111 407h2v19h-2zM115 407h1v19h-1zM110 426h1v18h-1zM113 426h1v18h-1zM116 426h3v18h-3zM113 444h1v18h-1zM116 444h1v18h-1zM119 444h1v18h-1zM113 462h1v16h-1zM117 462h1v16h-1zM111 478h1v16h-1zM113 478h1v16h-1zM117 478h2v16h-2zM113 494h2v17h-2zM116 494h4v17h-4zM117 511h1v9h-1z"/><path fill="#e3edf3" d="M43 201h1v17h-1zM46 201h2v17h-2zM47 218h1v18h-1zM51 218h1v18h-1zM53 236h1v17h-1zM41 253h1v24h-1zM47 253h1v24h-1zM117 253h1v24h-1zM43 277h2v23h-2zM49 277h1v23h-1zM51 277h1v23h-1zM116 277h1v23h-1zM118 277h1v23h-1zM45 300h1v18h-1zM48 300h1v18h-1zM52 300h1v18h-1zM91 300h1v18h-1zM108 300h2v18h-2zM112 300h1v18h-1zM114 300h1v18h-1zM118 300h1v18h-1zM37 318h1v17h-1zM51 318h1v17h-1zM87 318h1v17h-1zM105 318h1v17h-1zM114 318h2v17h-2zM118 318h2v17h-2zM63 335h2v18h-2zM107 335h1v18h-1zM112 335h2v18h-2zM117 335h2v18h-2zM109 353h1v17h-1zM111 353h3v17h-3zM116 353h1v17h-1zM118 353h1v17h-1zM107 370h1v18h-1zM109 370h1v18h-1zM111 370h1v18h-1zM114 370h2v18h-2zM117 370h1v18h-1zM119 370h1v18h-1zM108 388h1v19h-1zM111 388h1v19h-1zM114 388h2v19h-2zM108 407h2v19h-2zM114 407h1v19h-1zM117 407h1v19h-1zM109 426h1v18h-1zM111 426h2v18h-2zM114 426h1v18h-1zM111 444h1v18h-1zM118 444h1v18h-1zM118 462h1v16h-1zM114 478h3v16h-3zM111 494h1v17h-1zM115 494h1v17h-1zM112 511h1v9h-1zM118 511h1v9h-1z"/><path fill="#ebf1f5" d="M49 201h1v17h-1zM49 218h1v18h-1zM49 236h2v17h-2zM54 236h1v17h-1zM49 253h1v24h-1zM51 253h1v24h-1zM96 253h1v24h-1zM116 253h1v24h-1zM119 253h1v24h-1zM46 277h1v23h-1zM48 277h1v23h-1zM50 277h1v23h-1zM52 277h3v23h-3zM57 277h1v23h-1zM59 277h2v23h-2zM93 277h1v23h-1zM108 277h1v23h-1zM115 277h1v23h-1zM117 277h1v23h-1zM51 300h1v18h-1zM56 300h1v18h-1zM90 300h1v18h-1zM111 300h1v18h-1zM115 300h1v18h-1zM117 300h1v18h-1zM48 318h3v17h-3zM52 318h1v17h-1zM54 318h1v17h-1zM57 318h1v17h-1zM108 318h1v17h-1zM110 318h1v17h-1zM112 318h1v17h-1zM116 318h2v17h-2zM106 335h1v18h-1zM108 335h1v18h-1zM110 335h1v18h-1zM116 335h1v18h-1zM107 353h1v17h-1zM110 353h1v17h-1zM119 353h1v17h-1zM110 370h1v18h-1zM112 370h1v18h-1zM118 370h1v18h-1zM110 388h1v19h-1zM116 388h1v19h-1zM110 407h1v19h-1zM113 407h1v19h-1zM118 407h1v19h-1zM112 444h1v18h-1zM115 444h1v18h-1zM117 444h1v18h-1zM110 462h2v16h-2zM115 462h1v16h-1zM112 494h1v17h-1zM114 511h1v9h-1z"/><path fill="#f3f5f6" d="M51 201h2v17h-2zM50 218h1v18h-1zM116 218h1v18h-1zM118 218h2v18h-2zM52 236h1v17h-1zM56 236h1v17h-1zM116 236h1v17h-1zM118 236h1v17h-1zM48 253h1v24h-1zM52 253h2v24h-2zM55 253h1v24h-1zM57 253h2v24h-2zM118 253h1v24h-1zM55 277h1v23h-1zM109 277h1v23h-1zM111 277h4v23h-4zM46 300h1v18h-1zM50 300h1v18h-1zM53 300h2v18h-2zM57 300h2v18h-2zM110 300h1v18h-1zM116 300h1v18h-1zM53 318h1v17h-1zM60 318h2v17h-2zM104 318h1v17h-1zM107 318h1v17h-1zM111 318h1v17h-1zM84 335h1v18h-1zM114 335h1v18h-1zM115 353h1v17h-1zM117 353h1v17h-1zM107 388h1v19h-1zM110 444h1v18h-1zM112 462h1v16h-1zM111 511h1v9h-1z"/><path fill="#f8f4f2" d="M50 201h1v17h-1zM53 201h1v17h-1zM52 218h1v18h-1zM54 218h2v18h-2zM55 236h1v17h-1zM57 236h1v17h-1zM115 236h1v17h-1zM50 253h1v24h-1zM54 253h1v24h-1zM56 253h1v24h-1zM113 253h2v24h-2zM58 277h1v23h-1zM62 277h1v23h-1zM110 277h1v23h-1zM49 300h1v18h-1zM55 300h1v18h-1zM59 300h1v18h-1zM55 318h2v17h-2zM58 318h2v17h-2zM86 318h1v17h-1zM88 318h1v17h-1zM109 318h1v17h-1zM113 318h1v17h-1zM112 388h1v19h-1z"/><path fill="#f9eee8" d="M54 201h1v17h-1zM56 201h1v17h-1zM59 201h1v17h-1zM119 201h1v17h-1zM48 218h1v18h-1zM53 218h1v18h-1zM57 218h1v18h-1zM113 218h3v18h-3zM117 236h1v17h-1zM59 253h1v24h-1zM61 253h2v24h-2zM112 253h1v24h-1zM115 253h1v24h-1zM56 277h1v23h-1zM61 300h2v18h-2zM104 300h1v18h-1zM107 300h1v18h-1zM62 318h3v17h-3zM65 335h1v18h-1z"/><path fill="#fae8dd" d="M55 201h1v17h-1zM57 201h1v17h-1zM113 201h1v17h-1zM116 201h1v17h-1zM56 218h1v18h-1zM58 218h1v18h-1zM58 236h2v17h-2zM113 236h1v17h-1zM119 236h1v17h-1zM110 253h2v24h-2zM61 277h1v23h-1zM63 277h2v23h-2zM107 277h1v23h-1zM60 300h1v18h-1zM64 300h1v18h-1zM105 300h2v18h-2zM65 318h1v17h-1zM83 335h1v18h-1z"/><path fill="#fbe2d3" d="M58 201h1v17h-1zM61 201h1v17h-1zM64 201h1v17h-1zM108 201h2v17h-2zM111 201h2v17h-2zM114 201h2v17h-2zM117 201h1v17h-1zM112 218h1v18h-1zM117 218h1v18h-1zM62 236h1v17h-1zM108 236h4v17h-4zM114 236h1v17h-1zM60 253h1v24h-1zM106 253h4v24h-4zM63 300h1v18h-1zM66 300h1v18h-1zM89 300h1v18h-1zM67 318h2v17h-2z"/><path fill="#fddcc9" d="M60 201h1v17h-1zM62 201h1v17h-1zM61 218h2v18h-2zM66 218h1v18h-1zM107 218h1v18h-1zM109 218h1v18h-1zM111 218h1v18h-1zM60 236h2v17h-2zM100 236h1v17h-1zM112 236h1v17h-1zM63 253h4v24h-4zM103 253h1v24h-1zM105 253h1v24h-1zM65 277h2v23h-2zM68 277h2v23h-2zM105 277h2v23h-2zM65 300h1v18h-1zM67 300h2v18h-2zM69 318h1v17h-1zM85 318h1v17h-1zM68 335h1v18h-1zM70 335h1v18h-1zM73 335h1v18h-1zM75 335h1v18h-1zM77 335h1v18h-1zM81 335h1v18h-1z"/><path fill="#fbd2bb" d="M66 201h1v17h-1zM107 201h1v17h-1zM110 201h1v17h-1zM59 218h1v18h-1zM105 218h1v18h-1zM108 218h1v18h-1zM110 218h1v18h-1zM63 236h2v17h-2zM66 236h1v17h-1zM99 236h1v17h-1zM106 236h1v17h-1zM66 318h1v17h-1zM66 335h1v18h-1zM72 335h1v18h-1zM74 335h1v18h-1zM76 335h1v18h-1zM80 335h1v18h-1zM82 335h1v18h-1z"/><path fill="#fac6ad" d="M63 201h1v17h-1zM65 201h1v17h-1zM67 201h1v17h-1zM106 201h1v17h-1zM118 201h1v17h-1zM60 218h1v18h-1zM63 218h2v18h-2zM106 218h1v18h-1zM65 236h1v17h-1zM105 236h1v17h-1zM107 236h1v17h-1zM68 253h1v24h-1zM92 277h1v23h-1zM103 277h1v23h-1zM69 300h1v18h-1zM81 318h1v17h-1zM67 335h1v18h-1zM69 335h1v18h-1zM71 335h1v18h-1zM78 335h2v18h-2z"/><path fill="#f8bb9e" d="M68 201h1v17h-1zM70 201h1v17h-1zM104 201h1v17h-1zM65 218h1v18h-1zM67 218h2v18h-2zM68 236h2v17h-2zM101 236h1v17h-1zM67 253h1v24h-1zM69 253h1v24h-1zM102 253h1v24h-1zM104 253h1v24h-1zM67 277h1v23h-1zM70 277h1v23h-1zM104 277h1v23h-1zM70 300h1v18h-1zM70 318h1v17h-1zM72 318h1v17h-1zM79 318h1v17h-1z"/><path fill="#f6af8f" d="M69 201h1v17h-1zM69 218h2v18h-2zM72 218h2v18h-2zM104 218h1v18h-1zM67 236h1v17h-1zM70 236h3v17h-3zM104 236h1v17h-1zM71 318h1v17h-1zM73 318h3v17h-3zM78 318h1v17h-1zM80 318h1v17h-1zM82 318h1v17h-1z"/><path fill="#f3a481" d="M105 201h1v17h-1zM103 236h1v17h-1zM70 253h3v24h-3zM71 277h2v23h-2zM71 300h1v18h-1zM73 300h1v18h-1z"/><path fill="#ed9576" d="M72 201h2v17h-2zM71 218h1v18h-1zM74 218h1v18h-1zM103 218h1v18h-1zM73 236h1v17h-1zM75 236h1v17h-1zM73 253h1v24h-1zM75 253h1v24h-1zM73 277h1v23h-1zM72 300h1v18h-1zM74 300h1v18h-1zM77 318h1v17h-1zM83 318h2v17h-2z"/><path fill="#e7866a" d="M71 201h1v17h-1zM74 201h1v17h-1zM76 201h1v17h-1zM102 201h2v17h-2zM74 236h1v17h-1zM102 236h1v17h-1zM75 300h1v18h-1zM76 318h1v17h-1z"/><path fill="#e0775f" d="M75 218h2v18h-2zM102 218h1v18h-1zM76 236h1v17h-1zM79 236h1v17h-1zM74 253h1v24h-1zM76 253h1v24h-1zM74 277h1v23h-1zM76 300h1v18h-1zM88 300h1v18h-1z"/><path fill="#da6954" d="M75 201h1v17h-1zM79 201h1v17h-1zM79 218h2v18h-2zM100 218h1v18h-1zM77 236h2v17h-2zM77 253h1v24h-1zM75 277h3v23h-3zM79 277h1v23h-1zM77 300h1v18h-1zM81 300h1v18h-1z"/><path fill="#d35a4a" d="M77 201h1v17h-1zM99 201h1v17h-1zM101 201h1v17h-1zM77 218h2v18h-2zM81 218h1v18h-1zM80 236h1v17h-1zM79 253h1v24h-1zM78 277h1v23h-1zM78 300h2v18h-2zM82 300h1v18h-1zM86 300h2v18h-2z"/><path fill="#cb4b43" d="M78 201h1v17h-1zM80 201h1v17h-1zM100 201h1v17h-1zM101 218h1v18h-1zM83 236h1v17h-1zM98 236h1v17h-1zM78 253h1v24h-1zM80 253h1v24h-1zM80 277h1v23h-1zM80 300h1v18h-1zM84 300h2v18h-2z"/><path fill="#c43b3c" d="M81 201h1v17h-1zM99 218h1v18h-1zM81 253h1v24h-1zM85 253h1v24h-1zM81 277h1v23h-1zM87 277h1v23h-1zM83 300h1v18h-1z"/><path fill="#bc2c34" d="M85 201h1v17h-1zM82 218h1v18h-1zM85 218h1v18h-1zM82 236h1v17h-1zM97 236h1v17h-1zM82 253h1v24h-1zM82 277h3v23h-3zM88 277h1v23h-1zM91 277h1v23h-1z"/><path fill="#b41d2d" d="M98 201h1v17h-1zM98 218h1v18h-1zM81 236h1v17h-1zM84 236h2v17h-2zM84 253h1v24h-1zM86 253h2v24h-2zM85 277h2v23h-2zM90 277h1v23h-1z"/><path fill="#a71429" d="M82 201h1v17h-1zM84 201h1v17h-1zM97 201h1v17h-1zM83 218h2v18h-2zM86 218h1v18h-1zM87 236h2v17h-2zM83 253h1v24h-1zM89 277h1v23h-1z"/><path fill="#970f27" d="M83 201h1v17h-1zM87 218h2v18h-2zM90 218h1v18h-1zM97 218h1v18h-1zM86 236h1v17h-1zM91 236h1v17h-1zM93 236h1v17h-1zM95 236h2v17h-2zM88 253h1v24h-1zM91 253h1v24h-1zM93 253h1v24h-1zM95 253h1v24h-1z"/><path fill="#870a24" d="M86 201h3v17h-3zM96 201h1v17h-1zM93 218h1v18h-1zM96 218h1v18h-1zM90 236h1v17h-1zM89 253h1v24h-1zM94 253h1v24h-1z"/><path fill="#770522" d="M90 201h1v17h-1zM94 201h2v17h-2zM89 218h1v18h-1zM95 218h1v18h-1zM94 236h1v17h-1zM92 253h1v24h-1z"/><path fill="#67001f" d="M89 201h1v17h-1zM91 201h3v17h-3zM91 218h2v18h-2zM94 218h1v18h-1zM89 236h1v17h-1zM92 236h1v17h-1zM90 253h1v24h-1z"/></g>

<rect x="830.8" y="74.8" width="583.4" height="445.5" fill="none" stroke="#000" stroke-width="1.6"/>
<path d="M830.9 520.3v8M1025.13 520.3v8M1219.37 520.3v8M1413.6 520.3v8M928.02 520.3v4.2M1122.25 520.3v4.2M1316.48 520.3v4.2M830.8 450.7h-8M830.8 370.35h-8M830.8 290h-8M830.8 209.65h-8M830.8 129.3h-8M830.8 490.88h-4.2M830.8 410.52h-4.2M830.8 330.18h-4.2M830.8 249.83h-4.2M830.8 169.48h-4.2M830.8 89.13h-4.2" stroke="#000" stroke-width="1.6" fill="none"/>
<text x="830.9" y="555.6" text-anchor="middle" font-size="29.2">-1.2</text>
<text x="1025.13" y="555.6" text-anchor="middle" font-size="29.2">-1.0</text>
<text x="1219.37" y="555.6" text-anchor="middle" font-size="29.2">-0.8</text>
<text x="1413.6" y="555.6" text-anchor="middle" font-size="29.2">-0.6</text>
<text x="818.3" y="460.3" text-anchor="end" font-size="29.2">50</text>
<text x="818.3" y="379.95" text-anchor="end" font-size="29.2">100</text>
<text x="818.3" y="299.6" text-anchor="end" font-size="29.2">150</text>
<text x="818.3" y="219.25" text-anchor="end" font-size="29.2">200</text>
<text x="818.3" y="138.9" text-anchor="end" font-size="29.2">250</text>
<text x="1123" y="587.6" text-anchor="middle" font-size="29.2"><tspan font-style="italic">n</tspan> (10<tspan font-size="18.5" dy="-11">12</tspan><tspan dy="11"> cm</tspan><tspan font-size="18.5" dy="-11">-2</tspan><tspan dy="11">)</tspan></text>
<text transform="translate(757.5 297.55) rotate(-90)" text-anchor="middle" font-size="29.2"><tspan font-style="italic">T</tspan> (mK)</text>
<text x="750" y="44.5" font-size="27" font-weight="bold">b</text>
<rect x="1269.6" y="36.6" width="123.4" height="22" fill="url(#cb)" stroke="#000" stroke-width="1.6"/>
<text x="1269.6" y="28.5" text-anchor="middle" font-size="29.2">0</text>
<text x="1393" y="28.5" text-anchor="middle" font-size="29.2">200</text>
<text x="1263.1" y="57.7" text-anchor="end" font-size="29.2"><tspan font-style="italic">R</tspan><tspan font-style="italic" font-size="20.5" dy="8.4">xx</tspan><tspan dy="-8.4"> (</tspan><tspan font-family='"Liberation Serif", "Times New Roman", serif' font-size="33.5">Ω</tspan>)</text>
<text x="841.8" y="111.4" font-size="29.8" font-weight="bold"><tspan font-style="italic">D</tspan> = -0.20 V/nm</text>
</g>
<g id="panel-c">
<g shape-rendering="crispEdges" transform="translate(1554.20 0) scale(4.8433 1)"><path fill="#182e62" d="M75 277h1v23h-1zM80 277h1v23h-1zM84 277h1v23h-1zM75 300h3v18h-3zM87 300h1v18h-1zM66 318h1v16h-1zM74 318h1v16h-1zM76 318h5v16h-5zM85 318h1v16h-1zM87 318h1v16h-1zM63 334h1v18h-1zM80 334h1v18h-1zM83 334h1v18h-1zM96 334h1v18h-1zM63 352h1v18h-1zM66 352h1v18h-1zM76 352h1v18h-1zM79 352h1v18h-1zM63 370h1v17h-1zM65 370h1v17h-1zM73 370h1v17h-1zM78 370h1v17h-1zM80 370h1v17h-1zM87 370h1v17h-1zM63 387h1v20h-1zM75 387h2v20h-2zM80 387h1v20h-1zM83 387h1v20h-1zM85 387h1v20h-1zM82 407h1v19h-1zM94 407h1v19h-1zM54 426h1v19h-1zM59 426h1v19h-1zM75 426h1v19h-1zM78 426h1v19h-1zM57 445h2v17h-2zM65 445h1v17h-1zM71 445h1v17h-1zM80 445h1v17h-1zM88 445h1v17h-1zM77 462h1v16h-1zM80 462h1v16h-1zM93 462h2v16h-2zM70 478h1v17h-1zM78 478h1v17h-1zM80 478h1v17h-1zM63 495h1v17h-1zM76 495h1v17h-1zM83 495h1v17h-1zM50 512h1v8h-1zM80 512h1v8h-1zM96 512h1v8h-1zM99 512h1v8h-1z"/><path fill="#1c3870" d="M78 226h1v26h-1zM80 226h1v26h-1zM83 226h1v26h-1zM72 252h1v25h-1zM88 252h1v25h-1zM67 277h1v23h-1zM78 277h1v23h-1zM82 277h1v23h-1zM62 300h2v18h-2zM66 300h2v18h-2zM72 300h1v18h-1zM74 300h1v18h-1zM80 300h3v18h-3zM67 318h2v16h-2zM70 318h1v16h-1zM84 318h1v16h-1zM91 318h1v16h-1zM94 318h1v16h-1zM55 334h1v18h-1zM60 334h1v18h-1zM65 334h1v18h-1zM67 334h1v18h-1zM69 334h2v18h-2zM74 334h3v18h-3zM78 334h1v18h-1zM87 334h1v18h-1zM92 334h1v18h-1zM57 352h4v18h-4zM65 352h1v18h-1zM70 352h1v18h-1zM75 352h1v18h-1zM77 352h1v18h-1zM80 352h1v18h-1zM83 352h1v18h-1zM86 352h1v18h-1zM89 352h2v18h-2zM57 370h1v17h-1zM66 370h1v17h-1zM68 370h1v17h-1zM70 370h1v17h-1zM74 370h1v17h-1zM84 370h1v17h-1zM88 370h1v17h-1zM90 370h1v17h-1zM92 370h1v17h-1zM96 370h1v17h-1zM54 387h1v20h-1zM57 387h2v20h-2zM67 387h1v20h-1zM70 387h2v20h-2zM73 387h1v20h-1zM82 387h1v20h-1zM87 387h1v20h-1zM89 387h2v20h-2zM95 387h1v20h-1zM52 407h1v19h-1zM55 407h1v19h-1zM67 407h2v19h-2zM74 407h2v19h-2zM80 407h1v19h-1zM83 407h1v19h-1zM87 407h1v19h-1zM89 407h1v19h-1zM91 407h2v19h-2zM48 426h3v19h-3zM57 426h1v19h-1zM60 426h2v19h-2zM65 426h1v19h-1zM67 426h1v19h-1zM71 426h1v19h-1zM73 426h1v19h-1zM76 426h2v19h-2zM90 426h1v19h-1zM92 426h1v19h-1zM96 426h2v19h-2zM52 445h1v17h-1zM61 445h1v17h-1zM68 445h3v17h-3zM76 445h1v17h-1zM78 445h2v17h-2zM83 445h1v17h-1zM87 445h1v17h-1zM89 445h1v17h-1zM92 445h1v17h-1zM94 445h1v17h-1zM52 462h2v16h-2zM55 462h1v16h-1zM57 462h1v16h-1zM60 462h1v16h-1zM65 462h2v16h-2zM68 462h1v16h-1zM71 462h1v16h-1zM73 462h2v16h-2zM76 462h1v16h-1zM79 462h1v16h-1zM83 462h1v16h-1zM87 462h1v16h-1zM91 462h2v16h-2zM96 462h1v16h-1zM102 462h1v16h-1zM49 478h1v17h-1zM52 478h3v17h-3zM56 478h1v17h-1zM58 478h1v17h-1zM67 478h1v17h-1zM75 478h2v17h-2zM81 478h3v17h-3zM92 478h1v17h-1zM96 478h1v17h-1zM98 478h1v17h-1zM46 495h1v17h-1zM48 495h1v17h-1zM55 495h1v17h-1zM59 495h2v17h-2zM64 495h2v17h-2zM67 495h1v17h-1zM74 495h2v17h-2zM78 495h4v17h-4zM88 495h2v17h-2zM45 512h3v8h-3zM57 512h1v8h-1zM59 512h2v8h-2zM65 512h1v8h-1zM68 512h3v8h-3zM75 512h2v8h-2zM78 512h2v8h-2zM83 512h1v8h-1zM85 512h1v8h-1zM87 512h4v8h-4zM92 512h1v8h-1zM95 512h1v8h-1z"/><path fill="#21427f" d="M76 226h1v26h-1zM88 226h2v26h-2zM67 252h1v25h-1zM71 252h1v25h-1zM78 252h1v25h-1zM80 252h1v25h-1zM83 252h1v25h-1zM86 252h1v25h-1zM93 252h1v25h-1zM63 277h1v23h-1zM68 277h1v23h-1zM74 277h1v23h-1zM76 277h1v23h-1zM79 277h1v23h-1zM85 277h1v23h-1zM87 277h2v23h-2zM90 277h3v23h-3zM94 277h1v23h-1zM60 300h1v18h-1zM65 300h1v18h-1zM68 300h1v18h-1zM70 300h2v18h-2zM78 300h2v18h-2zM83 300h1v18h-1zM88 300h2v18h-2zM91 300h2v18h-2zM58 318h1v16h-1zM61 318h1v16h-1zM69 318h1v16h-1zM71 318h2v16h-2zM75 318h1v16h-1zM81 318h1v16h-1zM83 318h1v16h-1zM86 318h1v16h-1zM88 318h2v16h-2zM92 318h1v16h-1zM95 318h1v16h-1zM57 334h3v18h-3zM61 334h2v18h-2zM68 334h1v18h-1zM71 334h1v18h-1zM77 334h1v18h-1zM79 334h1v18h-1zM81 334h2v18h-2zM84 334h1v18h-1zM86 334h1v18h-1zM94 334h1v18h-1zM54 352h1v18h-1zM67 352h1v18h-1zM69 352h1v18h-1zM72 352h1v18h-1zM74 352h1v18h-1zM78 352h1v18h-1zM82 352h1v18h-1zM84 352h1v18h-1zM87 352h1v18h-1zM93 352h1v18h-1zM98 352h1v18h-1zM53 370h1v17h-1zM56 370h1v17h-1zM59 370h1v17h-1zM62 370h1v17h-1zM69 370h1v17h-1zM71 370h1v17h-1zM75 370h3v17h-3zM79 370h1v17h-1zM81 370h2v17h-2zM86 370h1v17h-1zM89 370h1v17h-1zM91 370h1v17h-1zM93 370h1v17h-1zM95 370h1v17h-1zM55 387h2v20h-2zM59 387h1v20h-1zM61 387h2v20h-2zM66 387h1v20h-1zM68 387h1v20h-1zM74 387h1v20h-1zM79 387h1v20h-1zM84 387h1v20h-1zM86 387h1v20h-1zM88 387h1v20h-1zM94 387h1v20h-1zM96 387h1v20h-1zM98 387h1v20h-1zM57 407h2v19h-2zM62 407h4v19h-4zM70 407h1v19h-1zM73 407h1v19h-1zM76 407h4v19h-4zM81 407h1v19h-1zM84 407h2v19h-2zM90 407h1v19h-1zM95 407h2v19h-2zM52 426h1v19h-1zM56 426h1v19h-1zM62 426h2v19h-2zM69 426h1v19h-1zM74 426h1v19h-1zM79 426h5v19h-5zM86 426h1v19h-1zM88 426h1v19h-1zM95 426h1v19h-1zM98 426h1v19h-1zM48 445h1v17h-1zM50 445h1v17h-1zM55 445h2v17h-2zM60 445h1v17h-1zM63 445h1v17h-1zM66 445h2v17h-2zM74 445h1v17h-1zM77 445h1v17h-1zM81 445h2v17h-2zM84 445h2v17h-2zM93 445h1v17h-1zM95 445h2v17h-2zM99 445h3v17h-3zM47 462h1v16h-1zM50 462h1v16h-1zM54 462h1v16h-1zM56 462h1v16h-1zM58 462h1v16h-1zM61 462h2v16h-2zM64 462h1v16h-1zM69 462h2v16h-2zM72 462h1v16h-1zM75 462h1v16h-1zM78 462h1v16h-1zM82 462h1v16h-1zM85 462h2v16h-2zM88 462h2v16h-2zM97 462h1v16h-1zM99 462h1v16h-1zM101 462h1v16h-1zM55 478h1v17h-1zM57 478h1v17h-1zM60 478h2v17h-2zM63 478h4v17h-4zM68 478h2v17h-2zM71 478h1v17h-1zM74 478h1v17h-1zM77 478h1v17h-1zM79 478h1v17h-1zM84 478h2v17h-2zM87 478h3v17h-3zM93 478h2v17h-2zM99 478h1v17h-1zM101 478h1v17h-1zM42 495h1v17h-1zM50 495h1v17h-1zM54 495h1v17h-1zM57 495h2v17h-2zM61 495h2v17h-2zM66 495h1v17h-1zM69 495h2v17h-2zM72 495h1v17h-1zM77 495h1v17h-1zM82 495h1v17h-1zM84 495h1v17h-1zM86 495h2v17h-2zM92 495h5v17h-5zM98 495h1v17h-1zM102 495h2v17h-2zM49 512h1v8h-1zM51 512h2v8h-2zM54 512h2v8h-2zM58 512h1v8h-1zM61 512h2v8h-2zM64 512h1v8h-1zM67 512h1v8h-1zM71 512h1v8h-1zM73 512h2v8h-2zM77 512h1v8h-1zM82 512h1v8h-1zM84 512h1v8h-1zM93 512h1v8h-1zM97 512h2v8h-2zM100 512h2v8h-2z"/><path fill="#264f8f" d="M78 200h1v26h-1zM89 200h1v26h-1zM70 226h1v26h-1zM73 226h3v26h-3zM77 226h1v26h-1zM81 226h1v26h-1zM87 226h1v26h-1zM91 226h2v26h-2zM70 252h1v25h-1zM74 252h4v25h-4zM82 252h1v25h-1zM84 252h2v25h-2zM87 252h1v25h-1zM89 252h1v25h-1zM92 252h1v25h-1zM94 252h1v25h-1zM62 277h1v23h-1zM64 277h3v23h-3zM69 277h3v23h-3zM81 277h1v23h-1zM83 277h1v23h-1zM86 277h1v23h-1zM89 277h1v23h-1zM93 277h1v23h-1zM58 300h2v18h-2zM61 300h1v18h-1zM64 300h1v18h-1zM69 300h1v18h-1zM84 300h1v18h-1zM86 300h1v18h-1zM90 300h1v18h-1zM93 300h2v18h-2zM96 300h1v18h-1zM57 318h1v16h-1zM59 318h1v16h-1zM62 318h4v16h-4zM73 318h1v16h-1zM82 318h1v16h-1zM97 318h1v16h-1zM52 334h1v18h-1zM64 334h1v18h-1zM66 334h1v18h-1zM72 334h1v18h-1zM85 334h1v18h-1zM88 334h4v18h-4zM93 334h1v18h-1zM95 334h1v18h-1zM52 352h1v18h-1zM62 352h1v18h-1zM68 352h1v18h-1zM71 352h1v18h-1zM73 352h1v18h-1zM81 352h1v18h-1zM85 352h1v18h-1zM88 352h1v18h-1zM92 352h1v18h-1zM94 352h3v18h-3zM54 370h2v17h-2zM58 370h1v17h-1zM64 370h1v17h-1zM72 370h1v17h-1zM83 370h1v17h-1zM85 370h1v17h-1zM94 370h1v17h-1zM97 370h1v17h-1zM99 370h1v17h-1zM52 387h2v20h-2zM60 387h1v20h-1zM69 387h1v20h-1zM72 387h1v20h-1zM77 387h2v20h-2zM81 387h1v20h-1zM91 387h3v20h-3zM97 387h1v20h-1zM99 387h2v20h-2zM54 407h1v19h-1zM59 407h2v19h-2zM66 407h1v19h-1zM69 407h1v19h-1zM71 407h2v19h-2zM86 407h1v19h-1zM97 407h3v19h-3zM46 426h1v19h-1zM51 426h1v19h-1zM55 426h1v19h-1zM58 426h1v19h-1zM64 426h1v19h-1zM66 426h1v19h-1zM68 426h1v19h-1zM70 426h1v19h-1zM72 426h1v19h-1zM84 426h2v19h-2zM89 426h1v19h-1zM93 426h2v19h-2zM100 426h1v19h-1zM53 445h2v17h-2zM59 445h1v17h-1zM62 445h1v17h-1zM64 445h1v17h-1zM72 445h2v17h-2zM75 445h1v17h-1zM86 445h1v17h-1zM90 445h2v17h-2zM97 445h1v17h-1zM46 462h1v16h-1zM48 462h1v16h-1zM59 462h1v16h-1zM63 462h1v16h-1zM67 462h1v16h-1zM84 462h1v16h-1zM90 462h1v16h-1zM95 462h1v16h-1zM98 462h1v16h-1zM100 462h1v16h-1zM45 478h4v17h-4zM72 478h1v17h-1zM86 478h1v17h-1zM90 478h2v17h-2zM95 478h1v17h-1zM102 478h1v17h-1zM45 495h1v17h-1zM49 495h1v17h-1zM52 495h2v17h-2zM56 495h1v17h-1zM68 495h1v17h-1zM71 495h1v17h-1zM85 495h1v17h-1zM90 495h2v17h-2zM97 495h1v17h-1zM99 495h3v17h-3zM48 512h1v8h-1zM53 512h1v8h-1zM56 512h1v8h-1zM63 512h1v8h-1zM66 512h1v8h-1zM81 512h1v8h-1zM86 512h1v8h-1zM94 512h1v8h-1z"/><path fill="#2d5da0" d="M80 173h1v27h-1zM80 200h3v26h-3zM67 226h2v26h-2zM71 226h1v26h-1zM82 226h1v26h-1zM84 226h3v26h-3zM90 226h1v26h-1zM63 252h1v25h-1zM66 252h1v25h-1zM68 252h2v25h-2zM73 252h1v25h-1zM79 252h1v25h-1zM81 252h1v25h-1zM90 252h1v25h-1zM60 277h1v23h-1zM72 277h2v23h-2zM77 277h1v23h-1zM57 300h1v18h-1zM73 300h1v18h-1zM95 300h1v18h-1zM97 300h1v18h-1zM90 318h1v16h-1zM93 318h1v16h-1zM96 318h1v16h-1zM98 318h1v16h-1zM53 334h2v18h-2zM56 334h1v18h-1zM73 334h1v18h-1zM97 334h1v18h-1zM50 352h1v18h-1zM53 352h1v18h-1zM55 352h2v18h-2zM61 352h1v18h-1zM64 352h1v18h-1zM91 352h1v18h-1zM97 352h1v18h-1zM50 370h1v17h-1zM52 370h1v17h-1zM60 370h2v17h-2zM67 370h1v17h-1zM100 370h1v17h-1zM64 387h2v20h-2zM53 407h1v19h-1zM56 407h1v19h-1zM61 407h1v19h-1zM88 407h1v19h-1zM93 407h1v19h-1zM100 407h1v19h-1zM47 426h1v19h-1zM53 426h1v19h-1zM87 426h1v19h-1zM91 426h1v19h-1zM99 426h1v19h-1zM47 445h1v17h-1zM49 445h1v17h-1zM51 445h1v17h-1zM98 445h1v17h-1zM102 445h1v17h-1zM49 462h1v16h-1zM51 462h1v16h-1zM81 462h1v16h-1zM44 478h1v17h-1zM50 478h1v17h-1zM59 478h1v17h-1zM62 478h1v17h-1zM73 478h1v17h-1zM97 478h1v17h-1zM100 478h1v17h-1zM103 478h1v17h-1zM44 495h1v17h-1zM47 495h1v17h-1zM51 495h1v17h-1zM104 495h1v17h-1zM42 512h3v8h-3zM91 512h1v8h-1zM103 512h2v8h-2z"/><path fill="#346aae" d="M76 173h3v27h-3zM76 200h1v26h-1zM83 200h1v26h-1zM87 200h2v26h-2zM65 226h2v26h-2zM69 226h1v26h-1zM72 226h1v26h-1zM79 226h1v26h-1zM65 252h1v25h-1zM91 252h1v25h-1zM61 277h1v23h-1zM95 277h2v23h-2zM55 300h2v18h-2zM85 300h1v18h-1zM54 318h1v16h-1zM56 318h1v16h-1zM60 318h1v16h-1zM98 334h1v18h-1zM99 352h1v18h-1zM98 370h1v17h-1zM49 387h2v20h-2zM51 407h1v19h-1zM101 407h1v19h-1zM101 426h1v19h-1zM103 426h1v19h-1zM46 445h1v17h-1zM103 462h1v16h-1zM42 478h1v17h-1zM51 478h1v17h-1zM104 478h1v17h-1zM41 495h1v17h-1zM43 495h1v17h-1zM73 495h1v17h-1zM72 512h1v8h-1zM102 512h1v8h-1zM105 512h1v8h-1z"/><path fill="#3a74b3" d="M75 173h1v27h-1zM83 173h2v27h-2zM86 173h1v27h-1zM70 200h1v26h-1zM74 200h2v26h-2zM84 200h3v26h-3zM64 226h1v26h-1zM62 252h1v25h-1zM64 252h1v25h-1zM59 277h1v23h-1zM55 318h1v16h-1zM99 334h1v18h-1zM51 352h1v18h-1zM48 407h3v19h-3zM45 426h1v19h-1zM102 426h1v19h-1zM45 445h1v17h-1zM103 445h1v17h-1zM44 462h2v16h-2zM105 495h1v17h-1zM40 512h2v8h-2z"/><path fill="#407eb9" d="M74 173h1v27h-1zM81 173h2v27h-2zM71 200h2v26h-2zM77 200h1v26h-1zM79 200h1v26h-1zM63 226h1v26h-1zM58 277h1v23h-1zM49 352h1v18h-1zM49 370h1v17h-1zM51 370h1v17h-1zM46 387h2v20h-2zM51 387h1v20h-1zM101 387h1v20h-1zM102 407h1v19h-1zM104 462h1v16h-1zM43 478h1v17h-1z"/><path fill="#4688be" d="M85 173h1v27h-1zM87 173h1v27h-1zM57 277h1v23h-1zM54 300h1v18h-1zM48 387h1v20h-1zM45 407h3v19h-3zM44 426h1v19h-1zM42 445h2v17h-2zM42 462h1v16h-1zM105 478h1v17h-1zM40 495h1v17h-1zM39 512h1v8h-1z"/><path fill="#4c92c4" d="M72 173h1v27h-1zM79 173h1v27h-1zM93 226h1v26h-1zM61 252h1v25h-1zM53 318h1v16h-1zM48 370h1v17h-1zM45 387h1v20h-1zM44 407h1v19h-1zM44 445h1v17h-1zM41 462h1v16h-1zM40 478h2v17h-2zM106 512h1v8h-1z"/><path fill="#579cc9" d="M73 173h1v27h-1zM73 200h1v26h-1zM52 318h1v16h-1zM51 334h1v18h-1zM104 445h1v17h-1zM43 462h1v16h-1z"/><path fill="#65a6ce" d="M3 74h1v32h-1zM3 106h1v20h-1zM88 173h1v27h-1zM60 252h1v25h-1zM50 334h1v18h-1zM105 462h1v16h-1zM39 495h1v17h-1z"/><path fill="#74b0d3" d="M1 74h1v32h-1zM4 74h2v32h-2zM9 74h2v32h-2zM0 106h3v20h-3zM9 106h1v20h-1zM0 126h1v20h-1zM11 126h1v20h-1zM5 173h1v27h-1zM4 200h1v26h-1zM69 200h1v26h-1zM1 277h1v23h-1zM2 300h1v18h-1zM9 370h1v17h-1zM47 370h1v17h-1zM0 387h1v20h-1zM4 387h2v20h-2zM0 407h1v19h-1zM0 426h1v19h-1zM4 445h1v17h-1z"/><path fill="#82bad8" d="M2 74h1v32h-1zM6 74h3v32h-3zM4 106h3v20h-3zM8 106h1v20h-1zM10 106h1v20h-1zM19 106h1v20h-1zM4 126h1v20h-1zM9 126h1v20h-1zM12 126h1v20h-1zM14 126h1v20h-1zM2 146h1v27h-1zM9 146h1v27h-1zM13 146h1v27h-1zM0 173h1v27h-1zM4 173h1v27h-1zM8 173h1v27h-1zM19 173h1v27h-1zM71 173h1v27h-1zM9 200h1v26h-1zM90 200h1v26h-1zM2 226h1v26h-1zM6 226h1v26h-1zM8 226h2v26h-2zM62 226h1v26h-1zM4 252h2v25h-2zM10 252h1v25h-1zM7 277h2v23h-2zM0 300h2v18h-2zM9 300h1v18h-1zM12 300h1v18h-1zM14 300h1v18h-1zM17 300h1v18h-1zM5 318h1v16h-1zM13 318h1v16h-1zM0 334h1v18h-1zM4 334h1v18h-1zM14 334h1v18h-1zM1 352h1v18h-1zM2 370h1v17h-1zM9 387h2v20h-2zM14 387h1v20h-1zM1 407h1v19h-1zM4 407h1v19h-1zM7 407h2v19h-2zM10 407h1v19h-1zM1 426h1v19h-1zM12 426h1v19h-1zM43 426h1v19h-1zM0 445h4v17h-4zM5 445h1v17h-1zM8 462h2v16h-2zM14 462h1v16h-1zM0 478h3v17h-3zM4 478h1v17h-1zM8 478h1v17h-1zM12 478h1v17h-1zM39 478h1v17h-1zM4 495h1v17h-1zM9 495h1v17h-1zM1 512h1v8h-1zM4 512h2v8h-2zM7 512h1v8h-1zM10 512h1v8h-1z"/><path fill="#91c4dd" d="M0 74h1v32h-1zM14 74h4v32h-4zM19 74h1v32h-1zM35 74h1v32h-1zM7 106h1v20h-1zM13 106h1v20h-1zM15 106h2v20h-2zM18 106h1v20h-1zM1 126h3v20h-3zM5 126h2v20h-2zM8 126h1v20h-1zM13 126h1v20h-1zM15 126h2v20h-2zM0 146h1v27h-1zM3 146h3v27h-3zM7 146h1v27h-1zM18 146h2v27h-2zM22 146h1v27h-1zM32 146h1v27h-1zM1 173h1v27h-1zM9 173h1v27h-1zM11 173h1v27h-1zM13 173h2v27h-2zM1 200h2v26h-2zM5 200h1v26h-1zM8 200h1v26h-1zM13 200h1v26h-1zM0 226h1v26h-1zM4 226h2v26h-2zM11 226h4v26h-4zM23 226h1v26h-1zM2 252h1v25h-1zM8 252h1v25h-1zM12 252h1v25h-1zM14 252h1v25h-1zM16 252h1v25h-1zM18 252h1v25h-1zM3 277h2v23h-2zM6 277h1v23h-1zM9 277h1v23h-1zM12 277h1v23h-1zM16 277h1v23h-1zM19 277h1v23h-1zM22 277h1v23h-1zM24 277h1v23h-1zM29 277h1v23h-1zM42 277h1v23h-1zM56 277h1v23h-1zM3 300h2v18h-2zM6 300h1v18h-1zM8 300h1v18h-1zM10 300h2v18h-2zM19 300h1v18h-1zM0 318h2v16h-2zM4 318h1v16h-1zM6 318h1v16h-1zM8 318h2v16h-2zM14 318h2v16h-2zM19 318h1v16h-1zM1 334h3v18h-3zM7 334h1v18h-1zM9 334h1v18h-1zM15 334h2v18h-2zM18 334h1v18h-1zM0 352h1v18h-1zM3 352h4v18h-4zM8 352h3v18h-3zM13 352h1v18h-1zM15 352h1v18h-1zM21 352h2v18h-2zM39 352h1v18h-1zM1 370h1v17h-1zM3 370h3v17h-3zM12 370h1v17h-1zM18 370h2v17h-2zM1 387h1v20h-1zM7 387h2v20h-2zM12 387h1v20h-1zM21 387h1v20h-1zM5 407h2v19h-2zM13 407h2v19h-2zM21 407h2v19h-2zM30 407h1v19h-1zM2 426h3v19h-3zM6 426h2v19h-2zM9 426h1v19h-1zM11 426h1v19h-1zM13 426h2v19h-2zM17 426h1v19h-1zM29 426h1v19h-1zM6 445h1v17h-1zM9 445h1v17h-1zM11 445h1v17h-1zM15 445h1v17h-1zM18 445h1v17h-1zM21 445h1v17h-1zM29 445h1v17h-1zM0 462h2v16h-2zM5 462h3v16h-3zM10 462h1v16h-1zM5 478h1v17h-1zM7 478h1v17h-1zM9 478h3v17h-3zM15 478h1v17h-1zM19 478h1v17h-1zM0 495h3v17h-3zM6 495h2v17h-2zM10 495h3v17h-3zM15 495h1v17h-1zM17 495h1v17h-1zM24 495h1v17h-1zM0 512h1v8h-1zM9 512h1v8h-1zM11 512h1v8h-1zM19 512h1v8h-1zM23 512h1v8h-1zM30 512h1v8h-1zM32 512h1v8h-1z"/><path fill="#9ecbe1" d="M11 74h2v32h-2zM20 74h1v32h-1zM24 74h1v32h-1zM12 106h1v20h-1zM14 106h1v20h-1zM22 106h1v20h-1zM30 106h1v20h-1zM7 126h1v20h-1zM10 126h1v20h-1zM17 126h1v20h-1zM19 126h1v20h-1zM22 126h1v20h-1zM26 126h1v20h-1zM29 126h1v20h-1zM1 146h1v27h-1zM6 146h1v27h-1zM10 146h2v27h-2zM14 146h3v27h-3zM24 146h1v27h-1zM29 146h1v27h-1zM2 173h2v27h-2zM16 173h2v27h-2zM21 173h1v27h-1zM23 173h1v27h-1zM29 173h1v27h-1zM0 200h1v26h-1zM3 200h1v26h-1zM7 200h1v26h-1zM10 200h1v26h-1zM12 200h1v26h-1zM14 200h1v26h-1zM22 200h1v26h-1zM1 226h1v26h-1zM10 226h1v26h-1zM18 226h2v26h-2zM24 226h1v26h-1zM26 226h1v26h-1zM29 226h1v26h-1zM0 252h2v25h-2zM3 252h1v25h-1zM6 252h2v25h-2zM9 252h1v25h-1zM11 252h1v25h-1zM15 252h1v25h-1zM17 252h1v25h-1zM22 252h1v25h-1zM24 252h2v25h-2zM29 252h1v25h-1zM34 252h1v25h-1zM59 252h1v25h-1zM0 277h1v23h-1zM2 277h1v23h-1zM5 277h1v23h-1zM10 277h2v23h-2zM13 277h1v23h-1zM15 277h1v23h-1zM17 277h1v23h-1zM27 277h1v23h-1zM35 277h1v23h-1zM5 300h1v18h-1zM7 300h1v18h-1zM15 300h1v18h-1zM18 300h1v18h-1zM22 300h2v18h-2zM26 300h1v18h-1zM28 300h1v18h-1zM30 300h1v18h-1zM35 300h1v18h-1zM50 300h1v18h-1zM2 318h2v16h-2zM7 318h1v16h-1zM10 318h3v16h-3zM17 318h2v16h-2zM22 318h1v16h-1zM29 318h1v16h-1zM34 318h1v16h-1zM37 318h1v16h-1zM39 318h1v16h-1zM5 334h2v18h-2zM8 334h1v18h-1zM10 334h4v18h-4zM19 334h1v18h-1zM28 334h1v18h-1zM31 334h1v18h-1zM35 334h1v18h-1zM2 352h1v18h-1zM7 352h1v18h-1zM12 352h1v18h-1zM14 352h1v18h-1zM17 352h2v18h-2zM27 352h1v18h-1zM30 352h1v18h-1zM48 352h1v18h-1zM0 370h1v17h-1zM6 370h2v17h-2zM13 370h4v17h-4zM21 370h2v17h-2zM27 370h1v17h-1zM29 370h2v17h-2zM32 370h1v17h-1zM40 370h1v17h-1zM2 387h2v20h-2zM6 387h1v20h-1zM13 387h1v20h-1zM16 387h4v20h-4zM23 387h1v20h-1zM27 387h1v20h-1zM30 387h1v20h-1zM39 387h1v20h-1zM2 407h2v19h-2zM9 407h1v19h-1zM11 407h1v19h-1zM15 407h2v19h-2zM18 407h1v19h-1zM23 407h2v19h-2zM27 407h1v19h-1zM34 407h1v19h-1zM5 426h1v19h-1zM10 426h1v19h-1zM15 426h1v19h-1zM18 426h2v19h-2zM22 426h2v19h-2zM26 426h2v19h-2zM37 426h1v19h-1zM42 426h1v19h-1zM7 445h2v17h-2zM10 445h1v17h-1zM12 445h3v17h-3zM16 445h2v17h-2zM19 445h2v17h-2zM34 445h1v17h-1zM37 445h1v17h-1zM2 462h3v16h-3zM12 462h1v16h-1zM15 462h1v16h-1zM18 462h2v16h-2zM35 462h1v16h-1zM40 462h1v16h-1zM3 478h1v17h-1zM6 478h1v17h-1zM13 478h1v17h-1zM27 478h1v17h-1zM30 478h1v17h-1zM5 495h1v17h-1zM8 495h1v17h-1zM13 495h1v17h-1zM19 495h1v17h-1zM22 495h2v17h-2zM27 495h2v17h-2zM31 495h2v17h-2zM34 495h1v17h-1zM106 495h1v17h-1zM2 512h2v8h-2zM6 512h1v8h-1zM8 512h1v8h-1zM13 512h1v8h-1zM15 512h1v8h-1zM21 512h2v8h-2zM25 512h2v8h-2zM29 512h1v8h-1zM107 512h1v8h-1z"/><path fill="#abd2e5" d="M13 74h1v32h-1zM18 74h1v32h-1zM21 74h1v32h-1zM23 74h1v32h-1zM25 74h1v32h-1zM27 74h3v32h-3zM32 74h3v32h-3zM40 74h1v32h-1zM11 106h1v20h-1zM17 106h1v20h-1zM20 106h2v20h-2zM24 106h1v20h-1zM27 106h1v20h-1zM29 106h1v20h-1zM32 106h1v20h-1zM20 126h1v20h-1zM37 126h1v20h-1zM8 146h1v27h-1zM12 146h1v27h-1zM17 146h1v27h-1zM20 146h2v27h-2zM23 146h1v27h-1zM25 146h2v27h-2zM28 146h1v27h-1zM30 146h1v27h-1zM39 146h1v27h-1zM6 173h2v27h-2zM10 173h1v27h-1zM12 173h1v27h-1zM15 173h1v27h-1zM18 173h1v27h-1zM22 173h1v27h-1zM26 173h1v27h-1zM28 173h1v27h-1zM30 173h3v27h-3zM70 173h1v27h-1zM6 200h1v26h-1zM11 200h1v26h-1zM15 200h5v26h-5zM21 200h1v26h-1zM23 200h1v26h-1zM26 200h3v26h-3zM30 200h1v26h-1zM32 200h1v26h-1zM34 200h1v26h-1zM42 200h1v26h-1zM3 226h1v26h-1zM7 226h1v26h-1zM15 226h3v26h-3zM20 226h1v26h-1zM22 226h1v26h-1zM27 226h1v26h-1zM32 226h1v26h-1zM34 226h2v26h-2zM40 226h1v26h-1zM13 252h1v25h-1zM19 252h1v25h-1zM26 252h2v25h-2zM32 252h2v25h-2zM14 277h1v23h-1zM18 277h1v23h-1zM20 277h2v23h-2zM23 277h1v23h-1zM26 277h1v23h-1zM30 277h1v23h-1zM32 277h2v23h-2zM39 277h1v23h-1zM44 277h2v23h-2zM13 300h1v18h-1zM16 300h1v18h-1zM21 300h1v18h-1zM27 300h1v18h-1zM34 300h1v18h-1zM36 300h1v18h-1zM39 300h1v18h-1zM41 300h2v18h-2zM16 318h1v16h-1zM21 318h1v16h-1zM23 318h2v16h-2zM26 318h3v16h-3zM30 318h1v16h-1zM32 318h1v16h-1zM44 318h1v16h-1zM17 334h1v18h-1zM20 334h1v18h-1zM23 334h1v18h-1zM27 334h1v18h-1zM29 334h1v18h-1zM32 334h1v18h-1zM36 334h1v18h-1zM11 352h1v18h-1zM19 352h2v18h-2zM23 352h2v18h-2zM26 352h1v18h-1zM32 352h1v18h-1zM41 352h2v18h-2zM46 352h1v18h-1zM8 370h1v17h-1zM10 370h2v17h-2zM17 370h1v17h-1zM20 370h1v17h-1zM23 370h2v17h-2zM26 370h1v17h-1zM28 370h1v17h-1zM34 370h1v17h-1zM36 370h1v17h-1zM45 370h1v17h-1zM15 387h1v20h-1zM22 387h1v20h-1zM24 387h3v20h-3zM28 387h2v20h-2zM31 387h1v20h-1zM33 387h4v20h-4zM38 387h1v20h-1zM41 387h2v20h-2zM102 387h1v20h-1zM12 407h1v19h-1zM17 407h1v19h-1zM19 407h1v19h-1zM25 407h1v19h-1zM28 407h2v19h-2zM35 407h1v19h-1zM37 407h2v19h-2zM42 407h1v19h-1zM8 426h1v19h-1zM28 426h1v19h-1zM30 426h1v19h-1zM32 426h2v19h-2zM35 426h2v19h-2zM38 426h1v19h-1zM41 426h1v19h-1zM22 445h2v17h-2zM25 445h4v17h-4zM33 445h1v17h-1zM35 445h1v17h-1zM16 462h2v16h-2zM21 462h2v16h-2zM24 462h1v16h-1zM26 462h5v16h-5zM32 462h3v16h-3zM14 478h1v17h-1zM16 478h3v17h-3zM21 478h1v17h-1zM23 478h1v17h-1zM32 478h1v17h-1zM34 478h1v17h-1zM36 478h2v17h-2zM3 495h1v17h-1zM14 495h1v17h-1zM16 495h1v17h-1zM20 495h2v17h-2zM29 495h1v17h-1zM33 495h1v17h-1zM35 495h1v17h-1zM12 512h1v8h-1zM16 512h1v8h-1zM33 512h1v8h-1zM109 512h1v8h-1z"/><path fill="#b9d9e9" d="M22 74h1v32h-1zM26 74h1v32h-1zM30 74h1v32h-1zM36 74h2v32h-2zM39 74h1v32h-1zM23 106h1v20h-1zM25 106h2v20h-2zM28 106h1v20h-1zM33 106h5v20h-5zM40 106h1v20h-1zM18 126h1v20h-1zM21 126h1v20h-1zM23 126h2v20h-2zM27 126h2v20h-2zM30 126h2v20h-2zM33 126h3v20h-3zM39 126h1v20h-1zM27 146h1v27h-1zM31 146h1v27h-1zM33 146h2v27h-2zM24 173h2v27h-2zM27 173h1v27h-1zM34 173h1v27h-1zM37 173h3v27h-3zM42 173h1v27h-1zM44 173h1v27h-1zM20 200h1v26h-1zM24 200h2v26h-2zM29 200h1v26h-1zM33 200h1v26h-1zM37 200h3v26h-3zM46 200h1v26h-1zM28 226h1v26h-1zM30 226h1v26h-1zM41 226h2v26h-2zM46 226h1v26h-1zM49 226h1v26h-1zM20 252h2v25h-2zM28 252h1v25h-1zM30 252h1v25h-1zM35 252h1v25h-1zM42 252h1v25h-1zM28 277h1v23h-1zM34 277h1v23h-1zM36 277h2v23h-2zM40 277h1v23h-1zM49 277h1v23h-1zM52 277h1v23h-1zM20 300h1v18h-1zM24 300h2v18h-2zM29 300h1v18h-1zM31 300h1v18h-1zM33 300h1v18h-1zM46 300h1v18h-1zM49 300h1v18h-1zM52 300h1v18h-1zM20 318h1v16h-1zM25 318h1v16h-1zM31 318h1v16h-1zM35 318h2v16h-2zM38 318h1v16h-1zM40 318h2v16h-2zM45 318h1v16h-1zM49 318h2v16h-2zM21 334h2v18h-2zM25 334h2v18h-2zM30 334h1v18h-1zM33 334h2v18h-2zM39 334h1v18h-1zM41 334h2v18h-2zM45 334h2v18h-2zM16 352h1v18h-1zM25 352h1v18h-1zM28 352h2v18h-2zM35 352h3v18h-3zM40 352h1v18h-1zM100 352h1v18h-1zM33 370h1v17h-1zM35 370h1v17h-1zM37 370h3v17h-3zM41 370h3v17h-3zM11 387h1v20h-1zM32 387h1v20h-1zM37 387h1v20h-1zM40 387h1v20h-1zM20 407h1v19h-1zM26 407h1v19h-1zM31 407h2v19h-2zM36 407h1v19h-1zM39 407h3v19h-3zM20 426h2v19h-2zM25 426h1v19h-1zM31 426h1v19h-1zM39 426h1v19h-1zM24 445h1v17h-1zM36 445h1v17h-1zM38 445h2v17h-2zM41 445h1v17h-1zM11 462h1v16h-1zM13 462h1v16h-1zM20 462h1v16h-1zM23 462h1v16h-1zM25 462h1v16h-1zM37 462h1v16h-1zM106 462h1v16h-1zM117 462h1v16h-1zM20 478h1v17h-1zM24 478h3v17h-3zM28 478h2v17h-2zM31 478h1v17h-1zM33 478h1v17h-1zM35 478h1v17h-1zM38 478h1v17h-1zM106 478h1v17h-1zM18 495h1v17h-1zM25 495h2v17h-2zM30 495h1v17h-1zM36 495h2v17h-2zM115 495h1v17h-1zM14 512h1v8h-1zM17 512h2v8h-2zM20 512h1v8h-1zM24 512h1v8h-1zM28 512h1v8h-1zM31 512h1v8h-1zM34 512h4v8h-4zM115 512h1v8h-1z"/><path fill="#c6e0ed" d="M42 74h2v32h-2zM46 74h1v32h-1zM48 74h1v32h-1zM31 106h1v20h-1zM38 106h2v20h-2zM41 106h3v20h-3zM46 106h1v20h-1zM25 126h1v20h-1zM36 126h1v20h-1zM38 126h1v20h-1zM40 126h2v20h-2zM35 146h1v27h-1zM37 146h2v27h-2zM40 146h1v27h-1zM43 146h1v27h-1zM84 146h1v27h-1zM20 173h1v27h-1zM33 173h1v27h-1zM35 173h2v27h-2zM40 173h2v27h-2zM45 173h2v27h-2zM49 173h1v27h-1zM31 200h1v26h-1zM35 200h2v26h-2zM40 200h1v26h-1zM43 200h1v26h-1zM45 200h1v26h-1zM49 200h1v26h-1zM21 226h1v26h-1zM25 226h1v26h-1zM33 226h1v26h-1zM36 226h4v26h-4zM50 226h1v26h-1zM23 252h1v25h-1zM36 252h2v25h-2zM40 252h1v25h-1zM43 252h1v25h-1zM45 252h2v25h-2zM49 252h2v25h-2zM52 252h1v25h-1zM25 277h1v23h-1zM31 277h1v23h-1zM41 277h1v23h-1zM43 277h1v23h-1zM47 277h1v23h-1zM50 277h1v23h-1zM54 277h1v23h-1zM32 300h1v18h-1zM37 300h2v18h-2zM43 300h3v18h-3zM47 300h2v18h-2zM53 300h1v18h-1zM33 318h1v16h-1zM42 318h1v16h-1zM46 318h2v16h-2zM51 318h1v16h-1zM24 334h1v18h-1zM37 334h1v18h-1zM40 334h1v18h-1zM43 334h2v18h-2zM48 334h2v18h-2zM33 352h2v18h-2zM43 352h3v18h-3zM115 352h1v18h-1zM25 370h1v17h-1zM31 370h1v17h-1zM46 370h1v17h-1zM117 370h2v17h-2zM20 387h1v20h-1zM43 387h1v20h-1zM33 407h1v19h-1zM115 407h1v19h-1zM16 426h1v19h-1zM24 426h1v19h-1zM34 426h1v19h-1zM40 426h1v19h-1zM115 426h1v19h-1zM30 445h3v17h-3zM40 445h1v17h-1zM112 445h1v17h-1zM114 445h1v17h-1zM31 462h1v16h-1zM36 462h1v16h-1zM38 462h2v16h-2zM115 462h1v16h-1zM22 478h1v17h-1zM38 495h1v17h-1zM110 495h1v17h-1zM118 495h1v17h-1zM27 512h1v8h-1zM38 512h1v8h-1zM110 512h1v8h-1zM112 512h1v8h-1zM114 512h1v8h-1z"/><path fill="#d3e6f0" d="M31 74h1v32h-1zM38 74h1v32h-1zM41 74h1v32h-1zM44 74h2v32h-2zM45 106h1v20h-1zM48 106h1v20h-1zM32 126h1v20h-1zM42 126h2v20h-2zM46 126h1v20h-1zM36 146h1v27h-1zM41 146h2v27h-2zM44 146h1v27h-1zM48 146h3v27h-3zM78 146h1v27h-1zM81 146h1v27h-1zM83 146h1v27h-1zM50 173h1v27h-1zM54 173h1v27h-1zM41 200h1v26h-1zM44 200h1v26h-1zM47 200h1v26h-1zM50 200h1v26h-1zM31 226h1v26h-1zM45 226h1v26h-1zM47 226h1v26h-1zM58 226h1v26h-1zM118 226h1v26h-1zM31 252h1v25h-1zM38 252h2v25h-2zM41 252h1v25h-1zM44 252h1v25h-1zM48 252h1v25h-1zM54 252h1v25h-1zM57 252h2v25h-2zM38 277h1v23h-1zM46 277h1v23h-1zM48 277h1v23h-1zM51 277h1v23h-1zM53 277h1v23h-1zM118 277h1v23h-1zM40 300h1v18h-1zM115 300h1v18h-1zM118 300h1v18h-1zM43 318h1v16h-1zM118 318h1v16h-1zM38 334h1v18h-1zM47 334h1v18h-1zM38 352h1v18h-1zM47 352h1v18h-1zM118 352h1v18h-1zM44 370h1v17h-1zM119 370h1v17h-1zM44 387h1v20h-1zM110 387h1v20h-1zM118 387h2v20h-2zM43 407h1v19h-1zM109 407h2v19h-2zM113 407h1v19h-1zM117 407h2v19h-2zM111 426h1v19h-1zM114 426h1v19h-1zM116 426h3v19h-3zM108 445h3v17h-3zM115 445h1v17h-1zM117 445h2v17h-2zM111 462h4v16h-4zM118 462h2v16h-2zM109 478h4v17h-4zM115 478h1v17h-1zM108 495h2v17h-2zM111 495h4v17h-4zM116 495h1v17h-1zM108 512h1v8h-1zM113 512h1v8h-1zM117 512h2v8h-2z"/><path fill="#dbeaf2" d="M47 74h1v32h-1zM49 74h1v32h-1zM57 74h1v32h-1zM52 106h1v20h-1zM55 106h1v20h-1zM47 126h1v20h-1zM52 126h1v20h-1zM54 126h2v20h-2zM57 126h1v20h-1zM45 146h3v27h-3zM51 146h2v27h-2zM62 146h1v27h-1zM65 146h1v27h-1zM76 146h2v27h-2zM79 146h2v27h-2zM118 146h1v27h-1zM43 173h1v27h-1zM48 173h1v27h-1zM52 173h2v27h-2zM55 173h1v27h-1zM59 173h1v27h-1zM67 173h3v27h-3zM115 173h1v27h-1zM48 200h1v26h-1zM52 200h2v26h-2zM56 200h1v26h-1zM58 200h1v26h-1zM60 200h1v26h-1zM68 200h1v26h-1zM119 200h1v26h-1zM43 226h2v26h-2zM48 226h1v26h-1zM52 226h4v26h-4zM57 226h1v26h-1zM59 226h1v26h-1zM115 226h1v26h-1zM47 252h1v25h-1zM53 252h1v25h-1zM55 252h1v25h-1zM95 252h1v25h-1zM115 252h1v25h-1zM118 252h1v25h-1zM55 277h1v23h-1zM51 300h1v18h-1zM117 300h1v18h-1zM119 300h1v18h-1zM48 318h1v16h-1zM113 318h3v16h-3zM117 318h1v16h-1zM104 334h1v18h-1zM112 334h1v18h-1zM115 334h1v18h-1zM117 334h2v18h-2zM31 352h1v18h-1zM112 352h2v18h-2zM119 352h1v18h-1zM101 370h1v17h-1zM105 370h1v17h-1zM114 370h2v17h-2zM105 387h2v20h-2zM108 387h2v20h-2zM113 387h5v20h-5zM103 407h1v19h-1zM105 407h1v19h-1zM112 407h1v19h-1zM119 407h1v19h-1zM104 426h1v19h-1zM106 426h2v19h-2zM109 426h2v19h-2zM112 426h1v19h-1zM119 426h1v19h-1zM106 445h1v17h-1zM111 445h1v17h-1zM113 445h1v17h-1zM119 445h1v17h-1zM107 462h4v16h-4zM116 462h1v16h-1zM107 478h2v17h-2zM114 478h1v17h-1zM116 478h4v17h-4zM107 495h1v17h-1zM117 495h1v17h-1zM119 495h1v17h-1zM111 512h1v8h-1zM116 512h1v8h-1zM119 512h1v8h-1z"/><path fill="#e3edf3" d="M50 74h1v32h-1zM55 74h1v32h-1zM59 74h1v32h-1zM118 74h1v32h-1zM47 106h1v20h-1zM49 106h3v20h-3zM53 106h2v20h-2zM56 106h1v20h-1zM119 106h1v20h-1zM44 126h1v20h-1zM48 126h2v20h-2zM51 126h1v20h-1zM53 126h1v20h-1zM117 126h2v20h-2zM54 146h1v27h-1zM56 146h4v27h-4zM63 146h1v27h-1zM66 146h1v27h-1zM82 146h1v27h-1zM117 146h1v27h-1zM47 173h1v27h-1zM51 173h1v27h-1zM56 173h1v27h-1zM60 173h4v27h-4zM65 173h1v27h-1zM113 173h1v27h-1zM118 173h2v27h-2zM51 200h1v26h-1zM55 200h1v26h-1zM57 200h1v26h-1zM62 200h1v26h-1zM115 200h1v26h-1zM117 200h2v26h-2zM51 226h1v26h-1zM56 226h1v26h-1zM60 226h1v26h-1zM108 226h1v26h-1zM117 226h1v26h-1zM51 252h1v25h-1zM56 252h1v25h-1zM109 252h1v25h-1zM112 252h1v25h-1zM119 252h1v25h-1zM113 277h1v23h-1zM116 277h2v23h-2zM119 277h1v23h-1zM98 300h1v18h-1zM111 300h2v18h-2zM116 300h1v18h-1zM106 318h1v16h-1zM109 318h1v16h-1zM116 318h1v16h-1zM119 318h1v16h-1zM114 334h1v18h-1zM103 352h1v18h-1zM106 352h2v18h-2zM111 352h1v18h-1zM114 352h1v18h-1zM104 370h1v17h-1zM109 370h1v17h-1zM112 370h2v17h-2zM116 370h1v17h-1zM103 387h1v20h-1zM107 387h1v20h-1zM111 387h1v20h-1zM104 407h1v19h-1zM106 407h2v19h-2zM114 407h1v19h-1zM105 426h1v19h-1zM108 426h1v19h-1zM113 426h1v19h-1zM107 445h1v17h-1zM116 445h1v17h-1zM113 478h1v17h-1z"/><path fill="#ebf1f5" d="M52 74h1v32h-1zM58 74h1v32h-1zM44 106h1v20h-1zM57 106h1v20h-1zM106 106h1v20h-1zM117 106h2v20h-2zM45 126h1v20h-1zM50 126h1v20h-1zM60 126h3v20h-3zM65 126h1v20h-1zM107 126h1v20h-1zM116 126h1v20h-1zM53 146h1v27h-1zM55 146h1v27h-1zM61 146h1v27h-1zM64 146h1v27h-1zM67 146h1v27h-1zM69 146h1v27h-1zM72 146h1v27h-1zM74 146h2v27h-2zM110 146h1v27h-1zM112 146h2v27h-2zM115 146h1v27h-1zM119 146h1v27h-1zM57 173h1v27h-1zM64 173h1v27h-1zM54 200h1v26h-1zM59 200h1v26h-1zM61 200h1v26h-1zM63 200h5v26h-5zM109 200h1v26h-1zM113 200h2v26h-2zM106 226h1v26h-1zM112 226h1v26h-1zM114 226h1v26h-1zM119 226h1v26h-1zM104 252h1v25h-1zM106 252h1v25h-1zM113 252h2v25h-2zM117 252h1v25h-1zM102 277h1v23h-1zM112 277h1v23h-1zM106 300h1v18h-1zM113 300h2v18h-2zM99 318h1v16h-1zM104 318h2v16h-2zM100 334h1v18h-1zM102 334h2v18h-2zM105 334h1v18h-1zM108 334h2v18h-2zM111 334h1v18h-1zM119 334h1v18h-1zM102 352h1v18h-1zM105 352h1v18h-1zM109 352h2v18h-2zM116 352h2v18h-2zM106 370h3v17h-3zM111 370h1v17h-1zM104 387h1v20h-1zM112 387h1v20h-1zM108 407h1v19h-1zM111 407h1v19h-1zM116 407h1v19h-1zM105 445h1v17h-1z"/><path fill="#f3f5f6" d="M51 74h1v32h-1zM53 74h2v32h-2zM67 74h1v32h-1zM114 74h2v32h-2zM117 74h1v32h-1zM58 106h2v20h-2zM62 106h4v20h-4zM115 106h1v20h-1zM56 126h1v20h-1zM59 126h1v20h-1zM64 126h1v20h-1zM75 126h1v20h-1zM110 126h1v20h-1zM115 126h1v20h-1zM119 126h1v20h-1zM60 146h1v27h-1zM70 146h1v27h-1zM73 146h1v27h-1zM104 146h2v27h-2zM108 146h2v27h-2zM111 146h1v27h-1zM114 146h1v27h-1zM116 146h1v27h-1zM58 173h1v27h-1zM66 173h1v27h-1zM89 173h2v27h-2zM105 173h3v27h-3zM110 173h2v27h-2zM114 173h1v27h-1zM117 173h1v27h-1zM105 200h4v26h-4zM110 200h1v26h-1zM112 200h1v26h-1zM116 200h1v26h-1zM61 226h1v26h-1zM94 226h1v26h-1zM102 226h2v26h-2zM105 226h1v26h-1zM109 226h3v26h-3zM113 226h1v26h-1zM116 226h1v26h-1zM96 252h1v25h-1zM103 252h1v25h-1zM107 252h2v25h-2zM110 252h2v25h-2zM116 252h1v25h-1zM100 277h1v23h-1zM103 277h2v23h-2zM106 277h3v23h-3zM114 277h2v23h-2zM101 300h2v18h-2zM104 300h2v18h-2zM107 300h3v18h-3zM102 318h1v16h-1zM108 318h1v16h-1zM111 318h2v16h-2zM101 334h1v18h-1zM106 334h1v18h-1zM110 334h1v18h-1zM113 334h1v18h-1zM116 334h1v18h-1zM104 352h1v18h-1zM108 352h1v18h-1zM103 370h1v17h-1zM110 370h1v17h-1z"/><path fill="#f8f4f2" d="M56 74h1v32h-1zM62 74h1v32h-1zM64 74h1v32h-1zM106 74h2v32h-2zM109 74h4v32h-4zM116 74h1v32h-1zM119 74h1v32h-1zM61 106h1v20h-1zM66 106h2v20h-2zM71 106h1v20h-1zM109 106h1v20h-1zM112 106h2v20h-2zM116 106h1v20h-1zM58 126h1v20h-1zM63 126h1v20h-1zM66 126h3v20h-3zM105 126h1v20h-1zM109 126h1v20h-1zM112 126h1v20h-1zM114 126h1v20h-1zM68 146h1v27h-1zM71 146h1v27h-1zM112 173h1v27h-1zM116 173h1v27h-1zM111 200h1v26h-1zM104 226h1v26h-1zM107 226h1v26h-1zM105 252h1v25h-1zM98 277h1v23h-1zM109 277h3v23h-3zM100 300h1v18h-1zM103 300h1v18h-1zM110 300h1v18h-1zM100 318h2v16h-2zM107 318h1v16h-1zM110 318h1v16h-1zM107 334h1v18h-1zM101 352h1v18h-1z"/><path fill="#f9eee8" d="M60 74h2v32h-2zM63 74h1v32h-1zM65 74h2v32h-2zM70 74h1v32h-1zM78 74h1v32h-1zM113 74h1v32h-1zM60 106h1v20h-1zM68 106h3v20h-3zM75 106h1v20h-1zM107 106h2v20h-2zM110 106h2v20h-2zM70 126h1v20h-1zM72 126h1v20h-1zM74 126h1v20h-1zM76 126h2v20h-2zM101 126h1v20h-1zM106 126h1v20h-1zM108 126h1v20h-1zM111 126h1v20h-1zM113 126h1v20h-1zM99 146h1v27h-1zM102 146h2v27h-2zM106 146h2v27h-2zM91 173h1v27h-1zM103 173h1v27h-1zM108 173h1v27h-1zM91 200h2v26h-2zM102 200h3v26h-3zM95 226h1v26h-1zM98 252h1v25h-1zM102 252h1v25h-1zM97 277h1v23h-1zM99 277h1v23h-1zM101 277h1v23h-1zM105 277h1v23h-1zM99 300h1v18h-1zM103 318h1v16h-1zM102 370h1v17h-1z"/><path fill="#fae8dd" d="M68 74h1v32h-1zM80 74h1v32h-1zM88 74h1v32h-1zM101 74h1v32h-1zM105 74h1v32h-1zM108 74h1v32h-1zM72 106h1v20h-1zM74 106h1v20h-1zM78 106h1v20h-1zM80 106h1v20h-1zM102 106h1v20h-1zM104 106h1v20h-1zM114 106h1v20h-1zM69 126h1v20h-1zM71 126h1v20h-1zM73 126h1v20h-1zM78 126h2v20h-2zM85 126h1v20h-1zM95 126h1v20h-1zM99 126h1v20h-1zM85 146h2v27h-2zM100 146h1v27h-1zM104 173h1v27h-1zM109 173h1v27h-1zM93 200h2v26h-2zM101 200h1v26h-1zM96 226h1v26h-1zM98 226h2v26h-2zM101 252h1v25h-1z"/><path fill="#fbe2d3" d="M71 74h2v32h-2zM74 74h4v32h-4zM83 74h1v32h-1zM87 74h1v32h-1zM92 74h1v32h-1zM94 74h1v32h-1zM102 74h3v32h-3zM73 106h1v20h-1zM76 106h1v20h-1zM79 106h1v20h-1zM90 106h1v20h-1zM92 106h1v20h-1zM94 106h1v20h-1zM99 106h3v20h-3zM105 106h1v20h-1zM84 126h1v20h-1zM91 126h1v20h-1zM94 126h1v20h-1zM96 126h1v20h-1zM100 126h1v20h-1zM104 126h1v20h-1zM87 146h1v27h-1zM98 146h1v27h-1zM92 173h1v27h-1zM95 173h2v27h-2zM99 173h1v27h-1zM101 173h1v27h-1zM96 200h1v26h-1zM98 200h1v26h-1zM97 226h1v26h-1zM101 226h1v26h-1zM99 252h1v25h-1z"/><path fill="#fddcc9" d="M69 74h1v32h-1zM84 74h1v32h-1zM86 74h1v32h-1zM89 74h3v32h-3zM95 74h4v32h-4zM100 74h1v32h-1zM77 106h1v20h-1zM81 106h3v20h-3zM87 106h1v20h-1zM89 106h1v20h-1zM95 106h1v20h-1zM98 106h1v20h-1zM103 106h1v20h-1zM80 126h4v20h-4zM86 126h1v20h-1zM88 126h1v20h-1zM92 126h1v20h-1zM97 126h1v20h-1zM102 126h2v20h-2zM88 146h1v27h-1zM91 146h1v27h-1zM94 146h1v27h-1zM96 146h2v27h-2zM101 146h1v27h-1zM94 173h1v27h-1zM100 173h1v27h-1zM102 173h1v27h-1zM97 200h1v26h-1zM99 200h2v26h-2zM100 226h1v26h-1zM97 252h1v25h-1zM100 252h1v25h-1z"/><path fill="#fbd2bb" d="M73 74h1v32h-1zM79 74h1v32h-1zM81 74h2v32h-2zM93 74h1v32h-1zM99 74h1v32h-1zM84 106h3v20h-3zM88 106h1v20h-1zM96 106h2v20h-2zM87 126h1v20h-1zM89 126h2v20h-2zM98 126h1v20h-1zM90 146h1v27h-1zM92 146h2v27h-2zM97 173h2v27h-2zM95 200h1v26h-1z"/><path fill="#fac6ad" d="M85 74h1v32h-1zM91 106h1v20h-1zM93 106h1v20h-1zM93 126h1v20h-1zM89 146h1v27h-1zM95 146h1v27h-1zM93 173h1v27h-1z"/></g>

<rect x="1554.2" y="74.8" width="584" height="445.5" fill="none" stroke="#000" stroke-width="1.6"/>
<path d="M1554.3 520.3v8M1748.8 520.3v8M1943.3 520.3v8M2137.8 520.3v8M1651.55 520.3v4.2M1846.05 520.3v4.2M2040.55 520.3v4.2M1554.2 450.7h-8M1554.2 370.35h-8M1554.2 290h-8M1554.2 209.65h-8M1554.2 129.3h-8M1554.2 490.88h-4.2M1554.2 410.52h-4.2M1554.2 330.18h-4.2M1554.2 249.83h-4.2M1554.2 169.48h-4.2M1554.2 89.13h-4.2" stroke="#000" stroke-width="1.6" fill="none"/>
<text x="1554.3" y="555.6" text-anchor="middle" font-size="29.2">-1.2</text>
<text x="1748.8" y="555.6" text-anchor="middle" font-size="29.2">-1.0</text>
<text x="1943.3" y="555.6" text-anchor="middle" font-size="29.2">-0.8</text>
<text x="2137.8" y="555.6" text-anchor="middle" font-size="29.2">-0.6</text>
<text x="1541.7" y="460.3" text-anchor="end" font-size="29.2">50</text>
<text x="1541.7" y="379.95" text-anchor="end" font-size="29.2">100</text>
<text x="1541.7" y="299.6" text-anchor="end" font-size="29.2">150</text>
<text x="1541.7" y="219.25" text-anchor="end" font-size="29.2">200</text>
<text x="1541.7" y="138.9" text-anchor="end" font-size="29.2">250</text>
<text x="1846.7" y="587.6" text-anchor="middle" font-size="29.2"><tspan font-style="italic">n</tspan> (10<tspan font-size="18.5" dy="-11">12</tspan><tspan dy="11"> cm</tspan><tspan font-size="18.5" dy="-11">-2</tspan><tspan dy="11">)</tspan></text>
<text transform="translate(1481 297.55) rotate(-90)" text-anchor="middle" font-size="29.2"><tspan font-style="italic">T</tspan> (mK)</text>
<text x="1474" y="44.5" font-size="27" font-weight="bold">c</text>
<rect x="1993" y="36.6" width="123.4" height="22" fill="url(#cb)" stroke="#000" stroke-width="1.6"/>
<text x="1993" y="28.5" text-anchor="middle" font-size="29.2">0</text>
<text x="2116.4" y="28.5" text-anchor="middle" font-size="29.2">200</text>
<text x="1986.5" y="57.7" text-anchor="end" font-size="29.2"><tspan font-style="italic">R</tspan><tspan font-style="italic" font-size="20.5" dy="8.4">xx</tspan><tspan dy="-8.4"> (</tspan><tspan font-family='"Liberation Serif", "Times New Roman", serif' font-size="33.5">Ω</tspan>)</text>
<text x="1565.2" y="111.4" font-size="29.8" font-weight="bold"><tspan font-style="italic">D</tspan> = -0.17 V/nm</text>
</g>
<g id="panel-d">
<g shape-rendering="crispEdges" fill="none" stroke-width="1.06" transform="translate(120.50 689.90) scale(7.1469 7.2082)"><path stroke="#264f8f" d="M42 24h1M42 25h1M36 29h1M35 30h1M35 32h1"/><path stroke="#2d5da0" d="M56 15h1M53 16h2M53 17h1M47 20h1M46 21h2M44 23h2M43 24h3M47 24h1M41 25h1M44 25h1M38 26h5M36 27h5M42 27h2M35 28h4M40 28h1M42 28h1M35 29h1M38 29h1M31 30h1M36 30h1M34 31h1M36 31h1M29 32h3M30 33h4M36 33h1M30 34h1M35 34h1M26 35h1M28 35h2M30 36h1M20 37h1M24 37h1M28 38h1M20 39h2M24 39h1M22 42h1M19 43h1M22 43h1"/><path stroke="#346aae" d="M55 15h1M57 15h1M55 16h1M52 17h1M54 17h2M50 18h5M49 19h3M49 20h4M45 21h1M48 21h3M43 22h4M48 22h3M42 23h2M46 23h3M41 24h1M46 24h1M48 24h1M39 25h2M43 25h1M45 25h2M36 26h2M43 26h2M41 27h1M44 27h2M32 28h3M39 28h1M41 28h1M31 29h2M34 29h1M37 29h1M39 29h1M41 29h2M30 30h1M32 30h3M37 30h4M28 31h6M35 31h1M37 31h1M39 31h1M26 32h3M32 32h3M36 32h1M24 33h2M27 33h2M34 33h2M25 34h1M28 34h1M31 34h4M21 35h1M25 35h1M27 35h1M30 35h2M20 36h1M22 36h4M27 36h3M31 36h2M18 37h1M22 37h2M25 37h3M29 37h3M18 38h1M23 38h1M25 38h3M29 38h1M17 39h1M22 39h1M27 39h1M17 40h1M19 40h2M22 40h3M27 40h1M18 41h1M20 41h4M25 41h1M18 42h1M20 42h2M18 43h1M23 43h1M18 44h1M22 44h1M19 46h2"/><path stroke="#3a74b3" d="M57 14h2M56 16h1M51 17h1M48 19h1M52 19h2M46 20h1M48 20h1M51 21h1M47 22h1M41 23h1M49 23h1M40 24h1M38 25h1M47 25h1M45 26h2M34 27h1M43 28h2M30 29h1M33 29h1M40 29h1M43 29h1M29 30h1M41 30h1M27 31h1M38 31h1M25 32h1M37 32h2M26 33h1M29 33h1M23 34h2M27 34h1M29 34h1M22 35h3M32 35h3M19 36h1M21 36h1M26 36h1M19 37h1M21 37h1M28 37h1M17 38h1M19 38h4M24 38h1M30 38h1M18 39h1M23 39h1M25 39h2M28 39h2M18 40h1M21 40h1M25 40h2M17 41h1M19 41h1M24 41h1M26 41h1M17 42h1M19 42h1M23 42h2M20 43h2M19 44h3M18 45h4"/><path stroke="#407eb9" d="M58 13h2M56 14h1M54 15h1M49 18h1M44 21h1M39 24h1M33 27h1M35 27h1M28 30h1M26 31h1M40 31h1M23 33h1M22 34h1M26 34h1M20 35h1M33 36h1M19 39h1M28 40h1M25 42h1M17 43h1M24 43h1M19 47h2"/><path stroke="#4688be" d="M60 12h1M58 15h1M52 16h1M47 19h1M42 22h1M51 22h1M49 24h1M37 25h1M48 25h1M35 26h1M31 28h1M29 29h1M42 30h1M39 32h1M37 33h1M18 36h1M16 40h1M16 41h1M27 41h1M23 44h1"/><path stroke="#4c92c4" d="M57 13h1M55 14h1M57 16h1M56 17h1M55 18h1M45 20h1M53 20h1M52 21h1M50 23h1M27 30h1M24 32h1M21 34h1M36 34h1M35 35h1M17 37h1M32 37h1M16 39h1M26 42h1M21 46h1M80 58h1"/><path stroke="#579cc9" d="M61 11h1M59 12h1M60 13h1M59 14h1M50 17h1M54 19h1M40 23h1M47 26h1M46 27h1M45 28h1M43 30h1M41 31h1M19 35h1M71 36h1M31 38h1M30 39h1M79 41h1M65 42h2M78 42h1M17 44h1M55 44h1M22 45h1M37 45h1M40 45h1M50 45h1M18 46h1M58 46h1M67 46h1M77 46h1M80 46h1M62 47h1M76 47h2M79 47h1M48 48h1M54 48h1M71 48h1M73 48h1M75 48h1M79 48h2M77 49h1M38 50h1M71 50h1M76 50h2M71 51h1M73 51h1M78 51h1M79 52h1M55 53h1M64 53h1M76 53h1M79 53h1M32 54h1M75 54h1M61 55h1M69 55h1M72 55h1M79 55h1M65 56h1M73 56h1M66 57h1M68 57h1M71 57h2M76 57h1M31 58h1M55 58h1M62 58h1M64 58h1M69 58h1M74 59h1M58 60h1M67 60h1M73 60h1M79 60h1"/><path stroke="#65a6ce" d="M38 24h1M49 25h1M34 26h1M32 27h1M44 29h1M67 31h1M77 31h1M70 32h1M79 32h1M38 33h1M74 33h1M37 34h1M72 34h1M74 34h1M76 34h1M42 35h1M67 35h1M74 35h1M77 35h1M80 35h1M34 36h1M39 36h1M52 36h1M73 36h1M76 36h1M78 36h2M59 37h1M62 37h1M74 37h1M78 37h3M44 38h1M58 38h1M61 38h1M63 38h1M67 38h2M77 38h1M79 38h2M49 39h1M53 39h1M65 39h1M72 39h1M79 39h2M29 40h1M49 40h1M53 40h1M58 40h1M63 40h1M65 40h1M67 40h1M69 40h1M75 40h1M78 40h3M33 41h1M41 41h1M43 41h1M47 41h1M55 41h1M58 41h1M61 41h1M64 41h1M66 41h2M72 41h2M75 41h1M78 41h1M80 41h1M30 42h1M38 42h1M45 42h1M51 42h1M54 42h1M62 42h1M64 42h1M67 42h1M69 42h2M72 42h2M76 42h1M79 42h1M25 43h1M29 43h1M31 43h1M34 43h2M47 43h1M51 43h1M53 43h1M57 43h1M60 43h2M65 43h1M68 43h1M72 43h2M77 43h4M24 44h1M26 44h1M33 44h1M40 44h1M48 44h1M51 44h3M57 44h2M61 44h1M72 44h1M74 44h3M78 44h3M32 45h1M38 45h2M41 45h1M46 45h2M49 45h1M55 45h1M61 45h3M65 45h1M70 45h2M73 45h1M75 45h2M78 45h1M80 45h1M23 46h4M30 46h2M33 46h1M35 46h1M39 46h1M42 46h1M47 46h3M52 46h1M55 46h1M59 46h3M63 46h4M68 46h1M70 46h1M72 46h3M78 46h2M23 47h1M36 47h1M38 47h1M44 47h1M49 47h1M53 47h2M58 47h3M64 47h2M67 47h1M69 47h1M71 47h4M80 47h1M23 48h2M36 48h2M44 48h1M49 48h1M51 48h3M56 48h2M59 48h1M61 48h6M68 48h1M74 48h1M77 48h2M24 49h1M26 49h2M30 49h1M39 49h1M41 49h1M45 49h3M50 49h1M52 49h2M56 49h1M58 49h2M63 49h1M65 49h2M68 49h2M71 49h1M73 49h3M78 49h2M24 50h2M27 50h1M29 50h4M34 50h2M42 50h2M45 50h1M49 50h1M51 50h1M54 50h1M56 50h1M58 50h3M62 50h1M64 50h3M68 50h3M72 50h4M78 50h2M25 51h1M28 51h1M31 51h1M33 51h2M40 51h1M42 51h1M44 51h2M47 51h1M51 51h1M61 51h2M67 51h2M72 51h1M75 51h1M77 51h1M79 51h2M25 52h2M29 52h1M33 52h2M37 52h1M41 52h1M43 52h1M45 52h1M54 52h1M58 52h3M63 52h1M65 52h12M78 52h1M80 52h1M24 53h2M28 53h1M30 53h1M34 53h3M40 53h1M47 53h1M56 53h1M60 53h1M62 53h1M66 53h2M69 53h5M75 53h1M78 53h1M80 53h1M24 54h1M28 54h1M30 54h1M39 54h2M42 54h4M49 54h4M61 54h1M64 54h2M67 54h7M76 54h1M80 54h1M26 55h2M31 55h2M35 55h1M38 55h1M51 55h2M55 55h1M57 55h2M62 55h1M64 55h1M68 55h1M70 55h2M73 55h1M75 55h2M78 55h1M80 55h1M28 56h1M30 56h2M34 56h1M36 56h1M40 56h1M43 56h1M48 56h2M52 56h1M57 56h3M61 56h1M64 56h1M66 56h3M70 56h1M75 56h2M78 56h3M29 57h1M32 57h2M36 57h1M42 57h1M45 57h1M47 57h1M53 57h1M55 57h3M59 57h4M64 57h1M67 57h1M69 57h2M73 57h1M77 57h3M24 58h1M29 58h2M32 58h2M35 58h1M37 58h1M42 58h1M47 58h3M51 58h1M56 58h1M58 58h1M61 58h1M65 58h1M71 58h7M4 59h1M25 59h1M30 59h2M35 59h2M45 59h1M47 59h2M51 59h8M60 59h3M65 59h2M69 59h1M73 59h1M75 59h1M77 59h2M25 60h1M27 60h1M31 60h1M35 60h1M38 60h3M42 60h1M47 60h1M50 60h1M53 60h3M57 60h1M59 60h3M64 60h2M68 60h2M75 60h1M77 60h2M80 60h1"/><path stroke="#74b0d3" d="M62 11h1M58 12h1M66 14h1M69 14h1M53 15h1M59 15h1M80 15h1M79 17h1M48 18h1M79 18h1M59 20h1M80 20h1M43 21h1M72 21h2M52 22h1M58 22h1M80 22h1M56 23h1M69 23h1M72 23h1M80 23h1M55 24h1M62 24h1M66 24h1M68 24h1M73 24h2M78 24h2M54 25h1M57 25h1M62 25h1M69 25h2M77 25h1M50 26h1M59 26h1M65 26h1M73 26h1M69 27h2M76 27h1M30 28h1M56 28h1M61 28h1M65 28h1M68 28h1M73 28h2M79 28h2M52 29h1M62 29h3M69 29h1M72 29h1M75 29h1M77 29h2M80 29h1M44 30h2M50 30h1M52 30h1M56 30h1M60 30h2M68 30h1M71 30h1M74 30h4M79 30h2M50 31h2M56 31h1M59 31h1M69 31h3M74 31h2M79 31h2M40 32h1M46 32h2M49 32h6M56 32h1M59 32h1M61 32h1M63 32h1M68 32h1M71 32h3M76 32h1M78 32h1M80 32h1M46 33h1M50 33h1M53 33h1M58 33h1M60 33h1M62 33h2M68 33h1M70 33h4M76 33h1M78 33h1M80 33h1M43 34h2M46 34h1M48 34h1M50 34h1M52 34h5M65 34h1M67 34h1M69 34h3M73 34h1M75 34h1M77 34h1M80 34h1M44 35h1M51 35h1M54 35h1M61 35h3M66 35h1M68 35h2M71 35h1M73 35h1M75 35h2M78 35h2M37 36h1M40 36h3M44 36h1M46 36h2M53 36h2M56 36h7M64 36h7M72 36h1M74 36h2M77 36h1M80 36h1M33 37h2M36 37h2M39 37h4M50 37h1M53 37h1M55 37h2M60 37h2M67 37h2M70 37h4M75 37h1M34 38h2M38 38h2M41 38h1M47 38h1M49 38h3M53 38h1M56 38h2M59 38h2M62 38h1M64 38h2M69 38h1M71 38h1M73 38h4M32 39h4M38 39h6M47 39h2M54 39h1M58 39h5M64 39h1M66 39h2M69 39h3M73 39h1M75 39h1M77 39h2M31 40h3M35 40h2M38 40h1M40 40h1M43 40h2M46 40h2M50 40h1M52 40h1M55 40h3M60 40h2M66 40h1M68 40h1M70 40h1M72 40h3M76 40h2M28 41h1M30 41h1M32 41h1M34 41h4M39 41h2M42 41h1M44 41h3M49 41h1M52 41h3M56 41h2M60 41h1M62 41h2M65 41h1M69 41h2M74 41h1M76 41h2M16 42h1M32 42h2M35 42h1M41 42h4M46 42h5M52 42h2M55 42h4M60 42h2M63 42h1M68 42h1M71 42h1M74 42h2M27 43h2M30 43h1M36 43h1M39 43h1M42 43h2M45 43h2M48 43h1M50 43h1M52 43h1M54 43h3M58 43h2M62 43h1M64 43h1M66 43h2M69 43h3M74 43h3M27 44h6M34 44h3M38 44h2M41 44h6M49 44h2M54 44h1M56 44h1M59 44h2M62 44h6M69 44h2M73 44h1M77 44h1M23 45h1M25 45h2M28 45h1M30 45h2M34 45h1M36 45h1M42 45h2M45 45h1M48 45h1M51 45h4M56 45h4M64 45h1M66 45h4M72 45h1M74 45h1M77 45h1M79 45h1M22 46h1M27 46h1M29 46h1M32 46h1M34 46h1M36 46h3M40 46h2M43 46h4M50 46h2M53 46h2M56 46h1M62 46h1M69 46h1M71 46h1M75 46h2M24 47h5M30 47h3M34 47h2M39 47h1M41 47h3M45 47h4M50 47h3M55 47h1M61 47h1M63 47h1M66 47h1M68 47h1M70 47h1M75 47h1M78 47h1M20 48h3M25 48h11M38 48h6M45 48h3M50 48h1M55 48h1M58 48h1M60 48h1M67 48h1M69 48h2M76 48h1M22 49h2M25 49h1M28 49h2M32 49h5M38 49h1M42 49h2M51 49h1M54 49h2M57 49h1M60 49h3M67 49h1M70 49h1M72 49h1M76 49h1M80 49h1M22 50h2M26 50h1M28 50h1M36 50h2M39 50h3M44 50h1M46 50h3M50 50h1M52 50h2M55 50h1M57 50h1M61 50h1M63 50h1M67 50h1M80 50h1M22 51h3M26 51h2M29 51h1M32 51h1M35 51h1M37 51h1M41 51h1M43 51h1M46 51h1M48 51h3M52 51h9M63 51h1M65 51h2M69 51h2M74 51h1M76 51h1M22 52h3M28 52h1M31 52h2M35 52h2M38 52h3M42 52h1M46 52h3M50 52h4M55 52h2M61 52h2M64 52h1M77 52h1M5 53h1M22 53h2M26 53h1M32 53h1M37 53h3M41 53h6M48 53h1M51 53h4M57 53h3M61 53h1M63 53h1M65 53h1M68 53h1M74 53h1M77 53h1M23 54h1M25 54h3M29 54h1M33 54h6M46 54h3M53 54h1M55 54h6M62 54h2M66 54h1M78 54h2M0 55h1M23 55h2M28 55h3M33 55h2M36 55h2M39 55h6M46 55h5M53 55h2M56 55h1M59 55h2M63 55h1M65 55h3M74 55h1M77 55h1M23 56h1M25 56h3M29 56h1M32 56h2M35 56h1M37 56h3M41 56h2M44 56h2M47 56h1M50 56h2M53 56h1M55 56h2M60 56h1M62 56h2M69 56h1M71 56h1M74 56h1M77 56h1M6 57h1M25 57h3M30 57h2M34 57h2M37 57h1M39 57h2M43 57h2M46 57h1M48 57h2M51 57h2M54 57h1M58 57h1M63 57h1M74 57h2M25 58h1M27 58h2M34 58h1M36 58h1M38 58h1M40 58h2M43 58h2M46 58h1M50 58h1M52 58h3M57 58h1M59 58h2M63 58h1M66 58h3M78 58h2M2 59h1M12 59h1M24 59h1M26 59h4M32 59h3M37 59h8M46 59h1M49 59h2M59 59h1M63 59h2M67 59h2M70 59h3M76 59h1M79 59h2M0 60h1M2 60h3M9 60h1M12 60h1M24 60h1M28 60h2M32 60h3M36 60h2M41 60h1M44 60h3M48 60h2M52 60h1M56 60h1M62 60h2M66 60h1M70 60h3M74 60h1M76 60h1"/><path stroke="#82bad8" d="M68 9h1M72 10h1M75 10h1M70 11h1M72 11h1M69 12h1M73 12h1M78 12h1M60 14h1M68 14h1M71 14h1M77 14h1M79 14h1M61 15h1M65 15h1M67 15h1M71 15h2M75 15h1M78 15h1M58 16h1M61 16h1M63 16h2M70 16h1M73 16h1M76 16h1M58 17h1M61 17h1M63 17h2M67 17h1M69 17h4M74 17h2M77 17h2M80 17h1M58 18h1M66 18h1M69 18h2M73 18h1M75 18h3M58 19h1M61 19h4M67 19h1M69 19h1M71 19h2M74 19h1M76 19h2M79 19h1M54 20h1M56 20h2M60 20h2M64 20h3M68 20h2M71 20h2M77 20h2M53 21h1M55 21h2M58 21h1M60 21h4M65 21h2M70 21h1M74 21h7M53 22h2M60 22h1M63 22h3M67 22h4M73 22h2M77 22h1M79 22h1M51 23h1M53 23h3M59 23h3M63 23h1M67 23h2M70 23h1M73 23h6M51 24h2M54 24h1M56 24h2M60 24h2M63 24h1M65 24h1M67 24h1M69 24h4M75 24h3M80 24h1M36 25h1M51 25h1M56 25h1M58 25h4M64 25h3M68 25h1M71 25h4M76 25h1M79 25h2M48 26h1M52 26h1M54 26h1M57 26h2M60 26h2M63 26h2M66 26h6M74 26h7M47 27h4M53 27h3M57 27h1M60 27h2M64 27h1M67 27h2M72 27h4M77 27h4M48 28h1M50 28h6M57 28h4M62 28h3M66 28h2M69 28h4M76 28h3M28 29h1M45 29h2M49 29h1M51 29h1M53 29h4M58 29h2M61 29h1M65 29h1M67 29h1M70 29h2M73 29h2M76 29h1M79 29h1M46 30h1M48 30h2M51 30h1M53 30h3M57 30h3M62 30h2M65 30h3M69 30h2M72 30h2M42 31h2M45 31h1M47 31h3M52 31h4M57 31h2M60 31h7M68 31h1M72 31h2M76 31h1M42 32h4M48 32h1M55 32h1M57 32h1M60 32h1M62 32h1M64 32h1M66 32h2M74 32h2M77 32h1M22 33h1M39 33h6M47 33h3M51 33h2M54 33h4M59 33h1M61 33h1M64 33h2M67 33h1M69 33h1M75 33h1M77 33h1M79 33h1M38 34h2M41 34h1M47 34h1M51 34h1M58 34h1M60 34h5M66 34h1M68 34h1M78 34h2M36 35h1M38 35h1M40 35h2M45 35h6M52 35h2M55 35h6M64 35h2M70 35h1M72 35h1M35 36h1M38 36h1M43 36h1M45 36h1M48 36h4M55 36h1M63 36h1M35 37h1M44 37h6M51 37h2M54 37h1M57 37h2M63 37h4M69 37h1M76 37h2M32 38h2M36 38h2M40 38h1M42 38h2M45 38h2M48 38h1M54 38h2M66 38h1M70 38h1M72 38h1M78 38h1M36 39h2M44 39h3M50 39h3M55 39h3M63 39h1M68 39h1M74 39h1M76 39h1M34 40h1M39 40h1M41 40h2M45 40h1M48 40h1M51 40h1M54 40h1M59 40h1M62 40h1M64 40h1M71 40h1M29 41h1M31 41h1M38 41h1M48 41h1M50 41h2M59 41h1M68 41h1M71 41h1M27 42h3M31 42h1M34 42h1M36 42h2M39 42h1M59 42h1M77 42h1M80 42h1M26 43h1M32 43h2M37 43h2M40 43h2M44 43h1M49 43h1M63 43h1M25 44h1M37 44h1M47 44h1M68 44h1M71 44h1M24 45h1M27 45h1M29 45h1M33 45h1M35 45h1M44 45h1M60 45h1M28 46h1M57 46h1M21 47h2M29 47h1M33 47h1M37 47h1M40 47h1M56 47h2M72 48h1M21 49h1M31 49h1M37 49h1M40 49h1M48 49h2M64 49h1M33 50h1M30 51h1M36 51h1M38 51h2M64 51h1M11 52h1M27 52h1M30 52h1M44 52h1M49 52h1M57 52h1M3 53h1M6 53h1M10 53h1M13 53h1M27 53h1M29 53h1M31 53h1M33 53h1M49 53h2M2 54h1M4 54h2M7 54h1M10 54h1M13 54h1M31 54h1M41 54h1M54 54h1M74 54h1M77 54h1M1 55h2M4 55h1M7 55h3M14 55h1M25 55h1M0 56h1M2 56h3M7 56h1M10 56h2M24 56h1M46 56h1M54 56h1M72 56h1M0 57h3M5 57h1M7 57h1M9 57h1M11 57h3M23 57h2M28 57h1M38 57h1M41 57h1M50 57h1M65 57h1M80 57h1M0 58h2M3 58h7M12 58h1M15 58h1M23 58h1M26 58h1M39 58h1M45 58h1M70 58h1M0 59h2M3 59h1M5 59h2M8 59h1M10 59h2M13 59h2M5 60h4M10 60h1M13 60h3M26 60h1M30 60h1M43 60h1M51 60h1"/><path stroke="#91c4dd" d="M80 4h1M71 5h1M74 5h3M79 5h1M69 6h1M72 6h1M74 6h1M76 6h1M78 6h1M70 7h2M77 7h2M80 7h1M68 8h2M71 8h1M80 8h1M66 9h2M71 9h5M77 9h1M80 9h1M62 10h1M65 10h1M67 10h1M69 10h2M74 10h1M76 10h1M78 10h1M60 11h1M64 11h6M71 11h1M74 11h5M80 11h1M61 12h1M63 12h6M71 12h2M74 12h1M76 12h1M79 12h2M56 13h1M61 13h2M65 13h7M73 13h1M75 13h5M61 14h3M65 14h1M67 14h1M70 14h1M73 14h4M78 14h1M80 14h1M60 15h1M63 15h2M68 15h3M73 15h2M76 15h2M51 16h1M60 16h1M62 16h1M65 16h5M71 16h2M74 16h2M77 16h4M57 17h1M59 17h2M62 17h1M65 17h2M68 17h1M73 17h1M76 17h1M56 18h2M59 18h6M67 18h2M71 18h1M74 18h1M78 18h1M80 18h1M55 19h3M59 19h1M65 19h2M68 19h1M70 19h1M73 19h1M75 19h1M78 19h1M80 19h1M55 20h1M62 20h2M67 20h1M70 20h1M73 20h3M79 20h1M54 21h1M57 21h1M59 21h1M64 21h1M67 21h3M71 21h1M41 22h1M55 22h1M57 22h1M59 22h1M61 22h2M66 22h1M71 22h2M75 22h2M78 22h1M52 23h1M57 23h1M62 23h1M64 23h3M71 23h1M79 23h1M50 24h1M53 24h1M58 24h2M64 24h1M50 25h1M52 25h2M55 25h1M63 25h1M67 25h1M75 25h1M78 25h1M49 26h1M51 26h1M53 26h1M55 26h2M62 26h1M72 26h1M51 27h2M56 27h1M58 27h2M62 27h2M65 27h2M71 27h1M46 28h2M49 28h1M75 28h1M47 29h2M50 29h1M57 29h1M60 29h1M66 29h1M68 29h1M47 30h1M64 30h1M78 30h1M25 31h1M44 31h1M46 31h1M78 31h1M58 32h1M65 32h1M69 32h1M45 33h1M66 33h1M20 34h1M40 34h1M42 34h1M45 34h1M49 34h1M57 34h1M59 34h1M37 35h1M39 35h1M43 35h1M36 36h1M38 37h1M43 37h1M16 38h1M52 38h1M31 39h1M30 40h1M37 40h1M40 42h1M17 45h1M8 47h1M3 48h1M5 48h3M1 49h2M4 49h1M9 49h3M44 49h1M6 50h2M10 50h2M21 50h1M0 51h1M3 51h4M8 51h2M11 51h2M1 52h5M7 52h3M12 52h1M14 52h1M1 53h2M4 53h1M7 53h2M11 53h2M14 53h1M1 54h1M3 54h1M6 54h1M8 54h2M11 54h2M22 54h1M3 55h1M5 55h1M10 55h4M22 55h1M45 55h1M1 56h1M5 56h2M8 56h2M12 56h3M3 57h2M8 57h1M10 57h1M14 57h1M16 57h1M2 58h1M10 58h2M13 58h2M7 59h1M9 59h1M15 59h1M23 59h1M1 60h1M11 60h1M16 60h1M23 60h1"/><path stroke="#9ecbe1" d="M76 0h1M79 0h2M74 1h1M76 1h4M72 2h5M79 2h2M70 3h3M74 3h1M76 3h2M79 3h2M67 4h1M71 4h2M74 4h6M68 5h1M70 5h1M73 5h1M77 5h2M80 5h1M67 6h1M75 6h1M77 6h1M79 6h2M66 7h4M72 7h3M76 7h1M79 7h1M65 8h3M70 8h1M72 8h8M65 9h1M69 9h2M76 9h1M78 9h2M63 10h2M66 10h1M68 10h1M71 10h1M73 10h1M77 10h1M79 10h2M63 11h1M73 11h1M79 11h1M70 12h1M77 12h1M63 13h2M74 13h1M80 13h1M64 14h1M72 14h1M62 15h1M66 15h1M79 15h1M59 16h1M65 18h1M72 18h1M60 19h1M58 20h1M76 20h1M56 22h1M39 23h1M58 23h1M41 32h1M8 46h1M11 46h1M0 47h2M5 47h2M9 47h1M11 47h3M18 47h1M0 48h3M4 48h1M8 48h5M0 49h1M3 49h1M5 49h4M12 49h2M20 49h1M0 50h5M8 50h2M12 50h3M1 51h2M7 51h1M10 51h1M13 51h2M21 51h1M0 52h1M6 52h1M10 52h1M13 52h1M21 52h1M0 53h1M9 53h1M15 53h1M0 54h1M14 54h2M6 55h1M15 55h1M15 56h2M22 56h1M15 57h1M16 58h1M17 59h1M17 60h1"/><path stroke="#abd2e5" d="M65 0h1M67 0h2M71 0h1M73 0h3M77 0h2M69 1h4M75 1h1M80 1h1M66 2h1M68 2h1M77 2h2M66 3h2M73 3h1M78 3h1M63 4h4M68 4h3M73 4h1M64 5h3M69 5h1M72 5h1M65 6h2M68 6h1M70 6h2M73 6h1M64 7h2M75 7h1M63 8h1M62 12h1M75 12h1M72 13h1M49 17h1M46 19h1M26 30h1M16 43h1M9 45h1M0 46h8M9 46h1M2 47h3M7 47h1M10 47h1M13 48h2M19 48h1M14 49h1M5 50h1M20 50h1M15 51h1M20 51h1M15 52h1M16 53h1M21 53h1M16 54h1M21 54h1M16 55h1M17 56h1M17 57h2M22 57h1M17 58h2M22 58h1M16 59h1M18 60h3"/><path stroke="#b9d9e9" d="M62 0h3M66 0h1M69 0h2M72 0h1M60 1h9M73 1h1M60 2h3M65 2h1M67 2h1M69 2h3M62 3h1M65 3h1M68 3h2M75 3h1M59 4h1M62 4h1M67 5h1M61 6h4M62 7h2M62 8h1M64 8h1M63 9h2M61 10h1M59 11h1M57 12h1M54 14h1M52 15h1M47 18h1M44 20h1M33 26h1M31 27h1M23 32h1M7 45h1M11 45h1M13 45h1M10 46h1M12 46h3M15 49h1M15 50h1M16 52h1M17 54h1M17 55h2M18 56h1M19 57h3M20 58h1M18 59h2"/><path stroke="#c6e0ed" d="M56 0h1M59 0h1M61 0h1M57 1h3M55 2h1M57 2h3M63 2h2M58 3h2M61 3h1M63 3h2M56 4h1M58 4h1M60 4h2M60 5h4M57 6h1M60 6h1M59 7h3M60 8h1M61 9h1M42 21h1M37 24h1M35 25h1M21 33h1M18 35h1M10 44h1M12 44h1M1 45h1M3 45h4M8 45h1M10 45h1M12 45h1M14 47h2M15 48h1M18 48h1M16 50h1M18 51h2M18 52h1M20 52h1M20 53h1M18 54h3M21 55h1M19 56h2M19 58h1M20 59h3M21 60h1"/><path stroke="#d3e6f0" d="M51 0h1M53 0h3M57 0h2M60 0h1M48 1h1M51 1h2M54 1h3M51 2h2M56 2h1M53 3h1M55 3h3M60 3h1M54 4h2M57 4h1M53 5h4M59 5h1M52 6h2M55 6h2M59 6h1M49 7h1M54 7h5M45 8h1M53 8h1M55 8h1M57 8h1M61 8h1M57 9h4M62 9h1M60 10h1M55 13h1M50 16h1M45 19h1M40 22h1M29 28h1M17 36h1M15 40h1M11 44h1M13 44h2M0 45h1M2 45h1M14 45h1M16 46h2M16 48h2M16 49h1M19 49h1M18 50h2M16 51h2M17 52h1M19 52h1M17 53h3M19 55h2M21 56h1M21 58h1M22 60h1"/><path stroke="#dbeaf2" d="M48 0h1M52 0h1M47 1h1M50 1h1M53 1h1M49 2h2M53 2h2M45 3h1M50 3h1M52 3h1M54 3h1M50 4h4M48 5h2M51 5h2M57 5h2M45 6h1M54 6h1M58 6h1M47 7h2M50 7h4M42 8h1M46 8h1M54 8h1M56 8h1M58 8h2M48 9h1M50 9h3M54 9h3M43 10h1M49 10h1M52 10h1M55 10h1M57 10h1M59 10h1M54 11h1M58 11h1M51 12h1M54 13h1M53 14h1M48 17h1M28 28h1M27 29h1M24 31h1M19 34h1M15 41h1M15 43h1M3 44h1M6 44h4M15 44h2M15 45h1M15 46h1M16 47h2M17 49h2M17 50h1"/><path stroke="#e3edf3" d="M42 0h1M44 0h1M46 0h2M49 0h2M42 1h1M49 1h1M43 2h2M46 2h2M44 3h1M47 3h2M51 3h1M43 4h2M46 4h4M43 5h5M50 5h1M42 6h2M46 6h1M48 6h4M44 7h3M41 8h1M44 8h1M47 8h6M43 9h5M49 9h1M53 9h1M46 10h3M50 10h2M53 10h2M56 10h1M58 10h1M42 11h12M55 11h3M44 12h2M47 12h4M52 12h1M55 12h2M43 13h2M46 13h2M49 13h1M51 13h3M45 14h1M47 14h2M52 14h1M45 15h1M47 15h1M49 15h1M51 15h1M48 16h1M44 17h3M36 18h1M41 18h1M43 18h1M41 19h2M43 20h1M37 21h1M41 21h1M35 22h1M38 22h1M38 23h1M36 24h1M34 25h1M32 26h1M16 37h1M15 39h1M15 42h1M5 43h2M10 43h1M13 43h2M0 44h3M5 44h1M16 45h1"/><path stroke="#ebf1f5" d="M33 0h1M40 0h1M43 0h1M45 0h1M41 1h1M43 1h4M42 2h1M45 2h1M48 2h1M38 3h2M41 3h2M49 3h1M39 4h1M42 4h1M45 4h1M37 5h1M40 6h2M44 6h1M47 6h1M39 7h4M38 8h1M43 8h1M37 9h1M41 9h2M33 10h1M37 10h1M40 10h3M45 10h1M41 11h1M38 12h3M42 12h2M46 12h1M53 12h2M36 13h1M40 13h1M42 13h1M45 13h1M48 13h1M50 13h1M38 14h2M41 14h3M46 14h1M50 14h2M36 15h1M40 15h4M46 15h1M48 15h1M50 15h1M35 16h1M37 16h2M40 16h1M42 16h1M44 16h2M47 16h1M49 16h1M38 17h2M41 17h3M47 17h1M35 18h1M37 18h3M42 18h1M45 18h2M31 19h1M36 19h1M38 19h1M40 19h1M43 19h2M33 20h6M30 21h3M38 21h3M32 22h1M34 22h1M36 22h2M39 22h1M30 23h2M35 23h1M28 24h4M34 24h2M29 25h2M32 25h2M28 26h3M26 27h1M29 27h2M25 28h1M27 28h1M24 29h2M25 30h1M21 32h2M14 40h1M13 41h2M6 42h1M11 42h1M13 42h2M7 43h3M11 43h2M4 44h1"/><path stroke="#f3f5f6" d="M34 0h1M38 0h2M41 0h1M31 1h1M33 1h1M36 1h1M38 1h2M34 2h1M36 2h6M34 3h1M40 3h1M43 3h1M46 3h1M35 4h2M38 4h1M40 4h2M38 5h5M32 6h1M35 6h1M37 6h1M39 6h1M35 7h1M43 7h1M34 8h4M39 8h2M33 9h4M39 9h2M32 10h1M35 10h2M38 10h2M44 10h1M32 11h2M36 11h2M39 11h2M30 12h2M34 12h2M37 12h1M41 12h1M33 13h1M37 13h3M41 13h1M34 14h2M37 14h1M40 14h1M44 14h1M49 14h1M32 15h4M37 15h1M39 15h1M44 15h1M32 16h3M36 16h1M39 16h1M41 16h1M43 16h1M46 16h1M33 17h1M35 17h3M40 17h1M31 18h3M40 18h1M44 18h1M30 19h1M32 19h2M35 19h1M37 19h1M39 19h1M31 20h2M39 20h4M29 21h1M33 21h4M29 22h3M33 22h1M27 23h2M33 23h2M36 23h2M27 24h1M32 24h2M25 25h1M28 25h1M31 25h1M23 26h2M27 26h1M31 26h1M21 27h1M23 27h1M25 27h1M27 27h1M20 28h3M24 28h1M26 28h1M23 29h1M26 29h1M20 30h2M23 30h2M22 31h1M20 32h1M20 33h1M14 38h2M12 39h1M8 40h1M10 40h1M12 40h2M4 41h5M10 41h2M0 42h2M3 42h3M7 42h2M10 42h1M0 43h5"/><path stroke="#f8f4f2" d="M32 0h1M35 0h1M37 0h1M32 1h1M34 1h2M37 1h1M40 1h1M31 2h3M35 2h1M31 3h3M35 3h3M31 4h4M37 4h1M31 5h6M31 6h1M33 6h2M36 6h1M38 6h1M30 7h3M34 7h1M36 7h3M32 8h2M30 9h3M38 9h1M30 10h2M34 10h1M31 11h1M34 11h2M38 11h1M29 12h1M32 12h2M36 12h1M30 13h3M34 13h2M31 14h1M33 14h1M36 14h1M29 15h3M38 15h1M29 16h1M28 17h5M34 17h1M29 18h2M34 18h1M29 19h1M34 19h1M26 20h1M30 20h1M28 21h1M28 22h1M24 23h3M29 23h1M32 23h1M24 24h3M23 25h2M26 25h2M21 26h1M25 26h2M22 27h1M24 27h1M28 27h1M23 28h1M20 29h3M22 30h1M18 31h1M20 31h2M23 31h1M19 32h1M18 33h2M17 34h2M14 35h4M16 36h1M12 37h4M12 38h2M13 39h2M1 40h1M6 40h1M9 40h1M11 40h1M0 41h1M2 41h2M9 41h1M12 41h1M9 42h1M12 42h1"/><path stroke="#f9eee8" d="M29 0h3M36 0h1M30 5h1M33 7h1M31 8h1M29 11h2M29 13h1M28 14h3M32 14h1M26 15h3M27 16h2M31 16h1M26 17h1M26 18h3M27 19h2M25 20h1M27 20h3M24 21h2M27 21h1M25 22h3M23 23h1M22 24h2M21 25h1M19 26h2M22 26h1M19 27h2M19 28h1M17 29h3M18 30h1M16 31h1M19 31h1M15 32h4M14 33h1M17 33h1M14 34h3M13 35h1M14 36h2M11 37h1M11 38h1M7 39h5M2 40h4M7 40h1M1 41h1M2 42h1"/><path stroke="#fae8dd" d="M30 1h1M29 2h2M28 3h3M29 4h2M29 5h1M29 7h1M29 8h2M29 9h1M28 10h2M28 11h1M27 12h2M27 13h2M26 14h2M30 16h1M27 17h1M25 18h1M23 20h2M21 21h3M26 21h1M20 22h1M22 22h3M19 23h4M18 24h1M20 24h2M19 25h2M22 25h1M17 28h2M16 30h2M19 30h1M15 31h1M17 31h1M13 32h1M15 33h2M13 34h1M11 35h2M9 36h1M12 36h2M10 37h1M7 38h1M10 38h1M5 39h1M0 40h1"/><path stroke="#fbe2d3" d="M27 0h1M28 1h2M27 2h2M28 4h1M28 5h1M28 6h3M28 7h1M27 8h2M27 9h2M26 10h1M27 11h1M25 13h2M25 14h1M25 15h1M24 16h1M26 16h1M25 17h1M23 18h2M21 19h3M25 19h2M20 20h1M20 21h1M19 22h1M21 22h1M18 25h1M17 26h2M17 27h2M13 28h1M16 28h1M16 29h1M15 30h1M14 31h1M14 32h1M11 33h3M10 34h3M9 35h2M7 36h1M10 36h2M6 37h4M5 38h2M8 38h2M0 39h1M2 39h3M6 39h1"/><path stroke="#fddcc9" d="M28 0h1M27 1h1M27 3h1M27 4h1M26 5h2M27 6h1M25 7h2M26 8h1M26 9h1M27 10h1M26 11h1M25 12h2M24 13h1M23 14h2M25 16h1M23 17h1M20 18h1M22 18h1M20 19h1M24 19h1M19 20h1M21 20h2M18 21h2M17 22h2M18 23h1M19 24h1M15 25h3M14 27h3M14 28h2M12 29h1M15 29h1M14 30h1M11 31h3M12 32h1M9 33h1M7 35h2M2 36h1M5 36h2M8 36h1M2 37h2M0 38h1M2 38h3"/><path stroke="#fbd2bb" d="M26 1h1M25 2h1M25 3h1M25 4h2M26 6h1M27 7h1M25 9h1M24 11h2M21 12h1M23 12h1M23 13h1M22 15h3M21 16h3M19 17h4M24 17h1M18 18h1M21 18h1M18 19h2M16 20h2M16 21h1M16 22h1M15 23h1M17 23h1M17 24h1M14 26h3M13 27h1M10 29h2M13 29h2M11 30h3M10 31h1M8 32h4M8 33h1M10 33h1M2 34h1M6 34h2M9 34h1M3 36h1M1 37h1M4 37h2M1 38h1M1 39h1"/><path stroke="#fac6ad" d="M25 0h2M24 1h2M24 2h1M26 2h1M26 3h1M24 4h1M22 5h3M24 6h1M24 7h1M23 8h3M21 9h1M23 9h2M23 10h3M23 11h1M22 12h1M24 12h1M21 13h2M22 14h1M19 15h3M18 16h2M17 17h2M17 18h1M19 18h1M16 19h2M18 20h1M14 21h2M17 21h1M13 22h1M15 22h1M12 23h1M14 24h3M11 25h1M13 25h2M12 26h2M11 28h1M8 30h1M10 30h1M5 31h2M8 31h1M4 32h1M6 32h2M3 33h1M5 33h3M5 34h1M8 34h1M0 35h1M2 35h5M0 36h1M4 36h1"/><path stroke="#f8bb9e" d="M23 0h1M22 2h2M23 3h2M23 4h1M25 5h1M22 6h2M25 6h1M22 7h2M21 8h2M22 9h1M22 10h1M20 11h3M18 13h3M18 14h4M15 16h2M20 16h1M15 18h2M15 19h1M13 20h1M15 20h1M14 22h1M13 23h2M12 24h2M10 25h1M12 25h1M11 27h2M10 28h1M12 28h1M8 29h2M6 30h2M9 30h1M3 31h2M7 31h1M9 31h1M0 32h1M2 32h2M5 32h1M0 33h3M4 33h1M4 34h1M1 35h1M1 36h1M0 37h1"/><path stroke="#f6af8f" d="M20 0h3M24 0h1M22 1h2M20 2h2M21 3h2M20 4h3M20 5h2M19 6h3M21 7h1M20 9h1M18 10h4M17 11h3M17 12h1M19 12h2M16 13h2M15 14h1M17 14h1M15 15h4M14 16h1M17 16h1M13 17h1M15 17h2M12 18h2M12 19h2M11 20h1M14 20h1M11 21h3M10 22h3M9 23h3M16 23h1M8 24h4M8 25h2M7 26h1M9 26h3M5 27h2M9 27h2M6 28h4M4 29h4M2 30h2M5 30h1M2 31h1M0 34h2M3 34h1"/><path stroke="#f3a481" d="M19 0h1M20 1h2M20 3h1M18 4h1M18 5h2M18 6h1M17 7h4M17 8h4M17 9h3M17 10h1M15 11h2M13 12h1M15 12h2M14 13h1M11 14h2M14 14h1M16 14h1M13 15h2M12 16h2M12 17h1M14 17h1M11 18h1M14 18h1M11 19h1M14 19h1M8 20h1M12 20h1M10 21h1M9 22h1M6 23h3M6 24h2M4 25h2M7 25h1M5 26h2M8 26h1M3 27h1M7 27h2M1 28h2M4 28h2M1 29h2M1 30h1M4 30h1M0 31h2M1 32h1"/><path stroke="#ed9576" d="M18 0h1M17 1h3M17 2h3M17 3h3M16 4h2M19 4h1M17 6h1M14 7h2M15 8h1M14 9h3M13 10h1M16 10h1M14 11h1M14 12h1M18 12h1M9 13h1M11 13h3M15 13h1M9 14h1M13 14h1M9 15h2M12 15h1M9 16h3M10 17h2M8 18h3M8 19h2M6 20h1M9 20h2M7 21h3M3 22h2M6 22h3M5 23h1M1 24h2M4 24h2M1 25h1M3 25h1M6 25h1M0 26h1M2 26h3M0 27h3M4 27h1M0 28h1M3 28h1M0 29h1M3 29h1M0 30h1"/><path stroke="#e7866a" d="M16 0h1M15 1h2M15 2h2M16 3h1M15 5h3M13 6h4M13 7h1M16 7h1M13 8h2M16 8h1M11 9h1M13 9h1M10 10h3M14 10h2M10 11h1M13 11h1M9 12h4M8 13h1M10 13h1M11 15h1M6 16h1M8 16h1M6 17h4M7 18h1M3 19h5M10 19h1M4 20h2M7 20h1M3 21h1M6 21h1M2 22h1M5 22h1M1 23h4M0 24h1M3 24h1M0 25h1M2 25h1M1 26h1"/><path stroke="#e0775f" d="M14 0h2M17 0h1M11 3h1M13 3h3M12 4h4M11 5h1M13 5h2M11 6h1M12 7h1M9 8h1M11 8h2M9 9h2M7 10h1M8 11h2M12 11h1M7 13h1M5 14h4M10 14h1M4 15h5M5 16h1M7 16h1M1 17h1M3 17h1M5 17h1M2 18h1M4 18h3M2 19h1M2 20h1M0 21h1M2 21h1M4 21h2M0 22h2M0 23h1"/><path stroke="#da6954" d="M9 0h1M11 0h3M11 1h4M7 2h1M13 2h2M10 3h1M12 3h1M8 4h1M10 4h2M9 5h2M12 5h1M7 6h1M9 6h2M12 6h1M8 7h3M6 8h2M10 8h1M7 9h2M12 9h1M5 10h2M8 10h2M6 11h2M11 11h1M4 12h5M4 13h3M3 14h2M1 15h1M3 15h1M2 16h1M4 16h1M2 17h1M4 17h1M1 18h1M3 18h1M1 19h1M1 20h1M3 20h1M1 21h1"/><path stroke="#d35a4a" d="M8 0h1M10 0h1M6 1h1M8 1h3M8 2h2M11 2h2M7 3h1M9 3h1M7 4h1M9 4h1M6 5h3M6 6h1M8 6h1M5 7h1M7 7h1M11 7h1M4 8h2M8 8h1M5 9h2M3 11h3M3 12h1M1 13h1M3 13h1M1 14h2M0 16h2M3 16h1M0 17h1M0 19h1M0 20h1"/><path stroke="#cb4b43" d="M6 0h2M7 1h1M5 2h2M10 2h1M5 3h2M8 3h1M5 4h2M4 5h2M5 6h1M4 7h1M6 7h1M4 9h1M2 10h1M4 10h1M2 11h1M2 12h1M2 13h1M0 15h1M2 15h1M0 18h1"/><path stroke="#c43b3c" d="M5 0h1M5 1h1M4 6h1M3 8h1M3 9h1M3 10h1M1 11h1M1 12h1M0 14h1"/><path stroke="#bc2c34" d="M4 3h1M4 4h1M3 6h1M2 7h2M2 9h1M1 10h1M0 12h1M0 13h1"/><path stroke="#b41d2d" d="M4 2h1M1 9h1M0 10h1M0 11h1"/><path stroke="#a71429" d="M4 0h1M2 3h1M2 4h2M2 5h2M2 6h1M1 8h2"/><path stroke="#970f27" d="M4 1h1M3 2h1M3 3h1M1 6h1M1 7h1M0 9h1"/><path stroke="#870a24" d="M1 1h1M3 1h1M2 2h1M1 4h1M1 5h1M0 8h1"/><path stroke="#770522" d="M2 0h2M0 1h1M2 1h1M0 2h2M1 3h1M0 4h1M0 5h1M0 7h1"/><path stroke="#67001f" d="M0 0h2M0 3h1M0 6h1"/></g>
<path d="M334.3 825.2H696.5" stroke="#ff2a1c" stroke-width="5" stroke-dasharray="16.8 13.2" stroke-dashoffset="11.8" fill="none"/><path d="M262.9 867.2H624.5" stroke="#ff2a1c" stroke-width="5" stroke-dasharray="16.8 13.2" stroke-dashoffset="11.8" fill="none"/><path d="M190.8 909.8H553.0" stroke="#ff2a1c" stroke-width="5" stroke-dasharray="16.8 13.2" stroke-dashoffset="11.8" fill="none"/><path d="M119.4 952.4H481.0" stroke="#ff2a1c" stroke-width="5" stroke-dasharray="16.8 13.2" stroke-dashoffset="11.8" fill="none"/><path d="M119.4 994.3H481.0" stroke="#ff2a1c" stroke-width="5" stroke-dasharray="16.8 13.2" stroke-dashoffset="11.8" fill="none"/><text x="297.9" y="832.5" font-size="27.5" font-weight="bold" style="fill:#ee2a24" text-anchor="middle">i</text><text x="228.6" y="877.0" font-size="27.5" font-weight="bold" style="fill:#ee2a24" text-anchor="middle">h</text><text x="584.3" y="917.5" font-size="27.5" font-weight="bold" style="fill:#ee2a24" text-anchor="middle">g</text><text x="515.0" y="962.4" font-size="27.5" font-weight="bold" style="fill:#ee2a24" text-anchor="middle">f</text><text x="515.0" y="1004.5" font-size="27.5" font-weight="bold" style="fill:#ee2a24" text-anchor="middle">e</text>
<rect x="120.5" y="686.3" width="578.9" height="439.7" fill="none" stroke="#000" stroke-width="1.6"/>
<path d="M120.6 1126v8M265.25 1126v8M409.9 1126v8M554.55 1126v8M699.2 1126v8M192.93 1126v4.2M337.58 1126v4.2M482.23 1126v4.2M626.88 1126v4.2M120.5 1052.4h-8M120.5 906.2h-8M120.5 760h-8M120.5 1125.5h-4.2M120.5 979.3h-4.2M120.5 833.1h-4.2M120.5 686.9h-4.2" stroke="#000" stroke-width="1.6" fill="none"/>
<text x="120.6" y="1160.3" text-anchor="middle" font-size="29.2">0.3</text>
<text x="265.25" y="1160.3" text-anchor="middle" font-size="29.2">0.4</text>
<text x="409.9" y="1160.3" text-anchor="middle" font-size="29.2">0.5</text>
<text x="554.55" y="1160.3" text-anchor="middle" font-size="29.2">0.6</text>
<text x="699.2" y="1160.3" text-anchor="middle" font-size="29.2">0.7</text>
<text x="108" y="1062" text-anchor="end" font-size="29.2">0.1</text>
<text x="108" y="915.8" text-anchor="end" font-size="29.2">0.2</text>
<text x="108" y="769.6" text-anchor="end" font-size="29.2">0.3</text>
<text x="410.45" y="1192.3" text-anchor="middle" font-size="29.2"><tspan font-style="italic">n</tspan> (10<tspan font-size="18.5" dy="-11">12</tspan><tspan dy="11"> cm</tspan><tspan font-size="18.5" dy="-11">-2</tspan><tspan dy="11">)</tspan></text>
<text transform="translate(43 906.15) rotate(-90)" text-anchor="middle" font-size="29.2"><tspan font-style="italic">D</tspan>/<tspan font-family='"Liberation Serif", "Times New Roman", serif' font-style="italic" font-size="30">ε</tspan><tspan font-size="18.5" font-style="italic" dy="6">0</tspan><tspan dy="-6"> (V/nm)</tspan></text>
<text x="26.5" y="647" font-size="27" font-weight="bold">d</text>
<rect x="555.8" y="648.9" width="122.7" height="21.9" fill="url(#cb)" stroke="#000" stroke-width="1.6"/>
<text x="555.8" y="636.7" text-anchor="middle" font-size="29.2">0</text>
<text x="678.5" y="636.7" text-anchor="middle" font-size="29.2">500</text>
<text x="549.3" y="669.3" text-anchor="end" font-size="29.2"><tspan font-style="italic">R</tspan><tspan font-style="italic" font-size="20.5" dy="8.4">xx</tspan><tspan dy="-8.4"> (</tspan><tspan font-family='"Liberation Serif", "Times New Roman", serif' font-size="33.5">Ω</tspan>)</text>
</g>
<g id="panel-e">
<g shape-rendering="crispEdges" transform="translate(831.50 0) scale(11.8714 1)"><path fill="#4688be" d="M20 1112h2v11h-2z"/><path fill="#4c92c4" d="M21 1048h1v24h-1zM20 1072h1v20h-1zM18 1092h2v20h-2zM18 1112h2v11h-2z"/><path fill="#579cc9" d="M19 997h1v25h-1zM19 1022h3v26h-3zM18 1048h3v24h-3zM18 1072h2v20h-2zM21 1072h1v20h-1zM20 1092h2v20h-2z"/><path fill="#65a6ce" d="M21 997h1v25h-1zM17 1022h2v26h-2zM16 1072h2v20h-2zM16 1112h1v11h-1z"/><path fill="#74b0d3" d="M20 974h1v23h-1zM18 997h1v25h-1zM20 997h1v25h-1zM16 1048h1v24h-1zM16 1092h1v20h-1zM22 1092h1v20h-1zM23 1112h2v11h-2z"/><path fill="#82bad8" d="M17 997h1v25h-1zM22 997h1v25h-1zM16 1022h1v26h-1zM17 1048h1v24h-1zM22 1072h3v20h-3zM23 1092h1v20h-1zM17 1112h1v11h-1zM22 1112h1v11h-1z"/><path fill="#91c4dd" d="M45 743h1v29h-1zM45 772h1v26h-1zM45 823h1v25h-1zM45 848h1v26h-1zM45 874h1v26h-1zM45 900h1v24h-1zM19 924h1v26h-1zM18 974h2v23h-2zM22 1022h2v26h-2zM23 1048h1v24h-1zM24 1092h1v20h-1z"/><path fill="#9ecbe1" d="M40 716h3v27h-3zM45 716h1v27h-1zM37 743h1v29h-1zM39 743h2v29h-2zM42 743h1v29h-1zM47 743h1v29h-1zM46 772h1v26h-1zM37 798h1v25h-1zM40 798h3v25h-3zM45 798h1v25h-1zM47 798h1v25h-1zM39 823h2v25h-2zM42 823h2v25h-2zM47 823h1v25h-1zM39 848h1v26h-1zM41 848h1v26h-1zM43 848h1v26h-1zM47 848h1v26h-1zM18 950h4v24h-4zM45 950h1v24h-1zM16 974h1v23h-1zM16 997h1v25h-1zM22 1048h1v24h-1zM17 1092h1v20h-1zM15 1112h1v11h-1z"/><path fill="#abd2e5" d="M31 716h1v27h-1zM33 716h2v27h-2zM37 716h3v27h-3zM43 716h2v27h-2zM46 716h3v27h-3zM34 743h1v29h-1zM38 743h1v29h-1zM41 743h1v29h-1zM43 743h2v29h-2zM46 743h1v29h-1zM48 743h1v29h-1zM30 772h1v26h-1zM32 772h4v26h-4zM39 772h4v26h-4zM47 772h2v26h-2zM30 798h1v25h-1zM32 798h1v25h-1zM34 798h2v25h-2zM38 798h2v25h-2zM43 798h1v25h-1zM46 798h1v25h-1zM30 823h1v25h-1zM34 823h2v25h-2zM37 823h2v25h-2zM41 823h1v25h-1zM44 823h1v25h-1zM46 823h1v25h-1zM48 823h1v25h-1zM30 848h1v26h-1zM34 848h1v26h-1zM36 848h2v26h-2zM40 848h1v26h-1zM42 848h1v26h-1zM46 848h1v26h-1zM48 848h1v26h-1zM30 874h1v26h-1zM34 874h1v26h-1zM37 874h1v26h-1zM40 874h3v26h-3zM44 874h1v26h-1zM47 874h1v26h-1zM42 900h1v24h-1zM48 900h1v24h-1zM20 924h1v26h-1zM39 924h1v26h-1zM41 924h2v26h-2zM45 924h3v26h-3zM17 950h1v24h-1zM17 974h1v23h-1zM45 974h1v23h-1zM47 974h1v23h-1zM23 997h1v25h-1zM45 997h2v25h-2zM45 1022h1v26h-1zM42 1048h1v24h-1zM45 1048h1v24h-1zM45 1072h1v20h-1zM25 1092h1v20h-1zM40 1092h1v20h-1zM45 1092h1v20h-1zM37 1112h1v11h-1zM45 1112h1v11h-1z"/><path fill="#b9d9e9" d="M30 716h1v27h-1zM32 716h1v27h-1zM35 716h2v27h-2zM29 743h2v29h-2zM32 743h2v29h-2zM35 743h1v29h-1zM29 772h1v26h-1zM31 772h1v26h-1zM36 772h3v26h-3zM43 772h2v26h-2zM31 798h1v25h-1zM33 798h1v25h-1zM36 798h1v25h-1zM44 798h1v25h-1zM48 798h1v25h-1zM31 823h3v25h-3zM36 823h1v25h-1zM31 848h3v26h-3zM35 848h1v26h-1zM38 848h1v26h-1zM44 848h1v26h-1zM31 874h1v26h-1zM33 874h1v26h-1zM35 874h1v26h-1zM38 874h2v26h-2zM43 874h1v26h-1zM46 874h1v26h-1zM48 874h1v26h-1zM30 900h1v24h-1zM33 900h1v24h-1zM35 900h3v24h-3zM39 900h3v24h-3zM43 900h2v24h-2zM46 900h2v24h-2zM21 924h1v26h-1zM33 924h2v26h-2zM37 924h2v26h-2zM40 924h1v26h-1zM44 924h1v26h-1zM48 924h1v26h-1zM30 950h1v24h-1zM37 950h1v24h-1zM39 950h4v24h-4zM44 950h1v24h-1zM46 950h3v24h-3zM21 974h1v23h-1zM34 974h1v23h-1zM37 974h1v23h-1zM40 974h3v23h-3zM46 974h1v23h-1zM24 997h1v25h-1zM36 997h1v25h-1zM39 997h2v25h-2zM42 997h1v25h-1zM47 997h2v25h-2zM24 1022h1v26h-1zM33 1022h1v26h-1zM37 1022h1v26h-1zM41 1022h4v26h-4zM47 1022h2v26h-2zM24 1048h1v24h-1zM34 1048h1v24h-1zM39 1048h1v24h-1zM41 1048h1v24h-1zM47 1048h2v24h-2zM30 1072h1v20h-1zM34 1072h1v20h-1zM39 1072h4v20h-4zM44 1072h1v20h-1zM46 1072h3v20h-3zM26 1092h1v20h-1zM34 1092h1v20h-1zM39 1092h1v20h-1zM41 1092h4v20h-4zM46 1092h2v20h-2zM25 1112h1v11h-1zM32 1112h2v11h-2zM39 1112h2v11h-2zM42 1112h1v11h-1zM44 1112h1v11h-1zM46 1112h3v11h-3z"/><path fill="#c6e0ed" d="M27 716h3v27h-3zM25 743h2v29h-2zM28 743h1v29h-1zM31 743h1v29h-1zM36 743h1v29h-1zM25 772h4v26h-4zM27 798h3v25h-3zM25 823h1v25h-1zM28 823h2v25h-2zM27 848h2v26h-2zM25 874h1v26h-1zM27 874h1v26h-1zM29 874h1v26h-1zM32 874h1v26h-1zM36 874h1v26h-1zM16 900h1v24h-1zM18 900h4v24h-4zM25 900h1v24h-1zM27 900h2v24h-2zM31 900h2v24h-2zM34 900h1v24h-1zM38 900h1v24h-1zM16 924h3v26h-3zM22 924h1v26h-1zM25 924h1v26h-1zM27 924h1v26h-1zM29 924h2v26h-2zM32 924h1v26h-1zM35 924h1v26h-1zM43 924h1v26h-1zM16 950h1v24h-1zM22 950h2v24h-2zM26 950h1v24h-1zM32 950h4v24h-4zM38 950h1v24h-1zM43 950h1v24h-1zM22 974h2v23h-2zM25 974h1v23h-1zM27 974h1v23h-1zM30 974h4v23h-4zM35 974h1v23h-1zM38 974h2v23h-2zM43 974h2v23h-2zM48 974h1v23h-1zM27 997h1v25h-1zM30 997h6v25h-6zM37 997h2v25h-2zM41 997h1v25h-1zM43 997h2v25h-2zM30 1022h3v26h-3zM34 1022h1v26h-1zM36 1022h1v26h-1zM38 1022h3v26h-3zM46 1022h1v26h-1zM28 1048h1v24h-1zM32 1048h2v24h-2zM35 1048h1v24h-1zM37 1048h2v24h-2zM40 1048h1v24h-1zM43 1048h2v24h-2zM46 1048h1v24h-1zM25 1072h1v20h-1zM31 1072h3v20h-3zM35 1072h1v20h-1zM37 1072h2v20h-2zM43 1072h1v20h-1zM29 1092h1v20h-1zM31 1092h3v20h-3zM35 1092h3v20h-3zM48 1092h1v20h-1zM30 1112h2v11h-2zM34 1112h1v11h-1zM38 1112h1v11h-1zM41 1112h1v11h-1zM43 1112h1v11h-1z"/><path fill="#d3e6f0" d="M25 716h2v27h-2zM21 743h1v29h-1zM24 743h1v29h-1zM27 743h1v29h-1zM24 772h1v26h-1zM24 798h3v25h-3zM23 823h1v25h-1zM26 823h2v25h-2zM25 848h2v26h-2zM29 848h1v26h-1zM20 874h2v26h-2zM24 874h1v26h-1zM26 874h1v26h-1zM28 874h1v26h-1zM17 900h1v24h-1zM23 900h2v24h-2zM26 900h1v24h-1zM29 900h1v24h-1zM23 924h1v26h-1zM26 924h1v26h-1zM31 924h1v26h-1zM36 924h1v26h-1zM24 950h2v24h-2zM27 950h3v24h-3zM31 950h1v24h-1zM24 974h1v23h-1zM26 974h1v23h-1zM29 974h1v23h-1zM36 974h1v23h-1zM25 997h2v25h-2zM29 997h1v25h-1zM25 1022h2v26h-2zM29 1022h1v26h-1zM35 1022h1v26h-1zM25 1048h3v24h-3zM29 1048h3v24h-3zM36 1048h1v24h-1zM26 1072h4v20h-4zM36 1072h1v20h-1zM27 1092h2v20h-2zM30 1092h1v20h-1zM38 1092h1v20h-1zM26 1112h2v11h-2zM29 1112h1v11h-1zM35 1112h2v11h-2z"/><path fill="#dbeaf2" d="M20 716h5v27h-5zM19 743h1v29h-1zM20 772h2v26h-2zM23 772h1v26h-1zM21 798h3v25h-3zM20 823h1v25h-1zM22 823h1v25h-1zM24 823h1v25h-1zM21 848h1v26h-1zM23 848h2v26h-2zM17 874h3v26h-3zM23 874h1v26h-1zM24 924h1v26h-1zM28 924h1v26h-1zM36 950h1v24h-1zM28 974h1v23h-1zM28 997h1v25h-1zM27 1022h2v26h-2z"/><path fill="#e3edf3" d="M20 743h1v29h-1zM22 743h2v29h-2zM22 772h1v26h-1zM20 798h1v25h-1zM21 823h1v25h-1zM19 848h2v26h-2zM22 848h1v26h-1zM22 874h1v26h-1zM22 900h1v24h-1zM28 1112h1v11h-1z"/><path fill="#ebf1f5" d="M18 716h2v27h-2zM19 798h1v25h-1zM18 823h2v25h-2zM18 848h1v26h-1z"/><path fill="#f3f5f6" d="M18 743h1v29h-1zM16 772h1v26h-1zM18 772h2v26h-2zM18 798h1v25h-1zM15 924h1v26h-1zM15 974h1v23h-1zM15 1022h1v26h-1zM15 1072h1v20h-1zM15 1092h1v20h-1z"/><path fill="#f8f4f2" d="M14 716h2v27h-2zM14 743h1v29h-1zM16 743h1v29h-1zM15 772h1v26h-1zM17 772h1v26h-1zM15 798h3v25h-3zM14 823h3v25h-3zM16 848h1v26h-1zM14 874h1v26h-1zM16 874h1v26h-1zM15 900h1v24h-1zM14 924h1v26h-1zM14 950h2v24h-2zM14 997h2v25h-2zM14 1048h2v24h-2zM14 1072h1v20h-1z"/><path fill="#f9eee8" d="M6 716h1v27h-1zM10 716h1v27h-1zM16 716h2v27h-2zM13 743h1v29h-1zM15 743h1v29h-1zM17 743h1v29h-1zM10 772h1v26h-1zM13 772h2v26h-2zM5 798h1v25h-1zM11 798h1v25h-1zM13 798h2v25h-2zM5 823h1v25h-1zM7 823h1v25h-1zM17 823h1v25h-1zM13 848h3v26h-3zM17 848h1v26h-1zM10 874h1v26h-1zM13 874h1v26h-1zM15 874h1v26h-1zM7 900h1v24h-1zM13 900h2v24h-2zM13 924h1v26h-1zM5 950h1v24h-1zM10 950h1v24h-1zM13 950h1v24h-1zM5 974h1v23h-1zM13 974h2v23h-2zM10 997h2v25h-2zM13 997h1v25h-1zM5 1022h1v26h-1zM10 1022h1v26h-1zM13 1022h1v26h-1zM13 1048h1v24h-1zM9 1092h2v20h-2zM14 1092h1v20h-1zM10 1112h1v11h-1zM13 1112h2v11h-2z"/><path fill="#fae8dd" d="M3 716h1v27h-1zM7 716h1v27h-1zM9 716h1v27h-1zM11 716h1v27h-1zM13 716h1v27h-1zM3 743h1v29h-1zM5 743h3v29h-3zM9 743h3v29h-3zM3 772h5v26h-5zM11 772h1v26h-1zM6 798h2v25h-2zM10 798h1v25h-1zM6 823h1v25h-1zM9 823h3v25h-3zM13 823h1v25h-1zM3 848h1v26h-1zM5 848h3v26h-3zM10 848h2v26h-2zM3 874h1v26h-1zM5 874h2v26h-2zM9 874h1v26h-1zM11 874h1v26h-1zM3 900h1v24h-1zM5 900h1v24h-1zM10 900h2v24h-2zM3 924h1v26h-1zM5 924h3v26h-3zM9 924h3v26h-3zM6 950h2v24h-2zM1 974h1v23h-1zM3 974h1v23h-1zM6 974h2v23h-2zM9 974h3v23h-3zM3 997h5v25h-5zM12 997h1v25h-1zM2 1022h3v26h-3zM6 1022h2v26h-2zM9 1022h1v26h-1zM12 1022h1v26h-1zM14 1022h1v26h-1zM3 1048h1v24h-1zM5 1048h3v24h-3zM9 1048h3v24h-3zM3 1072h1v20h-1zM5 1072h7v20h-7zM13 1072h1v20h-1zM3 1092h1v20h-1zM5 1092h3v20h-3zM11 1092h3v20h-3zM3 1112h1v11h-1zM5 1112h3v11h-3zM11 1112h1v11h-1z"/><path fill="#fbe2d3" d="M1 716h1v27h-1zM4 716h2v27h-2zM8 716h1v27h-1zM12 716h1v27h-1zM2 743h1v29h-1zM4 743h1v29h-1zM12 743h1v29h-1zM8 772h2v26h-2zM12 772h1v26h-1zM1 798h4v25h-4zM8 798h2v25h-2zM12 798h1v25h-1zM1 823h1v25h-1zM3 823h2v25h-2zM8 823h1v25h-1zM12 823h1v25h-1zM1 848h2v26h-2zM4 848h1v26h-1zM9 848h1v26h-1zM12 848h1v26h-1zM1 874h1v26h-1zM4 874h1v26h-1zM7 874h2v26h-2zM12 874h1v26h-1zM0 900h3v24h-3zM6 900h1v24h-1zM9 900h1v24h-1zM12 900h1v24h-1zM2 924h1v26h-1zM8 924h1v26h-1zM12 924h1v26h-1zM0 950h2v24h-2zM3 950h2v24h-2zM8 950h2v24h-2zM11 950h2v24h-2zM2 974h1v23h-1zM8 974h1v23h-1zM12 974h1v23h-1zM1 997h1v25h-1zM9 997h1v25h-1zM0 1022h1v26h-1zM8 1022h1v26h-1zM11 1022h1v26h-1zM2 1048h1v24h-1zM4 1048h1v24h-1zM8 1048h1v24h-1zM12 1048h1v24h-1zM1 1072h2v20h-2zM4 1072h1v20h-1zM12 1072h1v20h-1zM2 1092h1v20h-1zM4 1092h1v20h-1zM8 1092h1v20h-1zM1 1112h2v11h-2zM4 1112h1v11h-1zM8 1112h1v11h-1z"/><path fill="#fddcc9" d="M0 716h1v27h-1zM2 716h1v27h-1zM0 743h2v29h-2zM8 743h1v29h-1zM0 772h3v26h-3zM0 798h1v25h-1zM0 823h1v25h-1zM2 823h1v25h-1zM0 848h1v26h-1zM8 848h1v26h-1zM2 874h1v26h-1zM4 900h1v24h-1zM8 900h1v24h-1zM1 924h1v26h-1zM4 924h1v26h-1zM2 950h1v24h-1zM0 974h1v23h-1zM4 974h1v23h-1zM2 997h1v25h-1zM8 997h1v25h-1zM1 1022h1v26h-1zM0 1048h2v24h-2zM0 1072h1v20h-1zM0 1092h2v20h-2zM0 1112h1v11h-1zM9 1112h1v11h-1zM12 1112h1v11h-1z"/><path fill="#fbd2bb" d="M0 874h1v26h-1zM0 924h1v26h-1zM0 997h1v25h-1z"/></g>

<rect x="830.9" y="677.1" width="583.2" height="445.7" fill="none" stroke="#000" stroke-width="1.6"/>
<path d="M830.9 1122.8v8M1068.74 1122.8v8M1306.57 1122.8v8M949.82 1122.8v4.2M1187.66 1122.8v4.2M830.9 1049.7h-8M830.9 948.43h-8M830.9 847.17h-8M830.9 745.9h-8M830.9 1100.33h-4.2M830.9 999.07h-4.2M830.9 897.8h-4.2M830.9 796.53h-4.2M830.9 695.27h-4.2" stroke="#000" stroke-width="1.6" fill="none"/>
<text x="830.9" y="1156.5" text-anchor="middle" font-size="29.2">0.3</text>
<text x="1068.74" y="1156.5" text-anchor="middle" font-size="29.2">0.4</text>
<text x="1306.57" y="1156.5" text-anchor="middle" font-size="29.2">0.5</text>
<text x="818.4" y="1059.3" text-anchor="end" font-size="29.2">25</text>
<text x="818.4" y="958.03" text-anchor="end" font-size="29.2">50</text>
<text x="818.4" y="856.77" text-anchor="end" font-size="29.2">75</text>
<text x="818.4" y="755.5" text-anchor="end" font-size="29.2">100</text>
<text x="1123" y="1188.3" text-anchor="middle" font-size="29.2"><tspan font-style="italic">n</tspan> (10<tspan font-size="18.5" dy="-11">12</tspan><tspan dy="11"> cm</tspan><tspan font-size="18.5" dy="-11">-2</tspan><tspan dy="11">)</tspan></text>
<text transform="translate(757.5 899.95) rotate(-90)" text-anchor="middle" font-size="29.2"><tspan font-style="italic">T</tspan> (mK)</text>
<text x="750" y="647" font-size="27" font-weight="bold">e</text>
<rect x="1269.6" y="638.9" width="123.4" height="22.1" fill="url(#cb)" stroke="#000" stroke-width="1.6"/>
<text x="1269.6" y="631.8" text-anchor="middle" font-size="29.2">0</text>
<text x="1393" y="631.8" text-anchor="middle" font-size="29.2">400</text>
<text x="1263.1" y="660.1" text-anchor="end" font-size="29.2"><tspan font-style="italic">R</tspan><tspan font-style="italic" font-size="20.5" dy="8.4">xx</tspan><tspan dy="-8.4"> (</tspan><tspan font-family='"Liberation Serif", "Times New Roman", serif' font-size="33.5">Ω</tspan>)</text>
<text x="841.9" y="713.7" font-size="29.8" font-weight="bold"><tspan font-style="italic">D</tspan> = 0.14 V/nm</text>
</g>
<g id="panel-f">
<g shape-rendering="crispEdges" transform="translate(1555.00 0) scale(11.8735 1)"><path fill="#3a74b3" d="M23 1092h1v20h-1zM25 1092h1v20h-1zM29 1092h1v20h-1zM21 1112h1v11h-1zM23 1112h1v11h-1zM28 1112h1v11h-1z"/><path fill="#407eb9" d="M23 997h1v25h-1zM28 1048h1v24h-1zM23 1072h1v20h-1zM26 1072h1v20h-1zM29 1072h2v20h-2zM24 1092h1v20h-1zM26 1092h3v20h-3zM30 1092h1v20h-1zM22 1112h1v11h-1zM24 1112h4v11h-4zM29 1112h2v11h-2z"/><path fill="#4688be" d="M24 950h6v24h-6zM25 997h4v25h-4zM23 1022h4v26h-4zM28 1022h1v26h-1zM21 1048h1v24h-1zM23 1048h5v24h-5zM29 1048h1v24h-1zM24 1072h2v20h-2zM27 1072h2v20h-2z"/><path fill="#4c92c4" d="M23 924h1v26h-1zM25 924h1v26h-1zM28 924h1v26h-1zM25 974h5v23h-5zM24 997h1v25h-1zM27 1022h1v26h-1zM22 1048h1v24h-1zM19 1112h2v11h-2zM31 1112h1v11h-1z"/><path fill="#579cc9" d="M26 900h1v24h-1zM26 924h1v26h-1zM29 924h1v26h-1zM23 950h1v24h-1zM24 974h1v23h-1zM30 997h1v25h-1zM30 1022h1v26h-1zM30 1048h1v24h-1zM20 1072h1v20h-1zM31 1092h1v20h-1zM33 1092h2v20h-2zM34 1112h1v11h-1z"/><path fill="#65a6ce" d="M24 900h2v24h-2zM27 900h1v24h-1zM24 924h1v26h-1zM27 924h1v26h-1zM21 950h2v24h-2zM20 974h1v23h-1zM23 974h1v23h-1zM21 997h1v25h-1zM29 997h1v25h-1zM31 997h3v25h-3zM20 1022h2v26h-2zM29 1022h1v26h-1zM32 1022h1v26h-1zM32 1048h2v24h-2zM19 1072h1v20h-1zM31 1072h4v20h-4zM20 1092h1v20h-1zM32 1092h1v20h-1zM32 1112h2v11h-2z"/><path fill="#74b0d3" d="M25 874h2v26h-2zM28 874h1v26h-1zM21 974h1v23h-1zM22 997h1v25h-1zM22 1022h1v26h-1zM31 1022h1v26h-1zM33 1022h1v26h-1zM19 1048h2v24h-2zM31 1048h1v24h-1zM21 1072h2v20h-2zM19 1092h1v20h-1zM21 1092h2v20h-2z"/><path fill="#82bad8" d="M24 874h1v26h-1zM27 874h1v26h-1zM23 900h1v24h-1zM29 900h1v24h-1zM30 950h1v24h-1zM22 974h1v23h-1zM30 974h2v23h-2zM33 974h1v23h-1zM34 1048h1v24h-1z"/><path fill="#91c4dd" d="M23 874h1v26h-1zM21 900h1v24h-1zM28 900h1v24h-1zM21 924h2v26h-2zM31 924h1v26h-1zM20 950h1v24h-1zM32 974h1v23h-1zM19 1022h1v26h-1zM35 1048h1v24h-1z"/><path fill="#9ecbe1" d="M45 716h1v27h-1zM44 772h1v26h-1zM48 772h1v26h-1zM24 848h2v26h-2zM30 924h1v26h-1zM34 1022h1v26h-1z"/><path fill="#abd2e5" d="M36 716h1v27h-1zM38 716h1v27h-1zM42 716h1v27h-1zM44 716h1v27h-1zM47 716h2v27h-2zM38 743h1v29h-1zM40 743h1v29h-1zM42 743h1v29h-1zM47 743h1v29h-1zM41 772h1v26h-1zM45 772h3v26h-3zM40 798h1v25h-1zM45 798h1v25h-1zM47 798h2v25h-2zM45 823h1v25h-1zM47 823h2v25h-2zM26 848h2v26h-2zM48 848h1v26h-1zM30 874h1v26h-1zM47 874h1v26h-1zM22 900h1v24h-1zM47 900h2v24h-2zM31 950h3v24h-3zM34 974h1v23h-1zM19 997h1v25h-1zM45 1022h1v26h-1zM45 1048h1v24h-1zM35 1072h1v20h-1zM47 1092h1v20h-1zM18 1112h1v11h-1zM45 1112h1v11h-1zM48 1112h1v11h-1z"/><path fill="#b9d9e9" d="M37 716h1v27h-1zM39 716h3v27h-3zM36 743h2v29h-2zM39 743h1v29h-1zM41 743h1v29h-1zM43 743h4v29h-4zM48 743h1v29h-1zM36 772h5v26h-5zM42 772h2v26h-2zM36 798h4v25h-4zM41 798h2v25h-2zM25 823h1v25h-1zM36 823h1v25h-1zM39 823h2v25h-2zM42 823h1v25h-1zM44 823h1v25h-1zM46 823h1v25h-1zM23 848h1v26h-1zM40 848h2v26h-2zM44 848h4v26h-4zM29 874h1v26h-1zM44 874h2v26h-2zM48 874h1v26h-1zM31 900h1v24h-1zM40 900h1v24h-1zM42 900h1v24h-1zM44 900h2v24h-2zM44 924h2v26h-2zM47 924h2v26h-2zM42 950h1v24h-1zM44 950h2v24h-2zM47 950h2v24h-2zM19 974h1v23h-1zM38 974h1v23h-1zM42 974h1v23h-1zM45 974h1v23h-1zM47 974h2v23h-2zM20 997h1v25h-1zM34 997h1v25h-1zM42 997h1v25h-1zM45 997h4v25h-4zM40 1022h1v26h-1zM42 1022h1v26h-1zM46 1022h3v26h-3zM42 1048h1v24h-1zM44 1048h1v24h-1zM47 1048h2v24h-2zM18 1072h1v20h-1zM42 1072h1v20h-1zM45 1072h1v20h-1zM48 1072h1v20h-1zM18 1092h1v20h-1zM35 1092h1v20h-1zM44 1092h3v20h-3zM48 1092h1v20h-1zM42 1112h1v11h-1zM44 1112h1v11h-1zM47 1112h1v11h-1z"/><path fill="#c6e0ed" d="M43 716h1v27h-1zM46 716h1v27h-1zM35 743h1v29h-1zM35 772h1v26h-1zM43 798h2v25h-2zM46 798h1v25h-1zM26 823h1v25h-1zM35 823h1v25h-1zM37 823h2v25h-2zM41 823h1v25h-1zM43 823h1v25h-1zM36 848h4v26h-4zM42 848h2v26h-2zM21 874h2v26h-2zM36 874h2v26h-2zM39 874h2v26h-2zM42 874h2v26h-2zM46 874h1v26h-1zM20 900h1v24h-1zM30 900h1v24h-1zM36 900h1v24h-1zM38 900h2v24h-2zM41 900h1v24h-1zM46 900h1v24h-1zM20 924h1v26h-1zM37 924h7v26h-7zM46 924h1v26h-1zM36 950h1v24h-1zM38 950h4v24h-4zM43 950h1v24h-1zM46 950h1v24h-1zM36 974h1v23h-1zM39 974h3v23h-3zM44 974h1v23h-1zM46 974h1v23h-1zM36 997h1v25h-1zM39 997h3v25h-3zM43 997h2v25h-2zM37 1022h3v26h-3zM41 1022h1v26h-1zM18 1048h1v24h-1zM38 1048h4v24h-4zM46 1048h1v24h-1zM36 1072h6v20h-6zM43 1072h2v20h-2zM47 1072h1v20h-1zM36 1092h1v20h-1zM38 1092h5v20h-5zM36 1112h1v11h-1zM38 1112h4v11h-4zM46 1112h1v11h-1z"/><path fill="#d3e6f0" d="M34 716h2v27h-2zM33 743h1v29h-1zM34 772h1v26h-1zM34 798h2v25h-2zM34 823h1v25h-1zM28 848h1v26h-1zM34 848h2v26h-2zM34 874h1v26h-1zM38 874h1v26h-1zM41 874h1v26h-1zM32 900h4v24h-4zM37 900h1v24h-1zM43 900h1v24h-1zM32 924h1v26h-1zM35 924h2v26h-2zM34 950h1v24h-1zM37 950h1v24h-1zM35 974h1v23h-1zM37 974h1v23h-1zM43 974h1v23h-1zM37 997h2v25h-2zM18 1022h1v26h-1zM36 1022h1v26h-1zM43 1022h2v26h-2zM36 1048h2v24h-2zM43 1048h1v24h-1zM46 1072h1v20h-1zM37 1092h1v20h-1zM43 1092h1v20h-1zM37 1112h1v11h-1zM43 1112h1v11h-1z"/><path fill="#dbeaf2" d="M30 716h2v27h-2zM28 743h1v29h-1zM34 743h1v29h-1zM28 772h6v26h-6zM28 798h3v25h-3zM32 798h1v25h-1zM23 823h1v25h-1zM27 823h1v25h-1zM31 823h1v25h-1zM33 823h1v25h-1zM29 848h1v26h-1zM31 848h1v26h-1zM33 848h1v26h-1zM31 874h3v26h-3zM35 874h1v26h-1zM33 924h2v26h-2zM35 950h1v24h-1zM35 997h1v25h-1zM35 1022h1v26h-1zM35 1112h1v11h-1z"/><path fill="#e3edf3" d="M28 716h2v27h-2zM32 716h2v27h-2zM26 743h2v29h-2zM29 743h4v29h-4zM26 772h2v26h-2zM26 798h2v25h-2zM31 798h1v25h-1zM33 798h1v25h-1zM24 823h1v25h-1zM28 823h3v25h-3zM32 823h1v25h-1zM30 848h1v26h-1zM32 848h1v26h-1z"/><path fill="#ebf1f5" d="M23 716h1v27h-1zM25 716h3v27h-3zM25 743h1v29h-1zM23 772h1v26h-1zM25 772h1v26h-1zM23 798h1v25h-1zM25 798h1v25h-1zM19 950h1v24h-1z"/><path fill="#f3f5f6" d="M24 716h1v27h-1zM23 743h1v29h-1zM24 772h1v26h-1zM24 798h1v25h-1zM21 848h2v26h-2zM19 924h1v26h-1z"/><path fill="#f8f4f2" d="M24 743h1v29h-1zM22 798h1v25h-1zM22 823h1v25h-1zM20 874h1v26h-1zM18 974h1v23h-1zM17 1072h1v20h-1z"/><path fill="#f9eee8" d="M22 716h1v27h-1zM21 823h1v25h-1zM19 900h1v24h-1zM18 997h1v25h-1zM17 1022h1v26h-1zM17 1048h1v24h-1zM17 1092h1v20h-1zM17 1112h1v11h-1z"/><path fill="#fae8dd" d="M22 743h1v29h-1zM22 772h1v26h-1zM21 798h1v25h-1zM20 823h1v25h-1zM20 848h1v26h-1zM18 950h1v24h-1z"/><path fill="#fbe2d3" d="M20 716h1v27h-1zM19 743h2v29h-2zM20 772h2v26h-2zM20 798h1v25h-1zM19 823h1v25h-1zM19 874h1v26h-1zM16 1072h1v20h-1z"/><path fill="#fddcc9" d="M19 716h1v27h-1zM21 716h1v27h-1zM21 743h1v29h-1zM19 772h1v26h-1zM19 798h1v25h-1zM19 848h1v26h-1zM18 924h1v26h-1zM17 997h1v25h-1z"/><path fill="#fbd2bb" d="M18 743h1v29h-1zM18 823h1v25h-1zM18 848h1v26h-1zM18 874h1v26h-1zM18 900h1v24h-1zM17 974h1v23h-1z"/><path fill="#fac6ad" d="M17 716h2v27h-2zM17 743h1v29h-1zM17 772h2v26h-2zM17 798h2v25h-2zM17 823h1v25h-1zM17 848h1v26h-1zM17 874h1v26h-1zM17 900h1v24h-1zM16 924h2v26h-2zM16 950h2v24h-2zM16 974h1v23h-1zM16 1022h1v26h-1zM16 1048h1v24h-1zM16 1092h1v20h-1zM16 1112h1v11h-1z"/><path fill="#f8bb9e" d="M16 716h1v27h-1zM16 743h1v29h-1zM15 772h2v26h-2zM15 798h2v25h-2zM16 823h1v25h-1zM16 848h1v26h-1zM15 874h2v26h-2zM16 900h1v24h-1zM15 924h1v26h-1zM13 974h1v23h-1zM13 997h1v25h-1zM15 997h2v25h-2zM13 1022h1v26h-1zM15 1048h1v24h-1zM13 1112h1v11h-1z"/><path fill="#f6af8f" d="M13 716h3v27h-3zM12 743h4v29h-4zM13 772h2v26h-2zM12 798h3v25h-3zM13 823h3v25h-3zM14 848h2v26h-2zM13 874h2v26h-2zM13 900h3v24h-3zM12 924h3v26h-3zM13 950h3v24h-3zM14 974h2v23h-2zM14 997h1v25h-1zM12 1022h1v26h-1zM14 1022h2v26h-2zM12 1048h2v24h-2zM13 1072h3v20h-3zM13 1092h3v20h-3zM14 1112h2v11h-2z"/><path fill="#f3a481" d="M12 716h1v27h-1zM12 772h1v26h-1zM10 823h1v25h-1zM12 823h1v25h-1zM13 848h1v26h-1zM10 874h1v26h-1zM12 874h1v26h-1zM10 900h1v24h-1zM12 900h1v24h-1zM12 950h1v24h-1zM12 974h1v23h-1zM12 997h1v25h-1zM10 1048h1v24h-1zM14 1048h1v24h-1zM12 1072h1v20h-1zM12 1092h1v20h-1zM12 1112h1v11h-1z"/><path fill="#ed9576" d="M11 716h1v27h-1zM10 743h2v29h-2zM10 772h2v26h-2zM10 798h2v25h-2zM10 848h1v26h-1zM12 848h1v26h-1zM11 874h1v26h-1zM11 924h1v26h-1zM10 950h1v24h-1zM8 974h1v23h-1zM10 974h2v23h-2zM10 997h2v25h-2zM10 1022h1v26h-1zM11 1048h1v24h-1zM9 1072h3v20h-3zM8 1092h1v20h-1zM10 1092h2v20h-2zM10 1112h2v11h-2z"/><path fill="#e7866a" d="M7 716h1v27h-1zM9 716h2v27h-2zM8 743h2v29h-2zM8 772h2v26h-2zM8 798h2v25h-2zM8 823h1v25h-1zM11 823h1v25h-1zM8 848h2v26h-2zM11 848h1v26h-1zM8 874h1v26h-1zM8 900h1v24h-1zM11 900h1v24h-1zM8 924h3v26h-3zM8 950h1v24h-1zM11 950h1v24h-1zM9 974h1v23h-1zM8 997h2v25h-2zM8 1022h2v26h-2zM11 1022h1v26h-1zM8 1048h2v24h-2zM8 1072h1v20h-1zM9 1092h1v20h-1zM8 1112h2v11h-2z"/><path fill="#e0775f" d="M4 716h1v27h-1zM8 716h1v27h-1zM7 743h1v29h-1zM6 772h2v26h-2zM7 798h1v25h-1zM1 823h1v25h-1zM6 823h2v25h-2zM9 823h1v25h-1zM7 874h1v26h-1zM9 874h1v26h-1zM7 900h1v24h-1zM9 900h1v24h-1zM6 924h2v26h-2zM7 950h1v24h-1zM9 950h1v24h-1zM7 974h1v23h-1zM7 1022h1v26h-1zM7 1072h1v20h-1zM6 1092h1v20h-1zM6 1112h2v11h-2z"/><path fill="#da6954" d="M3 716h1v27h-1zM1 743h1v29h-1zM3 743h1v29h-1zM5 743h1v29h-1zM1 772h5v26h-5zM2 798h3v25h-3zM0 823h1v25h-1zM4 823h1v25h-1zM1 848h2v26h-2zM4 848h1v26h-1zM6 848h2v26h-2zM1 874h4v26h-4zM6 874h1v26h-1zM2 900h2v24h-2zM6 900h1v24h-1zM0 924h1v26h-1zM3 924h3v26h-3zM3 950h3v24h-3zM1 974h1v23h-1zM3 974h3v23h-3zM1 997h1v25h-1zM4 997h4v25h-4zM1 1022h4v26h-4zM6 1022h1v26h-1zM1 1048h1v24h-1zM3 1048h1v24h-1zM7 1048h1v24h-1zM1 1072h3v20h-3zM6 1072h1v20h-1zM1 1092h1v20h-1zM3 1092h1v20h-1zM5 1092h1v20h-1zM7 1092h1v20h-1zM3 1112h1v11h-1zM5 1112h1v11h-1z"/><path fill="#d35a4a" d="M0 716h3v27h-3zM5 716h2v27h-2zM0 743h1v29h-1zM2 743h1v29h-1zM4 743h1v29h-1zM6 743h1v29h-1zM0 772h1v26h-1zM0 798h2v25h-2zM5 798h2v25h-2zM2 823h2v25h-2zM5 823h1v25h-1zM0 848h1v26h-1zM3 848h1v26h-1zM5 848h1v26h-1zM0 874h1v26h-1zM5 874h1v26h-1zM0 900h2v24h-2zM4 900h2v24h-2zM1 924h2v26h-2zM0 950h3v24h-3zM6 950h1v24h-1zM0 974h1v23h-1zM2 974h1v23h-1zM6 974h1v23h-1zM0 997h1v25h-1zM2 997h2v25h-2zM0 1022h1v26h-1zM5 1022h1v26h-1zM0 1048h1v24h-1zM2 1048h1v24h-1zM4 1048h3v24h-3zM0 1072h1v20h-1zM4 1072h2v20h-2zM0 1092h1v20h-1zM2 1092h1v20h-1zM4 1092h1v20h-1zM0 1112h3v11h-3zM4 1112h1v11h-1z"/></g>

<rect x="1554.3" y="677.1" width="584" height="445.7" fill="none" stroke="#000" stroke-width="1.6"/>
<path d="M1554.3 1122.8v8M1792.46 1122.8v8M2030.63 1122.8v8M1673.38 1122.8v4.2M1911.54 1122.8v4.2M1554.3 1049.7h-8M1554.3 948.43h-8M1554.3 847.17h-8M1554.3 745.9h-8M1554.3 1100.33h-4.2M1554.3 999.07h-4.2M1554.3 897.8h-4.2M1554.3 796.53h-4.2M1554.3 695.27h-4.2" stroke="#000" stroke-width="1.6" fill="none"/>
<text x="1554.3" y="1156.5" text-anchor="middle" font-size="29.2">0.3</text>
<text x="1792.46" y="1156.5" text-anchor="middle" font-size="29.2">0.4</text>
<text x="2030.63" y="1156.5" text-anchor="middle" font-size="29.2">0.5</text>
<text x="1541.8" y="1059.3" text-anchor="end" font-size="29.2">25</text>
<text x="1541.8" y="958.03" text-anchor="end" font-size="29.2">50</text>
<text x="1541.8" y="856.77" text-anchor="end" font-size="29.2">75</text>
<text x="1541.8" y="755.5" text-anchor="end" font-size="29.2">100</text>
<text x="1846.8" y="1188.3" text-anchor="middle" font-size="29.2"><tspan font-style="italic">n</tspan> (10<tspan font-size="18.5" dy="-11">12</tspan><tspan dy="11"> cm</tspan><tspan font-size="18.5" dy="-11">-2</tspan><tspan dy="11">)</tspan></text>
<text transform="translate(1481 899.95) rotate(-90)" text-anchor="middle" font-size="29.2"><tspan font-style="italic">T</tspan> (mK)</text>
<text x="1474" y="647" font-size="27" font-weight="bold">f</text>
<rect x="1993" y="638.9" width="123.4" height="22.1" fill="url(#cb)" stroke="#000" stroke-width="1.6"/>
<text x="1993" y="631.8" text-anchor="middle" font-size="29.2">0</text>
<text x="2116.4" y="631.8" text-anchor="middle" font-size="29.2">400</text>
<text x="1986.5" y="660.1" text-anchor="end" font-size="29.2"><tspan font-style="italic">R</tspan><tspan font-style="italic" font-size="20.5" dy="8.4">xx</tspan><tspan dy="-8.4"> (</tspan><tspan font-family='"Liberation Serif", "Times New Roman", serif' font-size="33.5">Ω</tspan>)</text>
<text x="1565.3" y="713.7" font-size="29.8" font-weight="bold"><tspan font-style="italic">D</tspan> = 0.17 V/nm</text>
</g>
<g id="panel-g">
<g shape-rendering="crispEdges" transform="translate(107.20 0) scale(11.6560 1)"><path fill="#2d5da0" d="M23 1599h1v25h-1zM26 1599h1v25h-1zM28 1599h1v25h-1zM25 1650h1v24h-1zM24 1674h1v21h-1z"/><path fill="#346aae" d="M24 1577h2v22h-2zM29 1577h1v22h-1zM24 1599h2v25h-2zM27 1599h1v25h-1zM29 1599h1v25h-1zM19 1624h2v26h-2zM24 1624h4v26h-4zM30 1624h1v26h-1zM20 1650h1v24h-1zM22 1650h3v24h-3zM26 1650h1v24h-1zM28 1650h3v24h-3zM23 1674h1v21h-1zM25 1674h4v21h-4zM30 1674h1v21h-1zM23 1695h1v20h-1zM24 1715h1v10h-1zM26 1715h1v10h-1z"/><path fill="#3a74b3" d="M26 1450h1v26h-1zM21 1476h1v26h-1zM25 1476h2v26h-2zM24 1502h1v25h-1zM26 1502h1v25h-1zM24 1527h1v25h-1zM27 1527h1v25h-1zM29 1527h1v25h-1zM20 1552h1v25h-1zM22 1552h8v25h-8zM20 1577h1v22h-1zM22 1577h2v22h-2zM26 1577h3v22h-3zM30 1577h1v22h-1zM21 1599h2v25h-2zM22 1624h2v26h-2zM28 1624h2v26h-2zM19 1650h1v24h-1zM21 1650h1v24h-1zM27 1650h1v24h-1zM19 1674h4v21h-4zM29 1674h1v21h-1zM19 1695h3v20h-3zM24 1695h7v20h-7zM19 1715h2v10h-2zM22 1715h2v10h-2zM25 1715h1v10h-1zM28 1715h3v10h-3z"/><path fill="#407eb9" d="M26 1425h1v25h-1zM23 1450h3v26h-3zM24 1476h1v26h-1zM20 1502h2v25h-2zM23 1502h1v25h-1zM25 1502h1v25h-1zM27 1502h2v25h-2zM20 1527h4v25h-4zM25 1527h2v25h-2zM28 1527h1v25h-1zM21 1577h1v22h-1zM19 1599h2v25h-2zM30 1599h1v25h-1zM21 1624h1v26h-1zM22 1695h1v20h-1zM21 1715h1v10h-1zM27 1715h1v10h-1z"/><path fill="#4688be" d="M23 1425h3v25h-3zM21 1450h2v26h-2zM22 1476h2v26h-2zM19 1502h1v25h-1zM22 1502h1v25h-1zM29 1502h1v25h-1zM19 1552h1v25h-1zM21 1552h1v25h-1zM19 1577h1v22h-1zM31 1624h1v26h-1zM31 1650h1v24h-1zM31 1674h1v21h-1z"/><path fill="#4c92c4" d="M23 1401h3v24h-3zM21 1425h2v25h-2zM27 1476h2v26h-2zM19 1527h1v25h-1zM30 1552h1v25h-1z"/><path fill="#579cc9" d="M24 1374h1v27h-1zM22 1401h1v24h-1zM27 1450h2v26h-2zM19 1476h1v26h-1zM31 1695h1v20h-1zM31 1715h1v10h-1z"/><path fill="#65a6ce" d="M22 1374h2v27h-2zM21 1401h1v24h-1zM20 1425h1v25h-1zM28 1425h1v25h-1zM20 1476h1v26h-1zM30 1527h1v25h-1zM31 1599h1v25h-1zM18 1715h1v10h-1z"/><path fill="#74b0d3" d="M25 1374h1v27h-1zM26 1401h1v24h-1zM27 1425h1v25h-1zM19 1450h2v26h-2zM29 1476h1v26h-1zM18 1695h1v20h-1z"/><path fill="#82bad8" d="M19 1425h1v25h-1zM18 1650h1v24h-1zM18 1674h1v21h-1zM32 1674h1v21h-1z"/><path fill="#91c4dd" d="M23 1345h1v29h-1zM21 1374h1v27h-1zM30 1502h1v25h-1zM32 1695h1v20h-1zM32 1715h1v10h-1z"/><path fill="#9ecbe1" d="M48 1318h1v27h-1zM21 1345h1v29h-1zM24 1345h1v29h-1zM48 1345h2v29h-2zM20 1401h1v24h-1zM29 1450h1v26h-1zM49 1502h1v25h-1zM31 1577h1v22h-1zM18 1624h1v26h-1zM32 1650h1v24h-1z"/><path fill="#abd2e5" d="M44 1280h2v38h-2zM48 1280h2v38h-2zM49 1318h1v27h-1zM22 1345h1v29h-1zM38 1345h1v29h-1zM47 1345h1v29h-1zM20 1374h1v27h-1zM44 1374h1v27h-1zM46 1374h1v27h-1zM48 1374h2v27h-2zM47 1401h3v24h-3zM49 1425h1v25h-1zM49 1450h1v26h-1zM48 1527h1v25h-1zM48 1552h1v25h-1zM18 1599h1v25h-1zM48 1599h1v25h-1zM47 1624h3v26h-3zM48 1650h2v24h-2zM48 1674h1v21h-1zM47 1695h2v20h-2zM47 1715h2v10h-2z"/><path fill="#b9d9e9" d="M32 1280h1v38h-1zM36 1280h1v38h-1zM39 1280h1v38h-1zM41 1280h3v38h-3zM46 1280h2v38h-2zM33 1318h1v27h-1zM36 1318h1v27h-1zM39 1318h1v27h-1zM42 1318h4v27h-4zM47 1318h1v27h-1zM35 1345h3v29h-3zM39 1345h2v29h-2zM42 1345h5v29h-5zM26 1374h1v27h-1zM35 1374h2v27h-2zM38 1374h1v27h-1zM41 1374h1v27h-1zM43 1374h1v27h-1zM47 1374h1v27h-1zM27 1401h2v24h-2zM37 1401h2v24h-2zM41 1401h1v24h-1zM45 1401h1v24h-1zM29 1425h1v25h-1zM37 1425h2v25h-2zM43 1425h2v25h-2zM47 1425h2v25h-2zM37 1450h1v26h-1zM42 1450h1v26h-1zM44 1450h5v26h-5zM30 1476h1v26h-1zM44 1476h1v26h-1zM46 1476h4v26h-4zM43 1502h1v25h-1zM45 1502h1v25h-1zM47 1502h2v25h-2zM44 1527h1v25h-1zM47 1527h1v25h-1zM49 1527h1v25h-1zM18 1552h1v25h-1zM38 1552h1v25h-1zM43 1552h2v25h-2zM46 1552h2v25h-2zM49 1552h1v25h-1zM18 1577h1v22h-1zM44 1577h6v22h-6zM37 1599h1v25h-1zM42 1599h2v25h-2zM46 1599h2v25h-2zM49 1599h1v25h-1zM35 1624h1v26h-1zM43 1624h1v26h-1zM45 1624h2v26h-2zM37 1650h1v24h-1zM41 1650h1v24h-1zM43 1650h4v24h-4zM37 1674h2v21h-2zM45 1674h1v21h-1zM47 1674h1v21h-1zM49 1674h1v21h-1zM37 1695h1v20h-1zM43 1695h1v20h-1zM36 1715h3v10h-3zM45 1715h1v10h-1z"/><path fill="#c6e0ed" d="M30 1280h1v38h-1zM33 1280h3v38h-3zM37 1280h2v38h-2zM40 1280h1v38h-1zM29 1318h1v27h-1zM32 1318h1v27h-1zM34 1318h2v27h-2zM37 1318h2v27h-2zM40 1318h2v27h-2zM46 1318h1v27h-1zM20 1345h1v29h-1zM30 1345h5v29h-5zM41 1345h1v29h-1zM32 1374h2v27h-2zM37 1374h1v27h-1zM39 1374h2v27h-2zM42 1374h1v27h-1zM45 1374h1v27h-1zM31 1401h1v24h-1zM33 1401h1v24h-1zM36 1401h1v24h-1zM39 1401h2v24h-2zM42 1401h3v24h-3zM46 1401h1v24h-1zM31 1425h3v25h-3zM36 1425h1v25h-1zM39 1425h4v25h-4zM45 1425h2v25h-2zM32 1450h2v26h-2zM35 1450h2v26h-2zM38 1450h2v26h-2zM41 1450h1v26h-1zM43 1450h1v26h-1zM32 1476h12v26h-12zM45 1476h1v26h-1zM33 1502h1v25h-1zM35 1502h7v25h-7zM44 1502h1v25h-1zM46 1502h1v25h-1zM32 1527h1v25h-1zM35 1527h9v25h-9zM45 1527h2v25h-2zM32 1552h2v25h-2zM35 1552h3v25h-3zM39 1552h4v25h-4zM45 1552h1v25h-1zM36 1577h8v22h-8zM33 1599h1v25h-1zM35 1599h2v25h-2zM38 1599h4v25h-4zM44 1599h2v25h-2zM33 1624h1v26h-1zM36 1624h7v26h-7zM44 1624h1v26h-1zM33 1650h1v24h-1zM36 1650h1v24h-1zM38 1650h3v24h-3zM42 1650h1v24h-1zM47 1650h1v24h-1zM33 1674h1v21h-1zM35 1674h2v21h-2zM39 1674h6v21h-6zM46 1674h1v21h-1zM33 1695h1v20h-1zM36 1695h1v20h-1zM38 1695h1v20h-1zM40 1695h3v20h-3zM44 1695h3v20h-3zM49 1695h1v20h-1zM33 1715h1v10h-1zM39 1715h6v10h-6zM46 1715h1v10h-1zM49 1715h1v10h-1z"/><path fill="#d3e6f0" d="M29 1280h1v38h-1zM31 1280h1v38h-1zM30 1318h2v27h-2zM29 1345h1v29h-1zM19 1374h1v27h-1zM28 1374h4v27h-4zM34 1374h1v27h-1zM19 1401h1v24h-1zM30 1401h1v24h-1zM32 1401h1v24h-1zM34 1401h2v24h-2zM30 1425h1v25h-1zM34 1425h2v25h-2zM30 1450h2v26h-2zM34 1450h1v26h-1zM40 1450h1v26h-1zM31 1476h1v26h-1zM31 1502h2v25h-2zM34 1502h1v25h-1zM42 1502h1v25h-1zM18 1527h1v25h-1zM31 1527h1v25h-1zM33 1527h2v25h-2zM31 1552h1v25h-1zM34 1552h1v25h-1zM33 1577h1v22h-1zM35 1577h1v22h-1zM32 1599h1v25h-1zM34 1599h1v25h-1zM32 1624h1v26h-1zM34 1624h1v26h-1zM17 1650h1v24h-1zM35 1650h1v24h-1zM17 1674h1v21h-1zM34 1674h1v21h-1zM34 1695h2v20h-2zM39 1695h1v20h-1zM17 1715h1v10h-1zM34 1715h2v10h-2z"/><path fill="#dbeaf2" d="M25 1280h3v38h-3zM21 1318h3v27h-3zM26 1318h1v27h-1zM28 1318h1v27h-1zM26 1345h3v29h-3zM27 1374h1v27h-1zM29 1401h1v24h-1zM18 1502h1v25h-1zM34 1577h1v22h-1zM34 1650h1v24h-1zM17 1695h1v20h-1z"/><path fill="#e3edf3" d="M24 1280h1v38h-1zM28 1280h1v38h-1zM25 1318h1v27h-1zM27 1318h1v27h-1zM25 1345h1v29h-1zM17 1624h1v26h-1z"/><path fill="#ebf1f5" d="M24 1318h1v27h-1zM17 1552h1v25h-1zM32 1577h1v22h-1z"/><path fill="#f3f5f6" d="M22 1280h2v38h-2zM18 1450h1v26h-1zM18 1476h1v26h-1zM17 1577h1v22h-1zM17 1599h1v25h-1z"/><path fill="#f8f4f2" d="M21 1280h1v38h-1zM20 1318h1v27h-1zM17 1527h1v25h-1zM16 1552h1v25h-1zM16 1715h1v10h-1z"/><path fill="#f9eee8" d="M19 1318h1v27h-1zM19 1345h1v29h-1zM18 1374h1v27h-1zM18 1401h1v24h-1zM18 1425h1v25h-1zM17 1450h1v26h-1zM17 1476h1v26h-1zM17 1502h1v25h-1zM16 1577h1v22h-1zM16 1599h1v25h-1zM16 1624h1v26h-1zM16 1650h1v24h-1zM16 1674h1v21h-1zM16 1695h1v20h-1z"/><path fill="#fae8dd" d="M18 1345h1v29h-1z"/><path fill="#fbe2d3" d="M19 1280h2v38h-2z"/><path fill="#fddcc9" d="M17 1280h2v38h-2zM16 1318h3v27h-3zM17 1345h1v29h-1zM16 1374h1v27h-1zM16 1401h2v24h-2zM16 1425h2v25h-2zM16 1476h1v26h-1zM16 1502h1v25h-1zM16 1527h1v25h-1z"/><path fill="#fbd2bb" d="M15 1280h2v38h-2zM15 1318h1v27h-1zM16 1345h1v29h-1zM17 1374h1v27h-1zM16 1450h1v26h-1zM15 1552h1v25h-1zM15 1577h1v22h-1zM15 1624h1v26h-1zM15 1695h1v20h-1z"/><path fill="#fac6ad" d="M14 1280h1v38h-1zM14 1318h1v27h-1zM14 1345h2v29h-2zM15 1374h1v27h-1zM15 1401h1v24h-1zM15 1425h1v25h-1zM14 1450h2v26h-2zM14 1476h2v26h-2zM14 1502h2v25h-2zM15 1527h1v25h-1zM14 1599h2v25h-2zM14 1624h1v26h-1zM15 1650h1v24h-1zM14 1674h2v21h-2zM15 1715h1v10h-1z"/><path fill="#f8bb9e" d="M13 1280h1v38h-1zM12 1318h1v27h-1zM13 1374h2v27h-2zM13 1401h2v24h-2zM12 1425h1v25h-1zM14 1425h1v25h-1zM12 1476h2v26h-2zM12 1502h2v25h-2zM12 1527h3v25h-3zM12 1552h3v25h-3zM12 1577h2v22h-2zM12 1599h1v25h-1zM14 1650h1v24h-1zM13 1674h1v21h-1zM12 1695h1v20h-1zM14 1695h1v20h-1zM12 1715h1v10h-1zM14 1715h1v10h-1z"/><path fill="#f6af8f" d="M11 1280h2v38h-2zM11 1318h1v27h-1zM13 1318h1v27h-1zM12 1345h2v29h-2zM12 1374h1v27h-1zM8 1401h1v24h-1zM11 1401h2v24h-2zM13 1425h1v25h-1zM8 1450h2v26h-2zM11 1450h3v26h-3zM8 1476h1v26h-1zM7 1527h2v25h-2zM11 1527h1v25h-1zM11 1552h1v25h-1zM8 1577h1v22h-1zM11 1577h1v22h-1zM14 1577h1v22h-1zM8 1599h1v25h-1zM13 1599h1v25h-1zM9 1624h1v26h-1zM11 1624h3v26h-3zM11 1650h3v24h-3zM8 1674h1v21h-1zM12 1674h1v21h-1zM8 1695h1v20h-1zM11 1695h1v20h-1zM13 1695h1v20h-1zM8 1715h1v10h-1zM13 1715h1v10h-1z"/><path fill="#f3a481" d="M7 1280h4v38h-4zM8 1318h3v27h-3zM8 1345h4v29h-4zM6 1374h1v27h-1zM8 1374h4v27h-4zM9 1401h2v24h-2zM7 1425h3v25h-3zM11 1425h1v25h-1zM10 1450h1v26h-1zM6 1476h2v26h-2zM9 1476h3v26h-3zM7 1502h5v25h-5zM9 1527h2v25h-2zM8 1552h3v25h-3zM7 1577h1v22h-1zM9 1577h2v22h-2zM10 1599h2v25h-2zM7 1624h2v26h-2zM10 1624h1v26h-1zM8 1650h3v24h-3zM7 1674h1v21h-1zM10 1674h2v21h-2zM7 1695h1v20h-1zM9 1695h2v20h-2zM6 1715h1v10h-1zM9 1715h1v10h-1zM11 1715h1v10h-1z"/><path fill="#ed9576" d="M6 1280h1v38h-1zM5 1318h3v27h-3zM5 1345h1v29h-1zM7 1345h1v29h-1zM7 1374h1v27h-1zM6 1401h2v24h-2zM6 1425h1v25h-1zM10 1425h1v25h-1zM6 1450h2v26h-2zM5 1502h1v25h-1zM6 1552h2v25h-2zM6 1577h1v22h-1zM5 1599h1v25h-1zM7 1599h1v25h-1zM9 1599h1v25h-1zM6 1624h1v26h-1zM6 1650h2v24h-2zM6 1674h1v21h-1zM9 1674h1v21h-1zM6 1695h1v20h-1zM7 1715h1v10h-1zM10 1715h1v10h-1z"/><path fill="#e7866a" d="M4 1280h2v38h-2zM6 1345h1v29h-1zM1 1374h1v27h-1zM5 1374h1v27h-1zM2 1401h1v24h-1zM4 1401h2v24h-2zM5 1425h1v25h-1zM2 1450h1v26h-1zM5 1450h1v26h-1zM3 1476h1v26h-1zM5 1476h1v26h-1zM2 1502h1v25h-1zM6 1502h1v25h-1zM4 1527h3v25h-3zM1 1552h1v25h-1zM4 1552h2v25h-2zM4 1577h2v22h-2zM2 1599h2v25h-2zM6 1599h1v25h-1zM5 1624h1v26h-1zM3 1650h1v24h-1zM5 1650h1v24h-1zM4 1674h2v21h-2zM2 1695h1v20h-1zM5 1695h1v20h-1zM5 1715h1v10h-1z"/><path fill="#e0775f" d="M1 1280h3v38h-3zM1 1318h4v27h-4zM0 1345h5v29h-5zM0 1374h1v27h-1zM2 1374h3v27h-3zM0 1401h1v24h-1zM3 1401h1v24h-1zM0 1425h5v25h-5zM1 1450h1v26h-1zM3 1450h2v26h-2zM2 1476h1v26h-1zM4 1476h1v26h-1zM0 1502h1v25h-1zM3 1502h2v25h-2zM0 1527h4v25h-4zM2 1552h2v25h-2zM1 1577h3v22h-3zM0 1599h2v25h-2zM4 1599h1v25h-1zM0 1624h1v26h-1zM2 1624h3v26h-3zM0 1650h2v24h-2zM4 1650h1v24h-1zM1 1674h3v21h-3zM0 1695h2v20h-2zM3 1695h2v20h-2zM0 1715h2v10h-2zM3 1715h2v10h-2z"/><path fill="#da6954" d="M0 1280h1v38h-1zM0 1318h1v27h-1zM1 1401h1v24h-1zM0 1450h1v26h-1zM1 1476h1v26h-1zM1 1502h1v25h-1zM0 1552h1v25h-1zM0 1577h1v22h-1zM1 1624h1v26h-1zM2 1650h1v24h-1zM0 1674h1v21h-1zM2 1715h1v10h-1z"/><path fill="#d35a4a" d="M0 1476h1v26h-1z"/></g>

<rect x="106.9" y="1279.2" width="583.1" height="445.5" fill="none" stroke="#000" stroke-width="1.6"/>
<path d="M223.44 1724.7v8M456.52 1724.7v8M689.6 1724.7v8M106.9 1724.7v4.2M339.98 1724.7v4.2M573.06 1724.7v4.2M106.9 1651.7h-8M106.9 1550.43h-8M106.9 1449.17h-8M106.9 1347.9h-8M106.9 1702.33h-4.2M106.9 1601.07h-4.2M106.9 1499.8h-4.2M106.9 1398.53h-4.2M106.9 1297.27h-4.2" stroke="#000" stroke-width="1.6" fill="none"/>
<text x="223.44" y="1758.4" text-anchor="middle" font-size="29.2">0.4</text>
<text x="456.52" y="1758.4" text-anchor="middle" font-size="29.2">0.5</text>
<text x="689.6" y="1758.4" text-anchor="middle" font-size="29.2">0.6</text>
<text x="94.4" y="1661.3" text-anchor="end" font-size="29.2">25</text>
<text x="94.4" y="1560.03" text-anchor="end" font-size="29.2">50</text>
<text x="94.4" y="1458.77" text-anchor="end" font-size="29.2">75</text>
<text x="94.4" y="1357.5" text-anchor="end" font-size="29.2">100</text>
<text x="398.95" y="1790.2" text-anchor="middle" font-size="29.2"><tspan font-style="italic">n</tspan> (10<tspan font-size="18.5" dy="-11">12</tspan><tspan dy="11"> cm</tspan><tspan font-size="18.5" dy="-11">-2</tspan><tspan dy="11">)</tspan></text>
<text transform="translate(33.5 1501.95) rotate(-90)" text-anchor="middle" font-size="29.2"><tspan font-style="italic">T</tspan> (mK)</text>
<text x="26.5" y="1249" font-size="27" font-weight="bold">g</text>
<rect x="545.6" y="1240.9" width="123.4" height="22.1" fill="url(#cb)" stroke="#000" stroke-width="1.6"/>
<text x="545.6" y="1233.8" text-anchor="middle" font-size="29.2">0</text>
<text x="669" y="1233.8" text-anchor="middle" font-size="29.2">400</text>
<text x="539.1" y="1262.1" text-anchor="end" font-size="29.2"><tspan font-style="italic">R</tspan><tspan font-style="italic" font-size="20.5" dy="8.4">xx</tspan><tspan dy="-8.4"> (</tspan><tspan font-family='"Liberation Serif", "Times New Roman", serif' font-size="33.5">Ω</tspan>)</text>
<text x="117.9" y="1315.8" font-size="29.8" font-weight="bold"><tspan font-style="italic">D</tspan> = 0.20 V/nm</text>
</g>
<g id="panel-h">
<g shape-rendering="crispEdges" transform="translate(831.20 0) scale(11.6520 1)"><path fill="#2d5da0" d="M22 1450h1v26h-1zM22 1502h1v25h-1zM23 1599h1v25h-1zM26 1599h1v25h-1zM21 1624h1v26h-1zM24 1624h1v26h-1zM24 1650h2v24h-2zM21 1674h2v21h-2zM26 1695h1v20h-1zM24 1715h1v10h-1z"/><path fill="#346aae" d="M24 1502h2v25h-2zM21 1577h2v22h-2zM20 1624h1v26h-1zM22 1624h2v26h-2zM26 1624h1v26h-1zM21 1650h3v24h-3zM20 1674h1v21h-1zM25 1674h1v21h-1zM22 1695h2v20h-2zM25 1695h1v20h-1zM27 1695h1v20h-1zM21 1715h2v10h-2zM25 1715h3v10h-3z"/><path fill="#3a74b3" d="M21 1425h1v25h-1zM23 1450h1v26h-1zM22 1476h3v26h-3zM21 1502h1v25h-1zM23 1502h1v25h-1zM20 1527h3v25h-3zM24 1527h2v25h-2zM20 1552h3v25h-3zM24 1552h2v25h-2zM23 1577h2v22h-2zM26 1577h1v22h-1zM20 1599h3v25h-3zM24 1599h2v25h-2zM19 1624h1v26h-1zM25 1624h1v26h-1zM19 1674h1v21h-1zM23 1674h2v21h-2zM19 1695h3v20h-3zM24 1695h1v20h-1zM19 1715h2v10h-2zM23 1715h1v10h-1z"/><path fill="#407eb9" d="M22 1374h1v27h-1zM22 1401h1v24h-1zM22 1425h2v25h-2zM20 1476h2v26h-2zM20 1502h1v25h-1zM23 1527h1v25h-1zM23 1552h1v25h-1zM26 1552h1v25h-1zM25 1577h1v22h-1zM20 1650h1v24h-1zM26 1650h1v24h-1zM26 1674h2v21h-2z"/><path fill="#4688be" d="M20 1450h1v26h-1zM25 1450h1v26h-1zM19 1599h1v25h-1zM19 1650h1v24h-1z"/><path fill="#4c92c4" d="M21 1401h1v24h-1zM24 1401h1v24h-1zM24 1425h1v25h-1zM21 1450h1v26h-1zM24 1450h1v26h-1zM25 1476h1v26h-1zM19 1577h2v22h-2zM27 1577h1v22h-1zM27 1599h1v25h-1z"/><path fill="#579cc9" d="M23 1401h1v24h-1zM26 1527h1v25h-1zM27 1624h1v26h-1zM27 1650h1v24h-1z"/><path fill="#65a6ce" d="M21 1374h1v27h-1zM23 1374h1v27h-1zM20 1425h1v25h-1zM26 1502h1v25h-1zM19 1527h1v25h-1zM19 1552h1v25h-1zM27 1552h1v25h-1z"/><path fill="#74b0d3" d="M22 1345h1v29h-1zM28 1715h1v10h-1z"/><path fill="#82bad8" d="M20 1401h1v24h-1zM25 1425h1v25h-1zM19 1476h1v26h-1zM26 1476h1v26h-1zM19 1502h1v25h-1zM28 1695h1v20h-1z"/><path fill="#91c4dd" d="M21 1345h1v29h-1zM25 1401h1v24h-1zM28 1577h1v22h-1zM28 1599h1v25h-1zM28 1624h1v26h-1zM28 1650h1v24h-1zM28 1674h1v21h-1z"/><path fill="#9ecbe1" d="M24 1374h1v27h-1zM19 1450h1v26h-1zM26 1450h1v26h-1z"/><path fill="#abd2e5" d="M48 1280h1v38h-1zM42 1318h1v27h-1zM20 1345h1v29h-1zM23 1345h1v29h-1zM46 1345h1v29h-1zM49 1345h1v29h-1zM20 1374h1v27h-1zM46 1374h1v27h-1zM27 1502h1v25h-1zM46 1502h1v25h-1zM27 1527h1v25h-1z"/><path fill="#b9d9e9" d="M37 1280h2v38h-2zM40 1280h1v38h-1zM42 1280h2v38h-2zM46 1280h1v38h-1zM49 1280h1v38h-1zM37 1318h2v27h-2zM43 1318h1v27h-1zM46 1318h1v27h-1zM48 1318h2v27h-2zM32 1345h1v29h-1zM38 1345h1v29h-1zM45 1345h1v29h-1zM47 1345h2v29h-2zM38 1374h1v27h-1zM43 1374h1v27h-1zM48 1374h2v27h-2zM46 1401h4v24h-4zM26 1425h1v25h-1zM38 1425h1v25h-1zM48 1425h1v25h-1zM46 1450h1v26h-1zM46 1476h1v26h-1zM49 1502h1v25h-1zM45 1527h1v25h-1zM49 1527h1v25h-1zM45 1552h1v25h-1zM49 1552h1v25h-1zM45 1577h2v22h-2zM49 1577h1v22h-1zM49 1599h1v25h-1zM46 1624h1v26h-1zM48 1624h1v26h-1zM46 1650h1v24h-1zM49 1674h1v21h-1zM46 1695h1v20h-1zM48 1695h1v20h-1zM46 1715h1v10h-1zM48 1715h2v10h-2z"/><path fill="#c6e0ed" d="M31 1280h2v38h-2zM35 1280h2v38h-2zM39 1280h1v38h-1zM41 1280h1v38h-1zM44 1280h2v38h-2zM47 1280h1v38h-1zM21 1318h2v27h-2zM30 1318h3v27h-3zM35 1318h2v27h-2zM39 1318h3v27h-3zM45 1318h1v27h-1zM30 1345h2v29h-2zM34 1345h1v29h-1zM36 1345h2v29h-2zM39 1345h2v29h-2zM42 1345h3v29h-3zM30 1374h3v27h-3zM39 1374h1v27h-1zM41 1374h2v27h-2zM44 1374h2v27h-2zM47 1374h1v27h-1zM31 1401h2v24h-2zM35 1401h4v24h-4zM40 1401h1v24h-1zM42 1401h4v24h-4zM19 1425h1v25h-1zM37 1425h1v25h-1zM40 1425h1v25h-1zM42 1425h1v25h-1zM44 1425h4v25h-4zM49 1425h1v25h-1zM30 1450h1v26h-1zM35 1450h1v26h-1zM38 1450h1v26h-1zM42 1450h2v26h-2zM45 1450h1v26h-1zM47 1450h3v26h-3zM32 1476h1v26h-1zM35 1476h1v26h-1zM38 1476h1v26h-1zM42 1476h1v26h-1zM45 1476h1v26h-1zM47 1476h3v26h-3zM35 1502h1v25h-1zM37 1502h4v25h-4zM43 1502h3v25h-3zM48 1502h1v25h-1zM32 1527h1v25h-1zM38 1527h2v25h-2zM43 1527h2v25h-2zM46 1527h1v25h-1zM48 1527h1v25h-1zM37 1552h2v25h-2zM44 1552h1v25h-1zM46 1552h1v25h-1zM48 1552h1v25h-1zM39 1577h1v22h-1zM42 1577h3v22h-3zM47 1577h2v22h-2zM38 1599h1v25h-1zM40 1599h1v25h-1zM46 1599h3v25h-3zM36 1624h1v26h-1zM38 1624h1v26h-1zM42 1624h1v26h-1zM47 1624h1v26h-1zM49 1624h1v26h-1zM36 1650h1v24h-1zM40 1650h1v24h-1zM42 1650h1v24h-1zM47 1650h3v24h-3zM38 1674h1v21h-1zM40 1674h1v21h-1zM42 1674h1v21h-1zM44 1674h5v21h-5zM36 1695h1v20h-1zM39 1695h1v20h-1zM44 1695h2v20h-2zM47 1695h1v20h-1zM49 1695h1v20h-1zM35 1715h2v10h-2zM42 1715h2v10h-2zM45 1715h1v10h-1zM47 1715h1v10h-1z"/><path fill="#d3e6f0" d="M29 1280h2v38h-2zM33 1280h2v38h-2zM29 1318h1v27h-1zM33 1318h2v27h-2zM44 1318h1v27h-1zM47 1318h1v27h-1zM28 1345h2v29h-2zM33 1345h1v29h-1zM35 1345h1v29h-1zM41 1345h1v29h-1zM29 1374h1v27h-1zM33 1374h5v27h-5zM40 1374h1v27h-1zM19 1401h1v24h-1zM30 1401h1v24h-1zM33 1401h2v24h-2zM39 1401h1v24h-1zM41 1401h1v24h-1zM30 1425h3v25h-3zM34 1425h3v25h-3zM39 1425h1v25h-1zM41 1425h1v25h-1zM43 1425h1v25h-1zM32 1450h1v26h-1zM34 1450h1v26h-1zM36 1450h2v26h-2zM39 1450h1v26h-1zM41 1450h1v26h-1zM44 1450h1v26h-1zM30 1476h1v26h-1zM34 1476h1v26h-1zM36 1476h2v26h-2zM39 1476h3v26h-3zM43 1476h2v26h-2zM30 1502h3v25h-3zM34 1502h1v25h-1zM36 1502h1v25h-1zM42 1502h1v25h-1zM47 1502h1v25h-1zM30 1527h1v25h-1zM35 1527h3v25h-3zM40 1527h3v25h-3zM47 1527h1v25h-1zM30 1552h3v25h-3zM35 1552h2v25h-2zM39 1552h5v25h-5zM47 1552h1v25h-1zM30 1577h3v22h-3zM35 1577h4v22h-4zM40 1577h2v22h-2zM30 1599h4v25h-4zM36 1599h2v25h-2zM39 1599h1v25h-1zM41 1599h5v25h-5zM30 1624h1v26h-1zM32 1624h1v26h-1zM35 1624h1v26h-1zM37 1624h1v26h-1zM39 1624h2v26h-2zM43 1624h3v26h-3zM30 1650h3v24h-3zM37 1650h3v24h-3zM41 1650h1v24h-1zM43 1650h3v24h-3zM30 1674h3v21h-3zM35 1674h3v21h-3zM39 1674h1v21h-1zM41 1674h1v21h-1zM43 1674h1v21h-1zM30 1695h6v20h-6zM37 1695h2v20h-2zM40 1695h1v20h-1zM42 1695h2v20h-2zM30 1715h3v10h-3zM37 1715h4v10h-4zM44 1715h1v10h-1z"/><path fill="#dbeaf2" d="M24 1280h3v38h-3zM28 1280h1v38h-1zM25 1318h1v27h-1zM24 1345h1v29h-1zM26 1345h2v29h-2zM26 1374h1v27h-1zM28 1374h1v27h-1zM26 1401h4v24h-4zM27 1425h1v25h-1zM29 1425h1v25h-1zM33 1425h1v25h-1zM28 1450h2v26h-2zM31 1450h1v26h-1zM33 1450h1v26h-1zM40 1450h1v26h-1zM31 1476h1v26h-1zM33 1476h1v26h-1zM29 1502h1v25h-1zM33 1502h1v25h-1zM41 1502h1v25h-1zM28 1527h2v25h-2zM31 1527h1v25h-1zM33 1527h2v25h-2zM28 1552h1v25h-1zM33 1552h2v25h-2zM29 1577h1v22h-1zM33 1577h2v22h-2zM29 1599h1v25h-1zM34 1599h2v25h-2zM29 1624h1v26h-1zM31 1624h1v26h-1zM33 1624h2v26h-2zM41 1624h1v26h-1zM29 1650h1v24h-1zM33 1650h3v24h-3zM29 1674h1v21h-1zM33 1674h2v21h-2zM29 1695h1v20h-1zM41 1695h1v20h-1zM29 1715h1v10h-1zM33 1715h2v10h-2zM41 1715h1v10h-1z"/><path fill="#e3edf3" d="M27 1280h1v38h-1zM20 1318h1v27h-1zM23 1318h2v27h-2zM26 1318h3v27h-3zM25 1345h1v29h-1zM25 1374h1v27h-1zM28 1425h1v25h-1zM27 1450h1v26h-1zM27 1476h3v26h-3zM28 1502h1v25h-1zM29 1552h1v25h-1zM18 1650h1v24h-1z"/><path fill="#ebf1f5" d="M22 1280h2v38h-2zM27 1374h1v27h-1z"/><path fill="#f3f5f6" d="M21 1280h1v38h-1zM18 1552h1v25h-1zM18 1599h1v25h-1zM18 1624h1v26h-1zM18 1674h1v21h-1zM18 1695h1v20h-1zM18 1715h1v10h-1z"/><path fill="#f8f4f2" d="M19 1318h1v27h-1zM19 1345h1v29h-1zM19 1374h1v27h-1zM18 1425h1v25h-1zM18 1527h1v25h-1zM18 1577h1v22h-1z"/><path fill="#f9eee8" d="M20 1280h1v38h-1zM18 1450h1v26h-1zM18 1476h1v26h-1zM17 1650h1v24h-1zM17 1674h1v21h-1zM17 1695h1v20h-1z"/><path fill="#fae8dd" d="M19 1280h1v38h-1zM18 1345h1v29h-1zM18 1401h1v24h-1zM18 1502h1v25h-1zM17 1577h1v22h-1zM17 1599h1v25h-1zM17 1624h1v26h-1zM16 1674h1v21h-1zM17 1715h1v10h-1z"/><path fill="#fbe2d3" d="M18 1280h1v38h-1zM16 1318h3v27h-3zM16 1345h1v29h-1zM16 1374h1v27h-1zM18 1374h1v27h-1zM16 1425h1v25h-1zM16 1476h1v26h-1zM16 1502h1v25h-1zM16 1527h2v25h-2zM17 1552h1v25h-1zM16 1577h1v22h-1zM16 1599h1v25h-1zM16 1624h1v26h-1zM16 1650h1v24h-1zM16 1695h1v20h-1zM16 1715h1v10h-1z"/><path fill="#fddcc9" d="M13 1280h1v38h-1zM15 1280h3v38h-3zM14 1345h1v29h-1zM17 1345h1v29h-1zM17 1374h1v27h-1zM14 1401h1v24h-1zM16 1401h2v24h-2zM14 1425h1v25h-1zM13 1450h1v26h-1zM16 1450h2v26h-2zM13 1476h1v26h-1zM15 1502h1v25h-1zM17 1502h1v25h-1zM14 1527h2v25h-2zM14 1552h1v25h-1zM16 1552h1v25h-1zM13 1577h1v22h-1zM15 1650h1v24h-1zM14 1674h1v21h-1zM13 1695h1v20h-1z"/><path fill="#fbd2bb" d="M10 1280h1v38h-1zM12 1280h1v38h-1zM14 1280h1v38h-1zM13 1318h3v27h-3zM10 1345h2v29h-2zM13 1345h1v29h-1zM15 1345h1v29h-1zM11 1374h1v27h-1zM14 1374h2v27h-2zM12 1401h2v24h-2zM15 1401h1v24h-1zM11 1425h1v25h-1zM13 1425h1v25h-1zM15 1425h1v25h-1zM17 1425h1v25h-1zM10 1450h3v26h-3zM15 1450h1v26h-1zM11 1476h1v26h-1zM14 1476h2v26h-2zM17 1476h1v26h-1zM13 1502h2v25h-2zM13 1527h1v25h-1zM11 1552h1v25h-1zM13 1552h1v25h-1zM15 1552h1v25h-1zM12 1577h1v22h-1zM14 1577h2v22h-2zM11 1599h1v25h-1zM13 1599h3v25h-3zM13 1624h3v26h-3zM11 1650h1v24h-1zM13 1650h2v24h-2zM11 1674h1v21h-1zM15 1674h1v21h-1zM14 1695h2v20h-2zM10 1715h2v10h-2zM13 1715h3v10h-3z"/><path fill="#fac6ad" d="M4 1280h1v38h-1zM11 1280h1v38h-1zM7 1318h1v27h-1zM10 1318h3v27h-3zM6 1345h2v29h-2zM7 1374h4v27h-4zM12 1374h2v27h-2zM5 1401h1v24h-1zM7 1401h1v24h-1zM9 1401h1v24h-1zM11 1401h1v24h-1zM5 1425h1v25h-1zM7 1425h3v25h-3zM12 1425h1v25h-1zM5 1450h2v26h-2zM8 1450h2v26h-2zM14 1450h1v26h-1zM5 1476h1v26h-1zM10 1476h1v26h-1zM12 1476h1v26h-1zM8 1502h5v25h-5zM9 1527h4v25h-4zM7 1552h4v25h-4zM12 1552h1v25h-1zM8 1577h4v22h-4zM9 1599h1v25h-1zM8 1624h1v26h-1zM10 1624h2v26h-2zM7 1650h2v24h-2zM10 1650h1v24h-1zM12 1650h1v24h-1zM4 1674h1v21h-1zM8 1674h1v21h-1zM10 1674h1v21h-1zM12 1674h2v21h-2zM8 1695h5v20h-5zM5 1715h1v10h-1zM8 1715h2v10h-2zM12 1715h1v10h-1z"/><path fill="#f8bb9e" d="M2 1280h2v38h-2zM8 1280h2v38h-2zM3 1318h1v27h-1zM5 1318h2v27h-2zM8 1318h2v27h-2zM4 1345h2v29h-2zM8 1345h2v29h-2zM12 1345h1v29h-1zM3 1374h4v27h-4zM4 1401h1v24h-1zM6 1401h1v24h-1zM8 1401h1v24h-1zM10 1401h1v24h-1zM2 1425h1v25h-1zM6 1425h1v25h-1zM10 1425h1v25h-1zM4 1450h1v26h-1zM7 1450h1v26h-1zM4 1476h1v26h-1zM6 1476h4v26h-4zM3 1502h5v25h-5zM4 1527h5v25h-5zM4 1552h3v25h-3zM2 1577h6v22h-6zM3 1599h6v25h-6zM10 1599h1v25h-1zM12 1599h1v25h-1zM2 1624h1v26h-1zM4 1624h4v26h-4zM9 1624h1v26h-1zM12 1624h1v26h-1zM4 1650h3v24h-3zM9 1650h1v24h-1zM5 1674h3v21h-3zM9 1674h1v21h-1zM2 1695h2v20h-2zM6 1695h2v20h-2zM3 1715h2v10h-2zM6 1715h2v10h-2z"/><path fill="#f6af8f" d="M5 1280h3v38h-3zM1 1318h2v27h-2zM4 1318h1v27h-1zM2 1345h2v29h-2zM2 1374h1v27h-1zM2 1401h2v24h-2zM3 1425h2v25h-2zM1 1450h1v26h-1zM3 1450h1v26h-1zM2 1476h1v26h-1zM2 1502h1v25h-1zM2 1527h2v25h-2zM2 1552h2v25h-2zM1 1624h1v26h-1zM3 1624h1v26h-1zM1 1650h1v24h-1zM3 1650h1v24h-1zM1 1674h1v21h-1zM4 1695h2v20h-2z"/><path fill="#f3a481" d="M1 1280h1v38h-1zM0 1318h1v27h-1zM1 1345h1v29h-1zM1 1374h1v27h-1zM1 1401h1v24h-1zM1 1425h1v25h-1zM2 1450h1v26h-1zM1 1476h1v26h-1zM3 1476h1v26h-1zM1 1502h1v25h-1zM1 1527h1v25h-1zM1 1552h1v25h-1zM1 1577h1v22h-1zM0 1599h3v25h-3zM0 1624h1v26h-1zM2 1650h1v24h-1zM2 1674h2v21h-2zM1 1695h1v20h-1zM1 1715h2v10h-2z"/><path fill="#ed9576" d="M0 1280h1v38h-1zM0 1345h1v29h-1zM0 1374h1v27h-1zM0 1401h1v24h-1zM0 1425h1v25h-1zM0 1450h1v26h-1zM0 1476h1v26h-1zM0 1502h1v25h-1zM0 1527h1v25h-1zM0 1552h1v25h-1zM0 1577h1v22h-1zM0 1674h1v21h-1zM0 1695h1v20h-1zM0 1715h1v10h-1z"/><path fill="#e7866a" d="M0 1650h1v24h-1z"/></g>

<rect x="830.9" y="1279.2" width="583.1" height="445.5" fill="none" stroke="#000" stroke-width="1.6"/>
<path d="M830.9 1724.7v8M1063.98 1724.7v8M1297.06 1724.7v8M947.44 1724.7v4.2M1180.52 1724.7v4.2M1413.6 1724.7v4.2M830.9 1651.7h-8M830.9 1550.43h-8M830.9 1449.17h-8M830.9 1347.9h-8M830.9 1702.33h-4.2M830.9 1601.07h-4.2M830.9 1499.8h-4.2M830.9 1398.53h-4.2M830.9 1297.27h-4.2" stroke="#000" stroke-width="1.6" fill="none"/>
<text x="830.9" y="1758.4" text-anchor="middle" font-size="29.2">0.4</text>
<text x="1063.98" y="1758.4" text-anchor="middle" font-size="29.2">0.5</text>
<text x="1297.06" y="1758.4" text-anchor="middle" font-size="29.2">0.6</text>
<text x="818.4" y="1661.3" text-anchor="end" font-size="29.2">25</text>
<text x="818.4" y="1560.03" text-anchor="end" font-size="29.2">50</text>
<text x="818.4" y="1458.77" text-anchor="end" font-size="29.2">75</text>
<text x="818.4" y="1357.5" text-anchor="end" font-size="29.2">100</text>
<text x="1122.95" y="1790.2" text-anchor="middle" font-size="29.2"><tspan font-style="italic">n</tspan> (10<tspan font-size="18.5" dy="-11">12</tspan><tspan dy="11"> cm</tspan><tspan font-size="18.5" dy="-11">-2</tspan><tspan dy="11">)</tspan></text>
<text transform="translate(757.5 1501.95) rotate(-90)" text-anchor="middle" font-size="29.2"><tspan font-style="italic">T</tspan> (mK)</text>
<text x="750" y="1249" font-size="27" font-weight="bold">h</text>
<rect x="1269.6" y="1240.9" width="123.4" height="22.1" fill="url(#cb)" stroke="#000" stroke-width="1.6"/>
<text x="1269.6" y="1233.8" text-anchor="middle" font-size="29.2">0</text>
<text x="1393" y="1233.8" text-anchor="middle" font-size="29.2">400</text>
<text x="1263.1" y="1262.1" text-anchor="end" font-size="29.2"><tspan font-style="italic">R</tspan><tspan font-style="italic" font-size="20.5" dy="8.4">xx</tspan><tspan dy="-8.4"> (</tspan><tspan font-family='"Liberation Serif", "Times New Roman", serif' font-size="33.5">Ω</tspan>)</text>
<text x="841.9" y="1315.8" font-size="29.8" font-weight="bold"><tspan font-style="italic">D</tspan> = 0.23 V/nm</text>
</g>
<g id="panel-i">
<g shape-rendering="crispEdges" transform="translate(1555.00 0) scale(11.7551 1)"><path fill="#2d5da0" d="M22 1599h1v25h-1zM22 1674h1v21h-1zM21 1695h1v20h-1z"/><path fill="#346aae" d="M21 1527h1v25h-1zM21 1577h2v22h-2zM21 1599h1v25h-1zM21 1624h2v26h-2zM21 1650h2v24h-2zM21 1674h1v21h-1zM23 1674h1v21h-1zM22 1695h1v20h-1zM20 1715h3v10h-3z"/><path fill="#3a74b3" d="M21 1502h1v25h-1zM21 1552h2v25h-2zM20 1674h1v21h-1z"/><path fill="#407eb9" d="M22 1502h1v25h-1zM23 1599h1v25h-1zM20 1624h1v26h-1zM23 1624h1v26h-1zM23 1650h1v24h-1zM20 1695h1v20h-1zM23 1695h1v20h-1zM23 1715h1v10h-1z"/><path fill="#4688be" d="M22 1527h1v25h-1zM23 1552h1v25h-1zM23 1577h1v22h-1zM20 1599h1v25h-1zM24 1674h1v21h-1z"/><path fill="#4c92c4" d="M20 1577h1v22h-1zM20 1650h1v24h-1z"/><path fill="#579cc9" d="M23 1527h1v25h-1zM20 1552h1v25h-1zM24 1650h1v24h-1zM24 1695h1v20h-1zM24 1715h1v10h-1z"/><path fill="#65a6ce" d="M21 1476h2v26h-2zM23 1502h1v25h-1zM24 1624h1v26h-1z"/><path fill="#74b0d3" d="M20 1502h1v25h-1zM20 1527h1v25h-1zM24 1599h1v25h-1z"/><path fill="#91c4dd" d="M21 1450h2v26h-2z"/><path fill="#9ecbe1" d="M46 1345h1v29h-1zM48 1425h1v25h-1zM20 1476h1v26h-1zM19 1650h1v24h-1zM19 1695h1v20h-1zM19 1715h1v10h-1z"/><path fill="#abd2e5" d="M32 1318h1v27h-1zM40 1318h2v27h-2zM44 1318h2v27h-2zM47 1318h2v27h-2zM38 1345h1v29h-1zM40 1345h1v29h-1zM44 1345h2v29h-2zM48 1345h1v29h-1zM40 1374h2v27h-2zM43 1374h1v27h-1zM45 1374h4v27h-4zM41 1401h1v24h-1zM43 1401h1v24h-1zM45 1401h3v24h-3zM22 1425h1v25h-1zM35 1425h1v25h-1zM41 1425h1v25h-1zM47 1425h1v25h-1zM45 1450h2v26h-2zM44 1476h1v26h-1zM43 1502h2v25h-2zM46 1502h1v25h-1zM48 1502h1v25h-1zM24 1527h1v25h-1zM44 1527h1v25h-1zM46 1527h1v25h-1zM48 1552h1v25h-1zM47 1577h1v22h-1zM19 1599h1v25h-1zM43 1599h4v25h-4zM48 1599h1v25h-1zM19 1624h1v26h-1zM43 1624h1v26h-1zM46 1650h3v24h-3zM19 1674h1v21h-1zM41 1674h1v21h-1zM46 1695h1v20h-1zM48 1695h1v20h-1zM46 1715h1v10h-1z"/><path fill="#b9d9e9" d="M29 1318h2v27h-2zM33 1318h3v27h-3zM37 1318h2v27h-2zM42 1318h2v27h-2zM46 1318h1v27h-1zM31 1345h2v29h-2zM34 1345h2v29h-2zM37 1345h1v29h-1zM41 1345h3v29h-3zM47 1345h1v29h-1zM30 1374h1v27h-1zM32 1374h7v27h-7zM42 1374h1v27h-1zM44 1374h1v27h-1zM30 1401h2v24h-2zM33 1401h8v24h-8zM42 1401h1v24h-1zM44 1401h1v24h-1zM48 1401h1v24h-1zM21 1425h1v25h-1zM29 1425h1v25h-1zM34 1425h1v25h-1zM37 1425h1v25h-1zM40 1425h1v25h-1zM42 1425h5v25h-5zM35 1450h1v26h-1zM37 1450h2v26h-2zM40 1450h5v26h-5zM47 1450h2v26h-2zM33 1476h3v26h-3zM39 1476h1v26h-1zM41 1476h3v26h-3zM45 1476h4v26h-4zM30 1502h1v25h-1zM38 1502h1v25h-1zM41 1502h1v25h-1zM45 1502h1v25h-1zM47 1502h1v25h-1zM35 1527h4v25h-4zM41 1527h1v25h-1zM43 1527h1v25h-1zM45 1527h1v25h-1zM47 1527h2v25h-2zM24 1552h1v25h-1zM36 1552h1v25h-1zM38 1552h1v25h-1zM43 1552h5v25h-5zM19 1577h1v22h-1zM24 1577h1v22h-1zM33 1577h1v22h-1zM35 1577h1v22h-1zM38 1577h4v22h-4zM44 1577h3v22h-3zM48 1577h1v22h-1zM34 1599h2v25h-2zM38 1599h1v25h-1zM40 1599h3v25h-3zM47 1599h1v25h-1zM32 1624h1v26h-1zM34 1624h2v26h-2zM40 1624h2v26h-2zM44 1624h1v26h-1zM46 1624h3v26h-3zM32 1650h1v24h-1zM34 1650h2v24h-2zM37 1650h2v24h-2zM41 1650h5v24h-5zM34 1674h1v21h-1zM45 1674h4v21h-4zM31 1695h1v20h-1zM36 1695h1v20h-1zM38 1695h1v20h-1zM40 1695h6v20h-6zM47 1695h1v20h-1zM36 1715h3v10h-3zM40 1715h1v10h-1zM43 1715h1v10h-1zM45 1715h1v10h-1zM48 1715h1v10h-1z"/><path fill="#c6e0ed" d="M28 1318h1v27h-1zM36 1318h1v27h-1zM39 1318h1v27h-1zM27 1345h4v29h-4zM33 1345h1v29h-1zM36 1345h1v29h-1zM39 1345h1v29h-1zM28 1374h1v27h-1zM31 1374h1v27h-1zM39 1374h1v27h-1zM27 1401h3v24h-3zM32 1401h1v24h-1zM30 1425h3v25h-3zM36 1425h1v25h-1zM38 1425h2v25h-2zM30 1450h5v26h-5zM36 1450h1v26h-1zM23 1476h1v26h-1zM29 1476h4v26h-4zM36 1476h3v26h-3zM31 1502h7v25h-7zM39 1502h2v25h-2zM42 1502h1v25h-1zM29 1527h4v25h-4zM34 1527h1v25h-1zM39 1527h2v25h-2zM42 1527h1v25h-1zM31 1552h5v25h-5zM39 1552h4v25h-4zM30 1577h1v22h-1zM32 1577h1v22h-1zM34 1577h1v22h-1zM36 1577h2v22h-2zM42 1577h2v22h-2zM30 1599h2v25h-2zM33 1599h1v25h-1zM37 1599h1v25h-1zM28 1624h1v26h-1zM30 1624h1v26h-1zM36 1624h4v26h-4zM42 1624h1v26h-1zM45 1624h1v26h-1zM30 1650h2v24h-2zM33 1650h1v24h-1zM39 1650h2v24h-2zM31 1674h1v21h-1zM33 1674h1v21h-1zM35 1674h6v21h-6zM42 1674h3v21h-3zM32 1695h1v20h-1zM34 1695h2v20h-2zM37 1695h1v20h-1zM39 1695h1v20h-1zM25 1715h1v10h-1zM32 1715h1v10h-1zM34 1715h2v10h-2zM39 1715h1v10h-1zM41 1715h2v10h-2zM44 1715h1v10h-1zM47 1715h1v10h-1z"/><path fill="#d3e6f0" d="M25 1318h3v27h-3zM31 1318h1v27h-1zM24 1345h3v29h-3zM24 1374h1v27h-1zM26 1374h2v27h-2zM29 1374h1v27h-1zM21 1401h1v24h-1zM24 1401h1v24h-1zM25 1425h4v25h-4zM33 1425h1v25h-1zM26 1450h4v26h-4zM39 1450h1v26h-1zM24 1476h2v26h-2zM27 1476h2v26h-2zM40 1476h1v26h-1zM27 1502h3v25h-3zM25 1527h1v25h-1zM27 1527h2v25h-2zM33 1527h1v25h-1zM19 1552h1v25h-1zM27 1552h4v25h-4zM37 1552h1v25h-1zM28 1577h2v22h-2zM31 1577h1v22h-1zM25 1599h3v25h-3zM29 1599h1v25h-1zM32 1599h1v25h-1zM36 1599h1v25h-1zM39 1599h1v25h-1zM27 1624h1v26h-1zM29 1624h1v26h-1zM31 1624h1v26h-1zM33 1624h1v26h-1zM25 1650h5v24h-5zM36 1650h1v24h-1zM27 1674h4v21h-4zM32 1674h1v21h-1zM25 1695h1v20h-1zM27 1695h4v20h-4zM33 1695h1v20h-1zM27 1715h5v10h-5zM33 1715h1v10h-1z"/><path fill="#dbeaf2" d="M23 1318h2v27h-2zM21 1345h1v29h-1zM23 1345h1v29h-1zM22 1374h1v27h-1zM25 1374h1v27h-1zM22 1401h2v24h-2zM26 1401h1v24h-1zM23 1425h2v25h-2zM20 1450h1v26h-1zM23 1450h3v26h-3zM26 1476h1v26h-1zM24 1502h3v25h-3zM26 1527h1v25h-1zM25 1552h2v25h-2zM25 1577h3v22h-3zM28 1599h1v25h-1zM25 1624h2v26h-2zM25 1674h2v21h-2zM26 1695h1v20h-1zM26 1715h1v10h-1z"/><path fill="#e3edf3" d="M21 1318h2v27h-2zM22 1345h1v29h-1zM20 1374h2v27h-2zM23 1374h1v27h-1zM25 1401h1v24h-1zM20 1425h1v25h-1zM19 1502h1v25h-1zM19 1527h1v25h-1z"/><path fill="#ebf1f5" d="M20 1318h1v27h-1zM20 1401h1v24h-1z"/><path fill="#f3f5f6" d="M20 1345h1v29h-1zM18 1502h1v25h-1zM18 1577h1v22h-1zM18 1624h1v26h-1zM18 1674h1v21h-1z"/><path fill="#f8f4f2" d="M18 1318h1v27h-1zM18 1345h2v29h-2zM19 1374h1v27h-1zM19 1425h1v25h-1zM19 1450h1v26h-1zM18 1476h2v26h-2zM18 1527h1v25h-1zM18 1552h1v25h-1zM18 1599h1v25h-1zM16 1624h1v26h-1zM18 1650h1v24h-1zM18 1695h1v20h-1zM18 1715h1v10h-1z"/><path fill="#f9eee8" d="M19 1318h1v27h-1zM13 1345h1v29h-1zM18 1374h1v27h-1zM16 1401h1v24h-1zM18 1401h2v24h-2zM16 1425h1v25h-1zM18 1425h1v25h-1zM14 1450h1v26h-1zM16 1450h1v26h-1zM14 1502h1v25h-1zM16 1502h1v25h-1zM17 1527h1v25h-1zM13 1599h1v25h-1zM17 1599h1v25h-1zM17 1624h1v26h-1zM16 1650h2v24h-2zM17 1674h1v21h-1zM17 1695h1v20h-1zM17 1715h1v10h-1z"/><path fill="#fae8dd" d="M15 1318h3v27h-3zM12 1345h1v29h-1zM14 1345h4v29h-4zM14 1374h1v27h-1zM16 1374h2v27h-2zM14 1401h1v24h-1zM17 1401h1v24h-1zM14 1425h2v25h-2zM17 1425h1v25h-1zM13 1450h1v26h-1zM15 1450h1v26h-1zM18 1450h1v26h-1zM14 1476h4v26h-4zM10 1502h1v25h-1zM17 1502h1v25h-1zM14 1527h3v25h-3zM13 1552h2v25h-2zM16 1552h2v25h-2zM9 1577h1v22h-1zM14 1577h4v22h-4zM14 1599h3v25h-3zM14 1624h1v26h-1zM15 1650h1v24h-1zM14 1674h3v21h-3zM13 1695h1v20h-1zM15 1695h2v20h-2zM13 1715h2v10h-2zM16 1715h1v10h-1z"/><path fill="#fbe2d3" d="M6 1318h1v27h-1zM9 1318h2v27h-2zM12 1318h3v27h-3zM5 1345h1v29h-1zM10 1345h1v29h-1zM6 1374h1v27h-1zM10 1374h2v27h-2zM13 1374h1v27h-1zM15 1374h1v27h-1zM10 1401h4v24h-4zM15 1401h1v24h-1zM6 1425h1v25h-1zM10 1425h1v25h-1zM13 1425h1v25h-1zM10 1450h1v26h-1zM12 1450h1v26h-1zM17 1450h1v26h-1zM6 1476h1v26h-1zM10 1476h1v26h-1zM13 1476h1v26h-1zM6 1502h1v25h-1zM11 1502h3v25h-3zM15 1502h1v25h-1zM9 1527h5v25h-5zM5 1552h1v25h-1zM8 1552h4v25h-4zM15 1552h1v25h-1zM10 1577h4v22h-4zM9 1599h4v25h-4zM9 1624h1v26h-1zM11 1624h1v26h-1zM13 1624h1v26h-1zM15 1624h1v26h-1zM9 1650h3v24h-3zM13 1650h2v24h-2zM6 1674h3v21h-3zM10 1674h1v21h-1zM12 1674h2v21h-2zM10 1695h2v20h-2zM14 1695h1v20h-1zM10 1715h3v10h-3zM15 1715h1v10h-1z"/><path fill="#fddcc9" d="M5 1318h1v27h-1zM7 1318h2v27h-2zM11 1318h1v27h-1zM4 1345h1v29h-1zM6 1345h4v29h-4zM11 1345h1v29h-1zM5 1374h1v27h-1zM7 1374h3v27h-3zM12 1374h1v27h-1zM5 1401h2v24h-2zM9 1401h1v24h-1zM4 1425h2v25h-2zM7 1425h3v25h-3zM11 1425h2v25h-2zM5 1450h2v26h-2zM8 1450h2v26h-2zM11 1450h1v26h-1zM5 1476h1v26h-1zM7 1476h3v26h-3zM11 1476h2v26h-2zM7 1502h3v25h-3zM5 1527h4v25h-4zM6 1552h2v25h-2zM12 1552h1v25h-1zM6 1577h3v22h-3zM5 1599h4v25h-4zM5 1624h1v26h-1zM7 1624h2v26h-2zM10 1624h1v26h-1zM12 1624h1v26h-1zM4 1650h5v24h-5zM12 1650h1v24h-1zM4 1674h2v21h-2zM9 1674h1v21h-1zM11 1674h1v21h-1zM5 1695h3v20h-3zM9 1695h1v20h-1zM12 1695h1v20h-1zM5 1715h2v10h-2zM8 1715h2v10h-2z"/><path fill="#fbd2bb" d="M4 1318h1v27h-1zM1 1345h1v29h-1zM4 1374h1v27h-1zM4 1401h1v24h-1zM7 1401h2v24h-2zM4 1450h1v26h-1zM7 1450h1v26h-1zM4 1476h1v26h-1zM2 1502h1v25h-1zM4 1502h2v25h-2zM4 1527h1v25h-1zM4 1552h1v25h-1zM4 1577h2v22h-2zM4 1599h1v25h-1zM4 1624h1v26h-1zM6 1624h1v26h-1zM1 1695h1v20h-1zM4 1695h1v20h-1zM8 1695h1v20h-1zM4 1715h1v10h-1zM7 1715h1v10h-1z"/><path fill="#fac6ad" d="M0 1318h3v27h-3zM2 1345h2v29h-2zM0 1374h1v27h-1zM2 1374h1v27h-1zM0 1401h3v24h-3zM0 1425h4v25h-4zM0 1450h2v26h-2zM3 1450h1v26h-1zM0 1476h3v26h-3zM0 1502h2v25h-2zM0 1527h4v25h-4zM0 1552h2v25h-2zM3 1552h1v25h-1zM0 1577h3v22h-3zM0 1599h3v25h-3zM0 1624h1v26h-1zM2 1624h1v26h-1zM1 1650h2v24h-2zM1 1674h2v21h-2zM0 1695h1v20h-1zM2 1695h2v20h-2zM0 1715h2v10h-2z"/><path fill="#f8bb9e" d="M3 1318h1v27h-1zM0 1345h1v29h-1zM1 1374h1v27h-1zM3 1374h1v27h-1zM3 1401h1v24h-1zM2 1450h1v26h-1zM3 1476h1v26h-1zM3 1502h1v25h-1zM2 1552h1v25h-1zM3 1577h1v22h-1zM3 1599h1v25h-1zM1 1624h1v26h-1zM3 1624h1v26h-1zM0 1650h1v24h-1zM0 1674h1v21h-1zM3 1674h1v21h-1zM2 1715h2v10h-2z"/><path fill="#f6af8f" d="M3 1650h1v24h-1z"/></g>

<rect x="1554.3" y="1279.2" width="583.9" height="445.5" fill="none" stroke="#000" stroke-width="1.6"/>
<path d="M1671 1724.7v8M1904.4 1724.7v8M2137.8 1724.7v8M1554.3 1724.7v4.2M1787.7 1724.7v4.2M2021.1 1724.7v4.2M1554.3 1651.7h-8M1554.3 1550.43h-8M1554.3 1449.17h-8M1554.3 1347.9h-8M1554.3 1702.33h-4.2M1554.3 1601.07h-4.2M1554.3 1499.8h-4.2M1554.3 1398.53h-4.2M1554.3 1297.27h-4.2" stroke="#000" stroke-width="1.6" fill="none"/>
<text x="1671" y="1758.4" text-anchor="middle" font-size="29.2">0.5</text>
<text x="1904.4" y="1758.4" text-anchor="middle" font-size="29.2">0.6</text>
<text x="2137.8" y="1758.4" text-anchor="middle" font-size="29.2">0.7</text>
<text x="1541.8" y="1661.3" text-anchor="end" font-size="29.2">25</text>
<text x="1541.8" y="1560.03" text-anchor="end" font-size="29.2">50</text>
<text x="1541.8" y="1458.77" text-anchor="end" font-size="29.2">75</text>
<text x="1541.8" y="1357.5" text-anchor="end" font-size="29.2">100</text>
<text x="1846.75" y="1790.2" text-anchor="middle" font-size="29.2"><tspan font-style="italic">n</tspan> (10<tspan font-size="18.5" dy="-11">12</tspan><tspan dy="11"> cm</tspan><tspan font-size="18.5" dy="-11">-2</tspan><tspan dy="11">)</tspan></text>
<text transform="translate(1481 1501.95) rotate(-90)" text-anchor="middle" font-size="29.2"><tspan font-style="italic">T</tspan> (mK)</text>
<text x="1474" y="1249" font-size="27" font-weight="bold">i</text>
<rect x="1993" y="1240.9" width="123.4" height="22.1" fill="url(#cb)" stroke="#000" stroke-width="1.6"/>
<text x="1993" y="1233.8" text-anchor="middle" font-size="29.2">0</text>
<text x="2116.4" y="1233.8" text-anchor="middle" font-size="29.2">400</text>
<text x="1986.5" y="1262.1" text-anchor="end" font-size="29.2"><tspan font-style="italic">R</tspan><tspan font-style="italic" font-size="20.5" dy="8.4">xx</tspan><tspan dy="-8.4"> (</tspan><tspan font-family='"Liberation Serif", "Times New Roman", serif' font-size="33.5">Ω</tspan>)</text>
<text x="1565.3" y="1315.8" font-size="29.8" font-weight="bold"><tspan font-style="italic">D</tspan> = 0.26 V/nm</text>
</g>
</svg></body></html>
